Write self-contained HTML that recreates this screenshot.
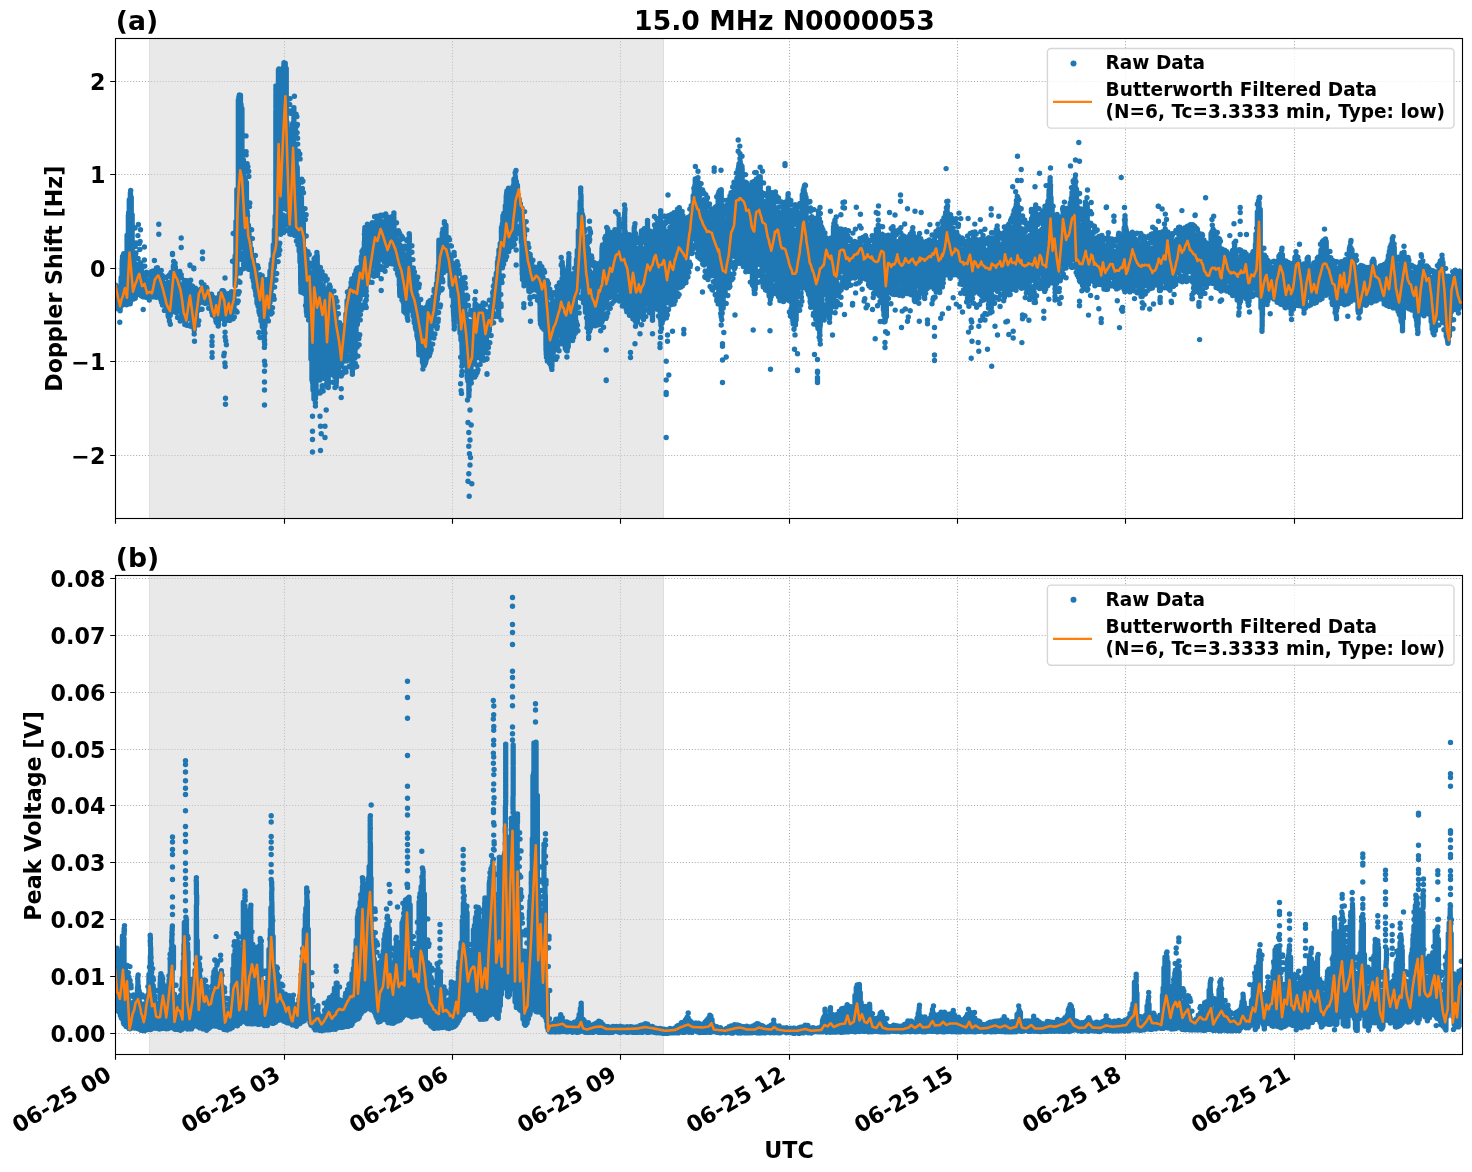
<!DOCTYPE html>
<html lang="en"><head><meta charset="utf-8"><title>15.0 MHz N0000053</title>
<style>html,body{margin:0;padding:0;background:#fff}svg{display:block}text{font-family:"DejaVu Sans","Liberation Sans",sans-serif;font-weight:bold;fill:#000}.t{font-size:22.22px}.T{font-size:26.67px}.l{font-size:18.52px}.g{stroke:#b0b0b0;stroke-width:1.11;stroke-dasharray:1.11 1.83;fill:none}.k{stroke:#000;stroke-width:1.11;fill:none}</style></head><body>
<svg width="1472" height="1172" viewBox="0 0 1472 1172">
<rect width="1472" height="1172" fill="#fff"/>
<defs>
<clipPath id="c0"><rect x="115.50" y="38.50" width="1347.00" height="480.00"/></clipPath>
<clipPath id="c1"><rect x="115.50" y="575.50" width="1347.00" height="479.00"/></clipPath>
</defs>
<g id="panel0">
<path class="g" d="M284.50 518.50V38.50M452.50 518.50V38.50M620.50 518.50V38.50M789.50 518.50V38.50M957.50 518.50V38.50M1125.50 518.50V38.50M1294.50 518.50V38.50M115.50 81.50H1462.50M115.50 174.50H1462.50M115.50 268.50H1462.50M115.50 361.50H1462.50M115.50 455.50H1462.50"/>
<rect x="149.00" y="38.50" width="515.00" height="480.00" fill="#d3d3d3" fill-opacity="0.5"/>
<path d="M149.5 38.50V518.50M663.5 38.50V518.50" stroke="#d3d3d3" stroke-opacity="0.5" stroke-width="1" fill="none"/>
<g clip-path="url(#c0)">
<path d="M117.2 291.2V301.4M118.1 293.2V303.3M119.1 291.6V306.8M120.1 291.7V310.7M121.2 277.5V306.0M122.1 269.3V302.9M123.5 264.7V301.0M124.4 263.6V299.7M125.0 261.6V301.0M126.0 259.5V295.7M127.1 235.1V288.5M128.4 215.5V287.4M129.3 199.8V288.0M130.4 192.6V288.3M131.2 197.3V293.9M132.1 214.6V293.7M133.2 256.7V295.0M134.1 263.4V293.3M135.4 264.2V290.1M136.1 265.9V290.7M137.3 266.0V287.0M138.5 269.8V287.4M139.2 270.0V286.8M140.2 270.5V290.0M141.0 271.9V291.2M142.5 273.1V291.8M143.2 273.0V291.0M144.1 275.1V288.5M145.4 277.0V293.2M146.3 279.6V292.3M147.0 279.9V294.3M148.5 280.5V294.2M149.0 280.4V292.5M150.3 279.6V295.3M151.2 280.6V293.7M152.0 276.5V293.9M153.0 277.6V292.2M154.5 274.5V290.7M155.4 273.0V290.4M156.5 267.9V291.7M157.4 267.7V291.1M158.2 275.2V290.7M159.2 274.6V291.5M160.1 277.7V289.7M161.0 279.9V294.7M162.1 281.7V297.1M163.2 282.5V299.8M164.4 283.8V301.1M165.4 284.4V305.8M166.1 285.1V308.3M167.4 285.1V308.9M168.2 284.7V316.0M168.9 285.9V317.5M170.2 284.0V315.2M171.3 283.8V304.2M172.3 278.1V300.7M173.4 265.9V301.7M173.9 265.7V298.9M175.3 267.0V302.2M176.4 272.5V300.9M177.0 274.5V304.4M178.0 277.2V307.0M179.5 284.9V308.5M180.2 284.8V310.4M181.2 286.7V310.8M182.2 288.1V313.4M182.9 292.1V315.1M184.0 295.0V319.0M184.9 292.8V321.3M186.0 291.5V321.3M187.5 295.5V317.9M188.4 289.8V316.6M189.2 288.4V318.3M190.3 293.0V317.0M191.4 295.6V318.1M192.4 298.3V319.5M193.2 300.4V322.9M194.2 299.2V330.1M195.0 300.7V317.5M196.4 298.1V317.5M197.4 295.8V311.1M198.5 292.8V303.7M199.1 292.2V303.2M200.1 290.2V300.9M201.0 288.9V300.0M202.1 288.5V298.6M203.3 293.1V299.3M204.0 289.6V300.2M205.0 289.9V297.2M205.9 289.8V299.7M206.9 291.7V300.0M208.2 294.2V299.5M209.1 296.2V299.3M210.1 299.1V302.0M211.3 302.2V306.6M211.9 304.1V304.5M213.4 305.7V311.9M214.3 305.6V315.4M215.2 305.3V317.6M216.3 306.2V317.7M217.2 302.7V317.5M218.1 300.9V317.5M219.1 299.9V314.0M220.4 297.1V309.5M221.3 293.7V312.6M222.0 290.7V312.0M223.2 290.8V313.5M223.9 291.4V313.5M225.3 297.2V315.3M226.5 298.0V315.3M227.1 298.0V315.5M228.2 297.9V314.6M229.1 297.6V314.8M230.2 298.9V311.4M231.1 297.6V313.8M232.2 300.3V312.4M233.4 295.3V309.1M233.9 292.7V307.6M235.2 255.7V285.8M236.0 221.4V275.5M236.9 189.4V271.8M238.4 99.8V251.8M238.9 96.9V250.9M240.4 95.2V244.6M241.0 104.5V245.7M241.9 108.4V245.4M243.4 160.0V246.5M244.2 179.1V247.6M245.3 180.1V251.3M246.4 182.4V255.0M247.2 211.7V254.7M248.4 225.1V255.5M249.0 234.3V258.5M250.0 243.1V260.7M251.3 248.8V269.8M252.3 256.3V277.3M253.4 259.5V280.9M254.1 264.0V287.2M255.3 269.3V290.6M255.9 271.0V295.4M257.0 276.7V303.2M258.1 280.8V306.2M259.2 281.9V312.4M259.9 281.1V314.8M261.0 281.4V321.1M262.3 286.5V326.8M263.1 287.6V327.8M263.9 287.3V334.4M264.9 287.3V326.0M266.3 286.7V316.5M266.9 288.0V316.5M268.4 286.2V309.5M269.1 278.6V305.9M270.0 271.3V302.6M271.1 263.8V290.9M272.1 259.5V283.2M273.3 245.0V274.8M274.4 230.0V267.2M275.2 215.9V250.9M276.3 169.2V232.4M277.1 112.4V226.3M278.2 111.8V222.5M279.0 105.1V225.3M280.5 104.8V207.2M281.1 105.5V208.6M282.2 106.6V203.1M283.4 67.5V194.5M284.0 62.8V196.5M285.2 63.3V197.4M286.2 68.4V198.0M287.0 122.5V203.1M288.4 132.2V208.5M289.2 135.6V217.7M290.0 136.7V220.9M291.2 134.6V213.3M292.3 133.7V211.0M293.3 135.7V213.9M294.4 143.1V214.8M294.9 145.4V215.1M296.2 159.2V228.3M297.2 167.3V235.1M298.3 184.9V240.4M299.2 190.7V251.2M300.0 194.0V262.1M301.4 197.4V277.6M302.4 210.3V278.0M303.3 223.0V277.2M304.5 249.8V283.7M304.9 249.2V283.7M306.1 261.8V286.6M307.4 261.8V307.0M308.3 264.7V307.8M309.0 271.1V308.6M310.4 278.1V311.1M311.0 279.7V358.9M312.0 279.2V380.1M313.0 279.1V389.9M314.0 279.2V399.0M315.4 257.7V398.5M316.0 256.8V394.5M317.2 255.7V369.5M318.1 271.0V368.2M318.9 274.5V368.2M319.9 279.0V368.4M321.4 284.7V366.9M321.9 284.7V366.1M323.1 285.0V363.4M324.0 290.3V362.9M324.9 297.4V362.9M326.2 296.5V363.7M327.1 296.1V386.7M328.2 297.0V387.5M329.0 293.7V360.1M330.0 291.9V360.7M331.1 292.8V359.0M332.2 297.4V355.5M333.2 300.2V357.8M334.2 305.1V358.5M335.3 312.5V359.6M335.9 317.2V359.7M337.2 331.0V364.5M338.4 335.4V368.2M339.0 336.0V368.0M339.9 335.3V365.7M341.3 336.7V364.1M342.2 335.9V362.4M343.0 333.5V359.2M344.1 330.7V355.0M345.0 328.3V354.7M346.0 313.9V352.7M347.1 300.7V348.8M348.4 295.7V347.4M349.4 294.4V342.9M350.4 288.5V345.5M351.3 285.1V346.3M352.4 282.9V346.5M353.3 282.1V345.8M354.2 280.9V346.0M355.4 279.2V342.9M356.0 276.4V334.0M357.3 276.3V324.5M358.4 274.7V312.4M359.0 272.3V300.2M360.0 270.8V299.0M361.5 256.6V295.1M362.4 252.3V294.4M363.2 249.5V294.3M364.4 241.6V293.5M365.0 238.6V292.1M365.9 239.8V291.0M367.4 242.0V282.9M368.0 242.0V279.8M369.1 241.2V275.4M370.4 238.7V274.2M371.0 238.0V269.6M372.3 232.7V266.0M373.0 229.9V263.3M374.2 227.3V261.8M375.3 226.1V261.9M376.2 222.7V261.6M377.4 222.8V263.0M377.9 222.5V262.9M379.4 223.9V260.0M380.3 224.3V259.0M381.0 223.5V258.5M382.4 221.7V258.5M383.1 224.1V258.2M384.2 223.7V258.5M384.9 224.0V257.4M386.3 227.1V259.4M387.3 225.5V259.2M388.5 225.8V258.3M389.2 224.6V257.8M389.9 224.0V256.4M391.4 224.1V257.3M392.4 226.2V254.0M393.1 225.5V256.8M394.2 231.8V259.1M395.5 235.5V262.9M395.9 234.6V261.6M397.4 242.9V265.9M398.2 243.3V275.6M399.4 244.2V282.3M400.3 245.5V286.8M401.0 246.7V289.2M402.0 252.0V290.9M403.4 254.3V302.7M403.9 254.3V304.5M405.3 255.8V304.1M406.1 255.5V307.8M407.1 255.8V302.5M408.0 255.8V301.4M409.5 260.4V301.2M410.1 267.3V301.6M411.0 272.7V303.8M412.2 278.4V306.2M413.2 280.8V316.3M414.3 285.1V322.7M415.4 287.6V327.2M415.9 287.7V329.5M417.0 295.1V336.0M418.3 301.6V340.7M419.4 309.1V345.3M420.2 319.2V345.7M421.2 319.6V344.7M422.5 320.2V362.2M423.4 322.9V365.2M424.3 320.5V365.6M425.4 319.2V363.3M426.0 319.4V360.9M427.4 317.6V347.6M428.4 312.1V346.8M428.9 309.8V345.0M430.5 304.6V335.0M431.0 305.2V332.5M432.3 304.5V326.0M433.4 300.9V322.1M434.1 297.7V318.6M435.3 294.8V314.1M436.5 283.5V305.1M437.4 276.0V299.4M438.4 265.7V293.3M439.5 247.5V281.5M440.5 243.7V273.5M441.5 241.6V266.3M442.3 233.0V266.0M443.0 229.3V265.7M443.9 229.1V265.9M445.5 232.5V265.9M446.4 243.1V266.5M447.1 246.3V264.6M448.0 251.0V267.8M449.4 254.6V269.4M450.1 258.7V284.9M450.9 258.6V287.5M451.9 262.7V296.1M453.5 265.5V312.3M454.4 267.2V312.9M455.2 270.0V311.1M456.0 275.3V312.1M457.0 279.5V312.9M457.9 281.2V313.3M459.4 288.2V314.6M460.0 289.2V332.9M461.0 290.1V339.9M462.0 289.4V349.1M463.5 295.0V354.0M464.5 301.8V352.6M464.9 302.0V353.3M466.1 316.4V357.1M467.3 321.3V378.1M467.9 322.8V380.9M469.1 324.9V385.5M470.0 324.8V383.1M471.0 324.1V379.3M472.2 324.5V360.7M473.3 321.3V361.0M474.3 316.4V360.1M475.1 303.9V358.8M476.1 304.4V355.3M477.4 308.7V352.0M478.2 308.2V346.6M479.1 309.7V345.9M479.9 309.6V344.8M481.2 311.6V345.3M482.3 314.3V344.8M482.9 316.7V343.9M484.1 323.0V345.6M485.3 319.2V344.9M486.4 320.0V340.2M486.9 318.7V336.0M488.1 318.5V332.6M489.3 317.1V330.8M490.1 316.5V324.5M491.0 306.6V317.5M492.3 300.3V312.8M493.1 291.5V306.0M494.5 284.5V299.0M495.2 280.1V298.3M496.3 273.3V297.2M497.5 261.9V296.2M498.2 257.7V291.6M499.0 250.0V277.2M500.3 243.5V264.7M501.5 227.5V258.0M502.3 223.9V256.8M502.9 217.2V252.5M503.9 213.2V248.5M505.4 205.6V245.0M506.2 202.6V244.2M507.3 204.7V244.9M508.4 204.1V243.2M509.0 204.7V240.8M510.4 204.8V241.3M511.2 203.6V235.4M512.2 204.8V234.9M513.1 186.3V230.1M514.0 179.2V226.5M515.4 176.7V221.3M516.3 181.5V215.3M517.4 185.1V215.7M518.0 194.8V215.1M519.2 199.1V213.8M520.3 203.8V216.5M521.3 210.0V241.9M522.2 215.2V259.4M523.1 224.8V258.2M524.0 234.7V258.7M525.2 245.7V265.6M526.4 250.6V266.3M527.3 256.0V270.8M528.2 263.6V274.1M528.9 264.6V291.3M530.4 268.1V291.2M531.0 270.7V285.3M532.2 272.8V284.5M533.5 275.3V284.1M534.3 273.1V283.6M535.4 271.7V285.4M536.4 272.0V286.4M537.2 271.0V287.8M538.0 270.9V286.2M539.0 272.6V300.0M539.9 275.3V304.0M541.0 275.9V313.8M542.3 275.9V314.1M543.0 277.5V314.4M544.2 283.3V316.7M545.4 289.5V317.7M546.1 295.7V343.4M547.1 303.0V342.8M548.5 310.2V344.6M549.5 309.8V363.0M550.3 309.1V364.3M551.4 309.3V367.2M551.9 309.1V366.4M553.0 307.6V348.7M554.2 305.3V344.1M555.2 307.6V343.0M556.4 301.3V337.6M557.3 298.1V333.7M558.1 297.6V331.7M559.0 295.6V329.3M560.2 292.2V329.4M561.3 290.1V328.4M562.1 278.4V329.3M563.3 287.9V330.2M564.1 288.8V333.6M565.3 289.7V348.5M566.3 290.8V350.3M567.2 270.1V350.9M568.2 266.9V346.7M569.2 285.3V332.1M570.2 285.2V330.1M571.0 285.8V326.3M572.0 287.8V322.9M573.4 283.8V321.7M574.4 278.5V319.9M575.3 276.9V317.1M576.5 259.5V297.7M577.3 250.5V291.7M578.4 230.7V279.6M579.4 213.8V267.3M580.2 201.5V265.2M581.5 209.6V266.0M582.4 214.5V267.0M583.1 216.9V297.4M584.3 242.8V301.7M585.5 245.0V312.3M585.9 245.4V312.3M587.5 247.7V324.9M588.3 249.5V328.3M589.5 270.7V331.3M590.5 273.0V319.9M591.4 273.8V318.8M592.4 275.2V317.8M593.1 276.3V319.9M594.0 278.6V319.8M595.3 278.2V316.6M596.2 278.1V315.0M597.2 277.6V314.5M598.1 277.1V314.1M599.2 275.8V311.0M600.5 262.8V312.5M601.4 260.9V311.5M602.3 254.7V307.3M602.9 253.5V308.4M604.2 253.2V308.3M605.2 249.6V307.2M606.3 248.7V302.5M606.9 250.0V299.8M608.4 244.9V295.6M609.0 245.4V293.9M610.3 246.1V292.2M611.4 247.5V289.8M612.2 247.8V288.5M613.1 247.0V285.9M614.4 244.4V283.6M615.2 241.1V283.7M616.0 241.6V283.7M617.1 236.4V283.7M618.0 237.3V284.3M619.1 236.8V285.9M619.9 236.1V286.9M621.4 242.0V289.4M622.3 238.7V288.6M623.1 238.3V291.8M624.0 236.2V291.5M625.3 242.7V293.1M626.4 247.6V294.4M626.9 248.0V296.0M628.3 251.2V295.9M629.0 251.8V299.5M630.0 252.1V301.2M631.1 252.5V303.4M632.2 252.8V300.2M633.5 249.4V304.4M634.3 251.5V302.1M635.1 254.3V320.7M636.2 255.6V323.3M637.3 258.0V321.7M638.5 259.6V307.2M639.3 259.5V308.3M640.4 259.2V306.2M641.4 252.4V304.2M642.4 256.2V303.9M643.1 252.6V303.5M644.4 251.6V298.3M645.4 248.2V295.6M646.4 246.7V292.5M647.3 242.7V295.3M648.1 242.1V292.3M649.1 242.9V293.9M650.4 243.0V294.8M650.9 242.8V297.8M652.4 243.7V295.2M653.0 240.7V295.8M654.1 239.8V292.2M655.2 236.0V295.1M656.0 235.5V294.8M657.4 233.6V294.8M658.2 234.3V297.4M659.1 234.8V298.8M660.3 234.2V318.7M660.9 233.7V322.9M662.1 236.1V322.9M663.0 236.4V320.1M664.4 235.5V303.8M665.3 235.9V301.6M666.4 237.0V301.6M667.4 236.6V297.4M668.3 236.9V294.6M669.1 234.1V294.3M670.4 232.1V293.2M671.5 231.5V291.7M672.3 231.1V290.2M673.3 231.3V286.7M674.1 230.6V282.8M675.2 230.2V282.8M675.9 229.8V281.3M676.9 227.9V279.0M678.1 226.5V275.8M679.1 224.8V276.9M680.4 229.8V276.4M681.4 229.2V276.4M681.9 231.0V276.4M683.0 231.3V274.8M684.4 234.5V273.1M685.2 234.4V269.1M685.9 232.8V266.3M687.1 230.8V257.8M688.2 229.4V252.2M689.4 224.7V243.6M690.1 219.7V238.3M691.2 214.6V232.5M692.0 210.5V232.0M693.2 195.6V230.5M694.3 189.0V231.1M695.3 179.0V230.5M696.0 178.9V234.0M697.2 180.3V238.5M698.0 182.0V240.6M699.1 197.7V243.8M700.0 199.7V247.5M701.4 201.5V250.5M702.0 204.0V251.1M703.4 205.2V254.3M704.4 205.6V257.8M705.2 209.8V258.4M706.0 210.0V260.4M707.2 212.0V262.3M708.1 213.6V263.8M709.2 215.9V264.9M710.3 219.5V267.8M711.4 214.5V268.9M712.0 217.4V270.0M713.4 215.4V271.5M714.2 217.3V271.9M715.4 215.0V274.6M716.5 212.8V282.5M717.0 212.0V280.9M718.2 194.1V284.8M719.0 191.7V285.9M720.1 190.2V287.6M721.2 189.7V309.3M722.5 221.2V308.5M723.1 222.5V308.3M724.1 223.8V293.2M725.2 224.7V289.1M726.4 224.6V285.4M727.3 223.1V279.4M728.1 221.3V273.1M729.0 217.5V265.8M730.0 213.6V263.4M731.0 210.4V255.0M732.2 204.6V255.4M733.2 200.2V250.6M734.0 198.0V244.6M735.0 192.1V243.6M735.9 191.7V242.6M737.4 183.7V243.9M738.1 169.1V240.5M739.0 164.0V239.5M740.2 161.6V237.1M741.2 165.1V239.5M742.1 168.8V241.8M743.3 188.2V242.2M744.1 188.6V245.4M745.5 192.0V250.6M746.3 191.2V250.6M747.4 195.0V254.5M748.0 195.8V251.2M749.4 194.4V256.7M750.3 198.0V258.1M751.2 196.6V260.3M752.5 198.1V284.9M753.1 199.0V285.8M754.2 198.1V290.1M755.2 198.4V289.0M756.2 179.3V260.5M757.3 178.6V257.6M758.5 177.6V258.4M759.0 176.7V258.2M760.2 176.8V257.6M761.5 197.0V258.8M762.2 202.4V260.1M763.2 201.5V263.9M764.2 203.2V265.3M765.2 205.3V267.9M766.4 207.5V268.5M767.0 205.5V270.9M768.3 208.9V273.4M769.1 209.6V295.7M770.4 211.5V299.5M771.2 210.6V296.6M772.4 210.7V275.7M773.1 209.7V274.0M774.2 208.0V272.5M775.3 207.6V271.7M776.1 212.5V272.5M777.0 210.9V273.6M778.2 212.0V274.7M779.3 214.8V276.2M780.2 215.9V277.8M781.4 218.2V281.8M781.9 217.7V282.8M783.3 219.2V285.6M784.1 219.3V285.3M785.1 218.9V286.8M786.4 218.2V287.0M787.4 216.8V289.1M788.0 222.6V291.2M789.4 226.3V292.2M790.1 226.5V295.8M791.1 226.3V299.1M792.0 227.8V317.6M793.0 229.8V322.3M794.2 231.9V324.6M795.4 231.0V324.9M796.1 231.4V319.9M797.0 230.1V291.7M798.2 227.5V288.5M799.2 224.3V282.3M800.2 222.4V276.9M801.3 218.3V272.0M802.3 194.6V266.4M803.3 190.2V266.3M804.2 190.5V265.0M805.1 194.0V264.1M806.0 197.1V267.0M807.5 223.9V273.3M808.2 225.4V275.1M809.4 227.7V281.9M810.0 232.2V289.1M811.2 233.0V292.6M812.3 235.3V293.2M813.2 238.0V297.4M814.0 237.9V300.1M815.1 238.5V303.3M816.3 241.5V305.3M817.5 237.3V323.4M817.9 237.8V324.4M819.2 238.6V329.3M820.2 240.6V325.9M821.3 241.4V302.4M821.9 244.9V301.3M822.9 243.9V295.0M824.2 243.6V292.5M825.0 244.1V291.4M826.3 247.1V291.6M827.3 246.4V291.6M828.5 246.1V293.2M829.5 245.3V318.3M830.3 244.9V313.1M831.4 242.7V297.7M832.0 241.9V293.9M833.5 229.0V296.1M833.9 228.9V297.4M834.9 228.1V292.0M836.1 229.5V285.4M837.2 241.8V277.7M838.4 242.3V273.5M839.4 242.8V271.6M840.0 241.8V272.2M841.0 242.8V271.0M842.5 241.9V270.0M843.3 242.4V271.4M844.0 244.1V271.2M845.4 246.4V271.1M846.4 245.9V271.5M847.2 246.1V271.6M848.1 246.5V269.3M849.2 247.4V271.8M850.4 249.7V270.5M851.1 248.1V268.5M851.9 248.8V269.0M853.0 250.0V267.6M854.3 250.8V266.5M854.9 250.2V267.3M856.4 249.7V265.5M857.3 248.8V266.9M858.0 247.3V266.8M859.0 248.2V266.0M860.4 246.2V266.3M861.4 248.0V267.9M862.4 248.8V265.7M863.0 251.0V268.9M864.4 249.4V268.4M865.2 249.2V268.8M866.3 249.5V270.0M866.9 248.8V269.9M868.2 246.9V271.9M868.9 247.4V272.3M870.3 246.4V273.0M871.4 247.5V275.7M872.1 246.3V276.7M873.2 246.4V278.4M874.4 245.4V280.7M874.9 245.2V279.1M876.4 230.6V281.9M877.2 229.8V285.9M878.3 230.0V285.6M879.5 234.1V284.6M880.5 240.8V283.5M881.3 242.9V280.0M881.9 242.6V284.6M883.4 254.7V309.8M884.0 257.7V315.2M885.0 257.9V316.9M886.3 257.3V314.3M887.5 254.5V291.2M888.0 252.4V285.7M889.1 246.0V287.6M890.2 244.3V283.7M891.4 244.1V283.0M892.0 243.6V282.1M893.1 244.9V281.5M894.3 244.6V281.7M894.9 244.5V279.6M896.5 242.0V280.5M897.2 241.7V280.0M898.1 243.3V280.0M899.0 245.1V280.1M899.9 245.2V278.7M901.1 247.7V281.5M902.2 246.9V282.1M903.0 246.6V281.3M904.1 246.6V280.5M905.2 247.3V278.0M905.9 247.3V280.1M907.4 247.0V280.8M908.2 247.3V281.1M909.4 246.7V279.9M910.4 245.6V281.1M911.0 246.2V283.9M912.1 231.4V284.0M913.2 232.7V284.2M914.4 246.8V300.6M915.3 247.1V286.2M916.5 246.9V282.8M917.1 247.7V282.0M918.2 247.0V280.4M919.0 247.0V279.4M920.3 248.2V279.8M921.3 248.1V277.2M922.4 249.4V280.5M923.3 249.6V281.3M924.1 250.0V280.9M925.2 249.2V279.4M926.4 248.9V278.8M927.0 247.9V277.3M928.2 247.1V277.0M929.0 248.6V275.9M930.2 248.4V274.2M931.4 246.8V275.7M932.1 246.0V275.7M933.2 244.7V275.9M934.2 244.2V274.2M935.4 242.7V273.1M936.3 243.6V274.5M937.4 243.1V274.3M938.2 242.5V276.4M938.9 242.6V276.4M939.9 242.4V273.6M941.1 240.8V271.3M942.0 239.2V267.4M943.2 235.8V266.3M944.3 232.6V263.0M945.4 215.1V260.1M946.5 211.8V258.3M947.3 212.0V259.7M948.0 218.5V260.2M949.0 229.5V261.2M950.0 233.8V263.4M951.3 236.1V263.2M952.3 236.2V262.9M953.4 238.0V264.7M954.4 238.5V265.1M955.0 239.2V264.9M956.1 240.6V265.3M957.3 243.2V264.9M958.4 245.0V265.3M959.2 247.4V267.5M960.0 248.6V270.4M960.9 250.0V272.3M962.5 251.9V277.3M963.0 251.0V278.5M964.3 252.6V278.9M965.0 250.6V281.1M966.0 251.0V282.1M967.4 250.1V281.7M968.0 249.4V282.7M969.4 248.3V283.4M970.3 248.9V282.3M970.9 248.6V284.8M972.3 249.6V285.0M973.1 253.3V279.5M974.3 248.9V283.2M975.2 250.4V282.7M976.3 249.1V281.9M977.2 250.8V282.9M978.4 254.0V282.3M979.4 250.1V282.9M979.9 252.3V282.9M981.2 249.6V282.2M982.0 249.6V282.9M983.2 252.9V284.3M984.4 253.1V284.1M985.2 250.7V286.9M986.1 251.1V287.4M987.0 250.1V287.8M988.0 249.8V289.0M989.0 249.4V307.6M990.5 247.8V308.5M991.2 247.2V308.1M992.4 247.2V289.8M993.1 244.3V287.2M994.5 244.2V288.2M995.1 243.1V287.5M996.3 229.4V286.1M997.4 229.9V284.4M998.1 242.5V282.9M999.2 246.0V282.5M1000.0 248.1V278.9M1001.4 249.4V282.7M1002.2 248.8V281.9M1003.3 250.0V275.5M1004.4 247.0V278.6M1005.0 244.1V276.8M1006.5 240.5V280.7M1007.3 240.4V280.1M1008.5 239.1V282.3M1008.9 239.4V282.0M1010.4 239.5V281.3M1011.5 235.4V279.2M1012.2 231.9V280.8M1013.1 230.7V281.4M1014.3 229.9V280.0M1015.4 208.0V277.5M1016.3 204.1V277.7M1017.2 203.0V277.5M1018.5 207.1V276.7M1019.4 229.8V277.6M1020.3 232.8V277.9M1020.9 233.5V274.7M1022.0 236.5V278.1M1023.3 239.4V279.4M1024.2 240.1V280.0M1025.3 239.2V281.8M1026.3 238.9V282.3M1027.3 237.3V280.4M1028.0 236.6V282.1M1029.4 237.5V281.2M1030.2 235.3V281.6M1031.4 235.0V278.2M1032.2 233.7V279.5M1033.2 233.1V279.9M1034.4 231.2V278.6M1035.3 207.8V277.4M1036.5 230.6V278.4M1037.4 231.9V275.8M1038.0 231.6V273.7M1039.2 233.2V274.0M1040.3 231.1V273.8M1040.9 230.9V274.0M1042.1 233.0V274.3M1043.2 230.5V278.0M1044.4 231.2V279.9M1045.3 231.5V276.2M1046.1 232.1V272.0M1047.3 231.7V266.1M1048.0 201.1V259.3M1049.1 190.5V258.4M1050.4 186.9V257.4M1051.0 197.7V254.6M1052.1 205.5V254.0M1053.3 221.5V265.7M1054.1 226.3V270.6M1055.1 230.6V284.9M1056.5 235.7V283.6M1057.5 237.0V275.3M1058.1 236.7V272.5M1059.1 238.1V265.8M1060.1 238.0V260.8M1061.4 231.1V254.9M1061.9 229.2V254.5M1063.0 219.6V251.1M1064.3 220.2V254.8M1064.9 221.0V254.5M1066.1 222.2V254.0M1067.1 221.2V252.0M1068.4 220.5V251.2M1069.0 219.9V251.8M1070.2 203.0V250.6M1071.4 199.2V248.1M1072.1 192.1V250.4M1073.2 190.5V249.4M1074.2 186.8V250.7M1075.2 185.4V250.2M1076.5 189.2V258.6M1077.3 218.1V262.8M1078.0 224.9V270.5M1079.1 226.9V272.7M1079.9 227.1V272.7M1081.3 230.4V275.4M1082.3 230.9V274.1M1083.3 229.8V272.4M1084.1 229.4V272.4M1085.5 201.9V270.8M1086.5 206.0V271.1M1087.2 204.8V272.5M1088.3 228.4V270.0M1089.1 231.4V273.3M1090.3 233.0V271.8M1091.0 236.5V272.5M1092.4 237.7V272.6M1093.3 239.7V271.4M1094.5 244.0V274.8M1095.2 243.2V276.5M1096.4 244.6V277.5M1097.1 247.7V278.6M1098.1 249.3V279.7M1099.0 249.4V279.7M1100.5 250.1V280.7M1101.1 250.2V277.5M1102.3 250.6V278.0M1103.3 252.5V279.5M1104.4 252.0V279.9M1105.0 253.3V279.2M1106.2 253.3V278.5M1107.5 252.2V278.5M1108.1 251.5V275.4M1109.3 250.1V275.9M1109.9 249.0V276.1M1111.0 249.1V277.4M1112.0 250.0V277.4M1113.2 251.0V276.7M1114.5 252.5V275.8M1115.0 253.3V278.3M1115.9 253.0V278.5M1117.5 250.2V279.3M1118.1 250.1V277.7M1119.5 250.2V280.0M1120.4 251.0V280.3M1121.3 249.2V280.4M1122.5 246.4V278.9M1123.1 246.1V278.8M1124.2 227.9V279.0M1124.9 227.6V280.0M1126.3 230.0V276.5M1127.4 245.3V281.9M1128.3 245.2V279.9M1129.1 245.8V277.5M1130.0 243.7V274.3M1131.3 244.4V275.0M1132.2 244.6V275.9M1133.2 244.9V275.6M1134.0 246.5V276.2M1134.9 247.0V276.6M1136.4 247.6V277.7M1137.2 247.8V280.0M1138.4 247.7V282.0M1139.4 250.3V280.7M1140.4 250.1V283.8M1141.1 248.8V296.6M1142.2 250.1V296.6M1143.4 248.3V283.9M1144.0 247.6V280.6M1145.2 247.3V280.7M1146.2 248.5V279.1M1147.5 247.6V276.6M1148.3 247.6V278.6M1149.3 252.5V279.8M1150.0 248.4V277.9M1151.1 249.2V278.6M1152.4 248.1V280.0M1153.4 252.1V278.4M1154.3 251.4V278.0M1155.0 248.5V277.2M1156.4 246.9V277.2M1157.0 245.7V278.5M1158.1 245.8V275.4M1159.5 245.8V290.6M1160.3 243.6V290.4M1161.0 243.7V277.3M1162.0 245.8V276.3M1163.3 243.4V275.7M1164.2 243.0V274.7M1165.2 242.9V271.8M1166.2 242.2V271.0M1167.4 241.8V271.0M1167.9 241.6V271.5M1169.2 244.9V271.4M1170.2 248.3V274.8M1171.2 247.2V279.0M1172.0 247.7V279.0M1173.2 249.3V276.8M1174.5 247.6V274.7M1175.2 249.7V269.8M1176.2 245.6V270.6M1177.4 244.2V269.0M1178.4 241.8V267.8M1179.2 238.3V264.2M1180.1 237.1V267.1M1181.1 238.0V266.3M1182.1 238.3V268.6M1183.2 237.0V268.5M1184.2 236.8V267.8M1185.3 236.7V265.6M1186.4 235.0V265.5M1187.0 233.5V263.0M1188.0 236.4V265.8M1189.5 235.0V266.5M1190.1 235.1V268.7M1191.1 236.3V269.5M1192.2 235.6V270.8M1193.0 236.2V274.0M1194.1 238.9V275.2M1195.0 238.7V274.8M1196.0 239.7V274.9M1197.1 243.0V276.0M1197.9 242.0V276.1M1199.3 247.2V293.1M1200.1 245.6V293.4M1201.0 248.3V281.1M1202.2 251.6V280.8M1203.0 252.6V280.0M1204.3 255.4V280.1M1205.2 255.0V281.4M1206.4 256.8V281.2M1207.3 256.3V280.5M1208.4 253.6V278.9M1209.4 253.1V277.3M1210.2 250.4V275.6M1211.1 233.5V274.3M1212.0 231.6V271.5M1213.1 229.2V276.8M1214.0 230.6V275.3M1215.3 246.5V276.5M1216.5 249.4V277.4M1217.2 253.7V276.8M1218.2 252.8V277.0M1219.2 255.1V277.7M1220.0 256.8V278.6M1221.5 257.5V277.8M1222.5 256.7V273.1M1223.0 257.2V276.0M1223.9 255.1V275.6M1225.4 256.9V275.8M1226.4 260.0V275.7M1227.0 259.5V278.0M1228.5 261.8V280.1M1229.3 261.9V281.9M1230.1 261.0V281.6M1230.9 260.0V283.7M1232.4 259.4V285.1M1233.5 258.4V285.8M1234.4 257.5V287.0M1235.4 258.5V285.7M1236.3 259.2V286.7M1237.2 260.9V300.0M1238.3 259.4V299.4M1239.5 260.1V303.4M1240.4 261.0V301.6M1241.1 259.2V285.3M1242.1 262.5V287.9M1243.0 260.2V286.6M1244.2 260.7V286.4M1245.2 261.0V284.1M1246.0 264.5V286.1M1247.1 265.4V297.0M1248.0 265.5V302.5M1249.0 267.3V301.4M1250.1 265.7V288.8M1251.0 263.2V287.5M1252.3 261.2V285.9M1253.5 260.8V284.4M1254.0 262.5V285.6M1255.5 244.2V274.8M1256.0 233.9V271.3M1257.4 212.0V269.1M1258.5 200.9V269.9M1259.0 202.3V269.4M1260.2 209.5V268.0M1261.0 252.0V307.9M1262.4 260.5V312.3M1263.0 260.5V303.0M1264.3 262.4V297.4M1265.0 264.5V297.7M1266.4 265.1V297.0M1267.5 267.8V298.3M1268.2 268.3V298.0M1269.3 269.4V297.0M1270.3 267.5V296.0M1271.2 268.4V295.7M1271.9 267.4V294.9M1272.9 268.2V296.4M1274.0 268.2V299.0M1275.3 268.1V296.9M1276.2 267.0V298.4M1277.5 264.8V297.5M1277.9 264.5V298.5M1279.0 256.1V297.4M1280.1 254.4V297.5M1281.4 254.1V297.7M1282.4 254.8V298.1M1283.2 264.6V298.2M1284.1 267.7V300.5M1285.4 268.9V301.7M1286.3 269.2V302.7M1286.9 269.6V303.4M1288.1 269.4V302.9M1289.3 270.7V302.1M1290.0 272.4V303.8M1291.4 273.6V305.0M1292.4 271.3V302.9M1293.2 268.8V298.0M1294.4 266.7V295.5M1295.0 257.1V296.6M1296.3 255.8V296.5M1297.0 257.1V296.3M1298.2 263.4V296.6M1299.3 267.9V296.6M1300.1 268.4V298.9M1301.1 271.7V299.3M1302.3 270.6V296.0M1303.1 272.2V303.1M1304.1 271.5V309.7M1305.4 270.8V308.1M1306.1 267.2V297.6M1307.2 258.4V296.3M1308.2 257.2V297.3M1309.0 265.9V297.2M1310.2 268.0V297.1M1311.3 267.9V298.2M1312.1 268.0V300.3M1313.2 268.0V299.9M1313.9 268.8V300.1M1315.4 269.7V299.4M1316.2 268.6V298.1M1317.1 268.6V296.5M1318.0 268.1V295.0M1319.3 262.0V293.9M1320.3 257.7V291.1M1321.0 250.2V288.1M1322.2 242.0V289.5M1323.0 240.9V285.5M1324.4 240.0V288.2M1325.5 239.0V288.5M1326.2 241.8V284.5M1327.2 255.2V289.2M1328.0 260.9V289.8M1329.4 262.3V290.5M1330.0 265.9V291.5M1331.2 265.0V293.4M1332.0 268.0V297.4M1333.2 266.7V300.2M1333.9 266.6V301.8M1335.4 269.5V309.3M1336.5 269.7V310.7M1337.2 270.9V307.8M1338.4 269.0V299.1M1339.0 268.6V299.2M1340.1 267.0V299.4M1341.2 266.1V299.8M1342.0 267.0V299.3M1342.9 266.2V298.0M1344.2 264.5V298.9M1345.5 263.4V299.8M1346.5 263.0V299.3M1346.9 263.8V298.9M1348.0 259.6V294.5M1349.4 248.4V293.7M1350.0 246.3V291.3M1351.0 248.2V290.9M1351.9 249.7V291.3M1353.0 258.5V290.3M1354.3 264.6V290.7M1355.4 267.6V292.7M1356.3 271.4V294.6M1357.3 272.5V299.4M1358.0 273.5V310.5M1359.0 273.6V313.2M1360.2 274.4V311.8M1361.2 272.8V301.4M1362.4 272.8V301.1M1363.4 272.8V300.7M1364.5 271.7V300.0M1365.4 275.5V298.4M1366.2 275.0V301.8M1367.0 272.1V301.2M1368.5 272.7V297.8M1368.9 271.6V296.3M1369.9 272.5V296.9M1371.1 269.8V293.4M1372.2 261.4V294.0M1373.2 259.2V294.3M1374.0 261.2V294.9M1375.3 267.5V295.1M1376.3 268.0V295.6M1377.3 268.5V294.9M1378.1 269.4V295.1M1379.3 269.8V295.3M1380.2 271.0V296.3M1381.3 271.6V297.6M1382.0 271.0V298.6M1383.5 272.1V297.3M1384.0 270.6V301.3M1385.1 270.5V300.0M1386.2 270.2V298.0M1387.2 261.4V299.9M1388.4 255.6V300.0M1389.4 251.2V299.3M1390.1 247.2V299.5M1391.2 244.5V298.5M1392.4 240.3V298.0M1393.1 246.6V296.9M1394.2 247.4V298.9M1395.4 264.3V299.1M1396.4 264.7V297.8M1397.2 266.6V300.6M1398.2 266.4V307.4M1399.2 266.0V314.0M1399.9 269.7V315.3M1401.1 264.1V320.9M1402.0 253.3V322.9M1403.3 253.3V318.2M1404.0 252.2V302.5M1405.4 260.2V301.4M1406.2 263.6V301.2M1407.5 270.0V301.8M1408.1 267.3V302.5M1408.9 268.4V303.3M1410.4 272.5V302.6M1411.1 273.1V304.9M1412.0 272.6V304.7M1413.4 275.1V306.3M1413.9 273.7V306.7M1415.3 274.7V316.6M1416.4 274.6V320.0M1417.0 274.8V325.9M1418.1 274.1V324.0M1419.4 275.3V312.1M1420.4 262.4V309.5M1420.9 262.7V308.7M1421.9 262.6V306.7M1423.3 271.0V305.1M1424.5 270.1V302.7M1425.5 270.1V305.5M1426.5 271.6V305.1M1427.2 271.6V305.0M1428.3 272.9V306.3M1429.0 276.0V307.3M1430.1 277.1V309.5M1431.2 279.4V321.4M1432.2 279.7V329.0M1433.1 279.7V332.9M1434.3 280.0V330.5M1435.4 280.4V330.5M1436.3 279.0V318.8M1437.0 277.1V315.4M1437.9 276.5V311.3M1439.3 263.8V305.5M1440.4 262.2V308.5M1441.1 260.6V306.9M1442.3 262.2V311.8M1442.9 262.1V312.0M1444.0 281.8V317.8M1445.2 284.4V320.1M1446.3 287.7V336.0M1447.2 288.8V338.8M1448.4 288.7V337.6M1449.4 288.8V335.8M1450.1 291.4V320.9M1451.2 285.1V311.9M1452.0 280.2V306.4M1453.4 275.1V301.2M1454.1 274.2V301.6M1455.2 270.1V301.6M1456.0 271.4V300.6M1457.1 276.8V303.2M1458.1 277.4V302.4M1459.3 278.1V306.0M278.9 68.9v0M278.4 70.3v0M278.4 72.4v0M278.4 74.0v0M278.4 76.5v0M278.4 78.7v0M278.4 80.5v0M278.4 82.6v0M278.4 84.8v0M278.4 86.4v0M278.4 88.8v0M278.4 90.7v0M278.4 92.7v0M278.4 95.0v0M278.4 96.8v0M278.4 98.1v0M278.4 100.8v0M278.4 102.5V160.7M275.9 85.9v0M275.9 88.4v0M275.9 89.6v0M275.9 91.9v0M275.9 94.4v0M275.9 95.9v0M275.9 98.1v0M275.9 100.2v0M275.9 102.1v0M275.9 104.2v0M275.9 106.2v0M275.9 108.0v0M275.9 110.4v0M275.9 110.5V245.2M293.9 107.7v0M293.9 110.1v0M293.9 112.2v0M293.9 113.7v0M293.9 115.6v0M293.9 117.9v0M293.9 120.2v0M293.9 122.1v0M293.7 124.1v0M293.4 126.5v0M293.4 128.1v0M293.2 129.6v0M293.2 132.0V179.4M740.0 158.4v0M516.0 170.5v0M515.2 172.8v0M1050.2 177.7v0M1050.0 179.9v0M1050.2 181.3v0M1050.0 183.2v0M1050.0 185.0V223.2M1075.0 178.6v0M1075.0 180.9v0M1073.5 182.5v0M580.7 187.9v0M580.7 189.1v0M580.7 191.2v0M580.7 193.7v0M581.0 195.2v0M581.0 196.5V230.7M804.5 185.8v0M804.0 187.9v0M768.5 188.2v0M768.5 190.0v0M768.5 192.2v0M768.5 194.3v0M768.5 196.3v0M768.5 197.9v0M768.5 200.5v0M768.5 201.6v0M768.5 203.5V237.5M506.9 190.9v0M506.7 192.9v0M506.4 195.0v0M506.2 196.9v0M506.2 198.6v0M506.2 200.5V224.2M130.7 190.4v0M788.2 193.7v0M788.0 195.0v0M788.0 197.7v0M788.0 199.5v0M788.0 201.4v0M788.0 203.8v0M788.0 205.4v0M788.0 207.1v0M788.0 209.6v0M788.0 211.4v0M788.0 213.1v0M788.0 215.0V260.7M1087.0 197.6v0M1259.2 197.5v0M1016.7 200.4v0M1035.7 204.9v0M679.2 207.7v0M679.0 209.7v0M679.0 211.2v0M679.0 213.6v0M679.0 215.1v0M679.0 217.9v0M679.0 219.9v0M677.5 221.1v0M677.5 222.0V248.0M1063.0 207.4v0M1063.0 209.9v0M1063.0 211.2v0M1063.2 213.6v0M1063.5 215.7v0M1065.5 217.9v0M1065.5 218.0V222.3M947.5 205.9v0M947.2 208.2v0M1045.0 206.2v0M1045.0 208.2v0M1045.0 210.1v0M1045.0 212.4v0M1045.0 214.9v0M1045.0 216.6v0M1045.0 218.3v0M1045.0 221.0v0M1045.0 222.1v0M1045.0 224.3v0M1045.0 226.9v0M1045.0 228.5V265.0M625.0 208.9v0M625.0 210.0v0M624.7 212.7v0M624.7 214.0v0M624.7 216.9v0M624.7 218.7v0M624.7 220.5v0M624.7 222.1v0M624.7 224.9v0M624.7 226.7v0M624.7 228.5v0M624.7 230.3v0M624.7 232.3v0M624.7 234.5V260.3M660.7 210.6v0M660.7 212.2v0M660.7 214.9v0M660.7 216.7v0M660.7 218.9v0M660.7 220.2v0M660.7 222.8v0M660.7 224.9v0M660.7 226.3v0M660.7 228.2v0M660.7 230.5V265.2M818.5 211.0v0M818.5 212.5v0M818.5 214.7v0M818.5 216.9v0M818.5 218.7v0M818.5 220.0v0M818.5 222.3v0M818.5 224.0v0M818.5 226.7v0M818.5 228.3v0M818.5 230.5v0M819.0 232.5v0M819.0 234.5V276.6M393.9 213.0v0M393.9 214.6v0M393.9 217.4v0M393.9 219.5v0M393.9 220.6v0M393.9 221.5V245.9M1125.0 215.6v0M1125.0 218.4v0M1125.2 219.9v0M1125.0 222.3v0M1125.0 223.7v0M1125.0 225.5V266.0M619.2 218.8v0M619.2 221.2v0M619.2 222.9v0M619.2 225.0v0M619.2 227.4v0M619.2 229.0v0M619.2 230.8v0M619.2 233.0V255.1M444.4 221.8v0M444.4 223.4v0M445.9 225.3v0M445.9 226.0V247.6M835.0 220.9v0M835.0 223.1v0M367.4 224.1v0M367.4 226.2v0M367.4 228.4v0M367.4 230.1v0M367.4 232.2v0M367.4 234.5v0M367.4 236.5v0M367.4 237.5V281.7M290.2 225.1v0M289.9 226.9v0M289.9 228.9v0M289.7 231.2v0M290.2 215.3V223.0M647.5 222.7v0M647.5 225.0v0M647.5 226.7v0M647.5 229.4v0M647.5 231.0v0M647.5 233.1v0M647.5 235.4v0M647.5 236.5v0M647.7 239.1v0M647.7 240.5V265.2M364.9 227.5v0M364.7 229.7v0M364.7 231.6v0M364.4 234.1v0M364.7 235.7v0M364.7 237.0V260.1M634.5 226.7v0M634.2 228.1v0M634.2 230.4v0M634.2 232.8v0M634.2 234.4v0M634.2 237.0v0M634.2 238.9v0M634.2 240.5v0M634.2 242.5v0M634.2 244.6v0M634.2 246.5V279.9M893.0 226.7v0M893.0 229.0v0M893.0 230.8v0M893.0 232.3v0M893.0 234.8v0M893.0 236.5v0M893.0 238.8v0M893.0 240.9v0M893.0 241.0V264.9M606.7 227.5v0M607.7 229.0v0M607.7 230.6v0M607.7 232.7v0M607.7 234.7v0M607.7 236.9v0M607.7 239.1v0M607.7 241.1v0M607.7 243.0V278.4M280.2 229.8v0M280.4 232.2v0M280.2 188.6V228.0M656.5 230.2v0M664.0 229.0v0M641.5 231.0v0M641.5 232.6v0M641.2 234.8v0M641.0 236.8v0M640.7 238.9v0M640.7 241.5v0M640.7 243.0v0M640.7 245.0v0M640.7 246.9v0M640.7 248.8v0M640.7 250.5V290.7M1187.5 229.7v0M845.0 230.9v0M845.0 232.8v0M845.0 234.4v0M845.0 236.9v0M845.0 238.2v0M845.0 239.5V255.1M1179.5 233.5v0M409.2 233.7v0M409.4 235.0v0M409.4 237.7v0M409.4 239.6v0M409.4 241.3v0M409.4 243.9v0M409.4 245.4v0M409.2 247.6v0M408.9 249.1v0M408.9 251.5V271.5M1167.5 236.6v0M1167.5 238.2v0M1167.5 239.5V244.1M1108.0 237.3v0M1108.0 238.9v0M1108.0 240.7v0M1108.0 243.3v0M1108.0 244.7v0M1107.5 246.6v0M1107.5 247.5V267.5M438.9 240.2v0M438.9 242.5V264.7M860.0 238.4v0M860.2 240.4v0M860.2 241.8v0M860.2 243.5V249.2M1351.0 240.4v0M1350.7 242.2v0M602.5 245.0v0M602.2 246.7v0M602.0 248.8v0M602.0 251.0V283.3M970.0 244.3v0M1234.2 243.0v0M1234.7 245.1v0M1234.5 246.7v0M1234.5 249.3v0M1234.5 251.4v0M1234.5 252.6v0M1236.0 255.4v0M1236.0 255.5V272.6M1282.0 248.1v0M1281.7 250.3v0M1296.0 251.6v0M122.5 256.4v0M122.5 258.6v0M122.2 260.8v0M122.2 262.5V298.0M569.0 257.1v0M568.7 259.8v0M568.7 261.6v0M568.7 263.5V302.8M1245.2 257.1v0M1442.0 255.1v0M1421.5 256.2v0M173.7 261.5v0M562.2 262.2v0M562.2 263.9v0M562.5 265.7v0M562.5 267.6v0M562.7 270.1v0M562.5 271.6v0M562.5 273.9v0M564.0 276.2v0M564.0 276.5V306.9M522.0 264.2v0M522.0 265.8v0M522.2 268.5v0M522.2 269.8v0M522.2 272.4v0M522.2 273.8v0M522.5 275.7v0M522.5 278.4v0M522.5 279.5v0M522.0 208.2V262.0M539.7 263.5v0M539.5 264.9v0M539.5 266.6v0M539.5 269.0V279.7M1288.7 264.9v0M1290.0 266.9v0M377.7 265.3v0M377.7 267.3v0M377.7 269.9v0M377.7 271.5v0M377.7 273.3v0M377.4 275.4v0M377.7 240.4V265.5M524.0 269.2v0M524.0 272.0v0M524.0 273.7v0M524.0 275.8v0M524.0 277.1v0M524.0 279.0v0M524.0 281.3v0M524.0 283.2v0M524.0 285.7v0M524.0 228.0V267.5M860.5 272.1v0M860.5 273.6v0M860.5 276.2v0M860.5 278.5v0M860.5 279.8v0M860.2 281.6v0M860.5 249.2V270.0M262.2 275.8v0M261.9 277.6v0M261.9 279.0V281.3M1088.7 276.8v0M1084.0 279.3v0M1084.0 281.4v0M1084.0 282.9v0M1084.0 284.9v0M1084.0 287.3v0M1084.0 257.2V277.0M189.7 283.0v0M189.4 285.4v0M189.4 286.0V297.0M1194.7 278.2v0M1195.0 279.8v0M1195.0 282.5v0M1195.0 283.9v0M1195.0 285.5v0M1195.0 288.1v0M1195.0 289.9v0M1195.0 291.8v0M1194.7 256.2V278.0M932.5 279.3v0M932.5 255.3V279.0M939.5 280.9v0M939.7 283.3v0M939.7 285.2v0M939.7 287.2v0M939.7 288.6v0M939.7 291.5v0M939.7 292.5v0M939.5 259.0V279.0M300.7 281.6v0M300.7 284.0v0M300.9 286.3v0M300.9 288.4v0M300.9 289.8v0M300.9 292.1v0M300.7 228.1V280.0M1170.0 282.6v0M1170.0 284.5v0M1170.0 286.9v0M1170.0 288.0v0M1170.0 290.3v0M1170.0 261.0V280.5M1044.0 283.3v0M1044.0 285.1v0M1044.0 287.7v0M1044.0 289.5v0M1044.7 291.4v0M1044.0 265.0V281.5M201.4 282.2v0M201.9 283.6v0M1172.7 282.1v0M115.7 285.1v0M116.2 286.5v0M115.5 288.9v0M924.5 284.6v0M924.5 286.5v0M924.5 289.4v0M924.5 290.9v0M924.5 293.3v0M924.5 294.5v0M924.5 296.9v0M924.7 298.6v0M924.5 260.8V283.0M1221.2 282.5v0M1221.2 285.3v0M1221.5 287.3v0M1221.5 289.0v0M1221.5 290.8v0M1221.2 276.5V283.0M1126.7 285.2v0M462.7 286.2v0M330.2 287.0v0M328.9 289.1v0M1055.0 288.8v0M970.2 289.8v0M970.2 291.5v0M970.2 293.2v0M970.2 295.9v0M970.2 297.1v0M970.2 299.3v0M970.2 301.1v0M970.2 255.1V287.5M399.7 293.6v0M399.9 295.8v0M399.7 265.3V292.0M755.0 293.5v0M530.0 297.0v0M530.0 298.6v0M130.4 297.5v0M130.4 300.3v0M130.4 302.3v0M130.2 303.7v0M130.4 260.2V296.0M498.7 300.7v0M498.7 303.0v0M498.7 305.4v0M498.7 307.4v0M498.7 308.9v0M498.7 310.7v0M498.7 313.2v0M498.7 314.7v0M498.9 316.8v0M498.7 261.2V299.0M474.9 299.5v0M834.2 301.8v0M652.5 302.8v0M652.5 304.6v0M652.5 306.3v0M652.5 308.3v0M652.5 310.9v0M652.5 312.8v0M652.5 314.3v0M652.5 316.0v0M652.5 318.8v0M652.5 320.3v0M652.5 264.5V300.5M770.0 303.3v0M1389.0 305.4v0M1384.2 303.9v0M1239.2 307.5v0M1248.7 305.1v0M1286.5 306.3v0M630.7 309.5v0M643.5 309.4v0M643.5 311.1v0M643.5 313.1v0M643.5 315.5v0M643.5 317.8v0M643.5 319.4v0M643.5 284.0V307.5M1291.2 307.6v0M1291.2 309.4v0M1291.2 311.7v0M1291.2 313.9v0M1291.2 292.1V307.5M306.4 311.5v0M306.7 313.3v0M306.9 315.6v0M306.4 277.3V309.5M403.9 311.4v0M403.9 286.7V309.5M407.2 312.1v0M407.2 313.5v0M407.2 315.6v0M407.4 318.1v0M407.9 320.3v0M407.2 287.7V310.0M1304.0 313.0v0M990.2 312.9v0M722.2 313.3v0M453.7 316.1v0M453.9 318.7v0M453.9 320.5v0M454.2 322.4v0M454.2 324.7v0M454.4 326.7v0M454.2 329.0v0M453.7 280.0V314.5M1262.2 316.1v0M1262.2 318.0v0M1262.2 320.5v0M1262.2 322.0v0M1262.2 324.3v0M1262.2 326.1v0M1262.0 328.9v0M1262.2 293.0V314.5M1336.2 315.2v0M1336.5 317.3v0M540.2 317.6v0M540.2 320.1v0M540.5 321.5v0M540.5 323.8v0M540.2 281.9V316.0M1359.0 318.1v0M225.9 320.8v0M885.2 320.0v0M885.0 321.5v0M169.4 320.9v0M218.4 322.3v0M218.4 324.6v0M218.2 326.0v0M218.4 313.6V320.5M1402.5 326.6v0M1402.5 328.4v0M1402.5 330.7v0M1402.5 281.2V324.5M661.5 328.4v0M794.0 329.2v0M1417.7 329.7v0M1418.0 332.0v0M1417.7 333.6v0M1417.7 304.5V328.0M819.7 333.9v0M820.0 335.2v0M819.7 271.1V331.5M194.2 334.0v0M588.7 336.6v0M264.2 337.7v0M264.4 340.4v0M264.4 341.9v0M264.7 344.2v0M264.2 316.4V336.0M1447.7 341.5v0M1448.0 343.2v0M546.0 347.5v0M546.0 349.6v0M546.2 351.5v0M546.2 353.7v0M546.5 355.4v0M546.5 357.3v0M546.0 298.7V345.5M485.2 349.2v0M485.7 351.6v0M485.2 331.6V347.5M355.2 350.1v0M355.2 292.4V348.5M418.7 350.7v0M418.9 352.6v0M418.9 354.8v0M418.7 325.3V348.5M352.4 350.4v0M352.4 352.3v0M352.4 354.3v0M352.4 356.2v0M352.4 358.8v0M352.4 360.1v0M352.4 362.2v0M352.4 364.7v0M352.4 366.4v0M352.4 368.8v0M352.4 370.7v0M352.4 372.1v0M352.4 374.2v0M352.4 290.7V350.5M462.2 357.5v0M462.2 359.5v0M462.2 361.8v0M462.4 363.5v0M462.4 365.6v0M462.2 319.2V355.5M422.9 369.1v0M321.9 372.1v0M340.9 373.2v0M336.4 373.7v0M336.4 375.4v0M336.4 377.8v0M336.4 379.0v0M336.4 381.5v0M336.2 383.4v0M336.2 386.0v0M336.4 324.6V371.5M468.9 392.2v0M468.9 394.1v0M468.9 396.3v0M468.9 366.1V390.5M315.4 402.7v0M116.2 307.5v0M117.0 308.5v0M117.6 307.4v0M123.7 253.6v0M124.7 258.1v0M126.5 304.7v0M127.9 303.9v0M128.6 299.0v0M129.6 298.8v0M133.0 297.9v0M133.5 299.1v0M135.2 298.2v0M135.2 246.6v0M135.9 252.9v0M135.3 297.2v0M136.8 258.7v0M137.7 294.0v0M139.3 294.5v0M141.1 295.8v0M141.8 266.0v0M142.4 266.1v0M143.0 296.8v0M143.2 296.7v0M144.8 266.1v0M146.0 297.2v0M146.5 272.3v0M147.0 297.3v0M147.9 272.9v0M149.2 274.6v0M150.7 273.5v0M150.8 297.3v0M151.4 271.8v0M153.1 273.0v0M153.5 271.0v0M153.8 296.8v0M155.0 296.4v0M156.0 295.8v0M156.3 297.3v0M158.1 297.1v0M158.8 296.1v0M159.7 295.5v0M161.2 270.5v0M160.9 300.1v0M161.6 302.3v0M162.2 275.5v0M162.5 305.0v0M164.7 277.3v0M164.4 310.4v0M166.5 277.6v0M168.2 276.2v0M168.8 276.1v0M169.5 274.9v0M171.1 272.5v0M173.6 306.0v0M175.1 312.0v0M174.2 309.3v0M176.1 312.5v0M176.2 310.4v0M177.6 317.4v0M178.3 311.4v0M179.8 271.5v0M179.2 317.0v0M181.2 274.7v0M180.2 321.0v0M181.3 277.6v0M182.0 317.8v0M184.0 282.1v0M184.7 280.5v0M184.8 324.5v0M185.9 283.9v0M186.4 285.8v0M186.9 325.3v0M187.5 280.7v0M189.6 283.0v0M189.4 325.7v0M190.7 280.1v0M190.9 326.3v0M191.8 286.1v0M191.7 323.0v0M192.3 285.9v0M193.9 293.0v0M194.3 289.0v0M196.0 294.2v0M195.5 288.2v0M196.4 289.6v0M198.2 324.9v0M198.8 320.8v0M200.9 309.3v0M202.0 309.2v0M203.5 302.5v0M205.0 287.0v0M205.4 303.4v0M206.5 287.4v0M206.7 303.1v0M211.5 294.2v0M211.7 312.1v0M213.1 297.3v0M212.4 315.1v0M215.5 301.5v0M215.9 321.1v0M216.8 299.2v0M216.5 322.4v0M217.6 297.8v0M219.7 293.8v0M221.6 318.3v0M223.3 317.1v0M224.4 320.2v0M228.1 293.7v0M229.1 294.4v0M230.5 319.4v0M231.5 291.7v0M233.1 318.8v0M234.3 316.9v0M236.2 311.0v0M237.1 312.1v0M237.2 302.7v0M238.2 294.0v0M238.5 281.0v0M238.2 300.9v0M238.3 291.5v0M239.9 282.3v0M239.2 291.7v0M239.6 269.5v0M240.4 273.1v0M241.0 256.2v0M240.9 256.5v0M242.1 256.1v0M241.6 259.4v0M241.9 254.2v0M242.7 269.0v0M242.6 253.3v0M243.2 255.7v0M243.8 266.8v0M243.8 268.5v0M243.6 264.0v0M244.7 259.5v0M245.2 262.0v0M246.0 135.9v0M246.1 151.6v0M246.1 154.9v0M246.1 266.9v0M246.8 171.6v0M247.1 163.6v0M246.9 264.9v0M247.9 166.8v0M247.6 171.2v0M247.2 261.8v0M248.7 171.2v0M248.8 176.4v0M248.6 269.2v0M249.5 206.6v0M249.8 202.9v0M250.2 265.1v0M251.6 229.8v0M252.4 238.6v0M255.4 255.5v0M257.6 265.6v0M258.3 268.1v0M264.3 282.4v0M265.8 279.6v0M266.6 280.4v0M267.3 283.2v0M268.4 320.9v0M270.9 314.0v0M272.1 312.7v0M272.5 307.7v0M273.5 295.7v0M274.2 299.2v0M274.6 287.1v0M275.9 280.0v0M276.7 273.5v0M278.1 261.6v0M277.6 255.2v0M279.0 245.9v0M278.9 254.4v0M278.3 249.9v0M279.8 250.2v0M279.8 243.1v0M280.2 99.0v0M280.9 99.8v0M281.0 92.0v0M280.4 234.0v0M280.7 234.3v0M281.4 75.4v0M281.9 97.4v0M282.0 92.9v0M281.2 99.6v0M282.0 228.9v0M283.1 221.5v0M282.8 220.0v0M283.6 232.4v0M283.4 215.3v0M283.3 219.3v0M284.4 206.2v0M284.2 220.6v0M284.8 230.0v0M285.0 225.5v0M285.2 199.9v0M285.3 205.2v0M285.4 205.0v0M285.3 208.6v0M286.8 209.6v0M286.5 208.6v0M287.0 221.9v0M286.3 208.7v0M287.2 216.0v0M287.6 230.5v0M287.7 219.4v0M288.8 225.2v0M289.7 104.4v0M290.0 98.6v0M289.6 104.5v0M290.0 110.9v0M289.9 233.9v0M290.7 113.3v0M290.4 128.8v0M290.2 130.9v0M290.7 234.3v0M291.9 128.1v0M291.9 132.0v0M291.7 229.5v0M292.5 124.5v0M292.9 123.3v0M292.3 223.6v0M293.1 223.6v0M293.7 231.0v0M294.0 219.9v0M293.7 224.6v0M294.7 235.6v0M294.9 233.6v0M295.5 128.5v0M295.8 134.3v0M296.1 114.2v0M296.0 233.8v0M296.9 125.7v0M296.9 116.6v0M297.1 132.6v0M296.5 241.0v0M297.6 138.2v0M297.7 144.1v0M297.4 124.5v0M297.9 244.8v0M298.9 154.5v0M298.3 151.2v0M298.6 156.7v0M299.8 153.9v0M300.1 158.9v0M300.3 180.3v0M302.0 182.0v0M301.7 179.2v0M302.4 188.5v0M302.9 181.3v0M303.1 288.9v0M302.7 283.2v0M303.5 192.8v0M303.6 292.5v0M303.3 293.1v0M305.0 208.6v0M304.3 291.6v0M304.9 293.7v0M305.4 219.4v0M306.1 214.8v0M305.6 305.5v0M306.2 236.0v0M307.9 251.7v0M308.3 254.2v0M308.9 311.7v0M308.6 319.9v0M309.2 254.4v0M310.8 263.1v0M311.9 264.4v0M311.2 266.4v0M313.0 276.6v0M312.4 267.1v0M313.5 272.1v0M314.1 258.7v0M319.9 378.2v0M320.1 393.0v0M320.0 375.3v0M320.4 267.5v0M320.6 377.7v0M320.3 391.9v0M321.1 377.4v0M322.1 271.6v0M322.2 375.8v0M322.0 389.1v0M322.3 279.0v0M323.1 391.0v0M322.2 385.7v0M323.4 275.4v0M323.9 377.4v0M324.1 369.5v0M325.2 276.0v0M324.6 378.4v0M325.0 377.1v0M326.0 280.6v0M325.3 369.7v0M326.2 384.4v0M327.2 279.2v0M327.9 292.4v0M328.2 291.7v0M328.8 286.9v0M329.5 285.0v0M331.8 372.8v0M331.6 366.4v0M331.9 366.5v0M333.1 365.3v0M332.2 368.8v0M333.0 382.3v0M333.9 291.1v0M333.5 366.1v0M333.2 375.0v0M333.4 369.4v0M334.8 370.2v0M334.7 376.7v0M335.7 297.8v0M336.9 301.2v0M337.8 307.0v0M338.4 313.8v0M339.6 322.6v0M339.2 375.9v0M339.9 372.2v0M340.7 331.7v0M341.5 327.8v0M341.3 376.0v0M342.3 326.7v0M342.3 374.1v0M343.3 372.2v0M344.7 368.2v0M345.6 368.2v0M346.0 372.0v0M346.5 358.2v0M346.6 360.9v0M347.4 292.0v0M347.4 357.3v0M347.4 357.5v0M349.2 366.8v0M349.0 358.6v0M349.4 366.2v0M349.7 355.9v0M351.1 282.4v0M350.8 351.1v0M350.6 350.7v0M350.7 360.1v0M351.7 364.1v0M352.0 359.3v0M351.8 360.7v0M353.0 278.4v0M353.6 352.1v0M353.5 354.2v0M354.6 274.7v0M354.7 350.2v0M354.7 358.3v0M356.0 271.0v0M355.3 363.5v0M355.5 354.1v0M355.3 367.1v0M356.6 269.6v0M356.7 366.4v0M356.6 366.4v0M357.2 268.3v0M357.2 347.1v0M357.9 356.1v0M358.5 267.8v0M358.8 338.7v0M359.1 344.7v0M359.7 334.7v0M359.4 335.4v0M360.4 314.5v0M360.2 319.9v0M361.2 309.8v0M361.2 305.2v0M363.1 307.7v0M363.7 305.8v0M365.1 302.0v0M365.5 305.8v0M367.1 229.7v0M366.5 295.8v0M368.4 236.9v0M369.1 229.0v0M369.4 225.8v0M369.8 225.8v0M371.1 226.1v0M371.8 228.2v0M372.0 282.4v0M372.3 222.6v0M374.0 224.1v0M373.9 276.3v0M374.6 216.8v0M374.3 272.8v0M376.0 216.6v0M375.5 266.9v0M376.7 216.3v0M376.5 270.5v0M378.5 216.6v0M379.6 218.1v0M380.0 268.7v0M380.5 215.2v0M380.7 266.4v0M382.2 215.3v0M382.0 269.4v0M383.1 267.3v0M384.1 267.0v0M384.3 216.2v0M384.2 261.7v0M385.3 216.4v0M386.2 220.6v0M386.7 265.4v0M387.9 216.9v0M387.9 263.0v0M389.2 221.6v0M389.2 263.4v0M389.3 221.4v0M390.8 261.4v0M391.4 217.2v0M391.9 263.7v0M392.4 216.4v0M392.8 263.5v0M393.9 218.8v0M393.8 262.6v0M394.7 264.4v0M396.1 222.6v0M395.8 269.1v0M396.5 222.8v0M397.5 231.2v0M398.9 232.0v0M398.4 230.7v0M399.4 233.0v0M399.7 233.7v0M400.6 239.4v0M401.4 236.0v0M402.0 300.1v0M402.3 237.2v0M403.2 238.6v0M404.8 246.1v0M404.6 248.8v0M406.1 246.1v0M406.0 249.0v0M405.7 313.3v0M406.8 240.4v0M408.1 239.9v0M408.5 238.6v0M410.2 307.9v0M411.0 310.3v0M411.9 252.3v0M411.9 245.7v0M411.6 309.9v0M412.9 259.6v0M413.3 268.0v0M414.4 272.0v0M415.2 276.5v0M416.7 281.3v0M417.7 277.3v0M418.8 287.5v0M419.3 284.3v0M420.7 299.5v0M421.6 307.6v0M422.4 314.8v0M423.9 311.9v0M425.1 312.6v0M426.0 309.1v0M426.3 307.2v0M427.9 304.4v0M428.4 302.1v0M429.9 300.7v0M429.3 355.7v0M430.1 353.1v0M430.7 300.4v0M431.1 350.2v0M430.9 348.7v0M431.2 349.4v0M433.1 297.0v0M432.7 344.1v0M433.9 338.1v0M434.2 289.2v0M434.9 333.9v0M436.2 326.2v0M437.0 328.6v0M438.1 321.4v0M437.3 326.4v0M438.6 312.5v0M438.3 319.1v0M440.0 306.9v0M440.5 304.9v0M441.3 290.1v0M442.2 288.7v0M442.5 279.5v0M442.8 281.7v0M443.7 272.4v0M444.8 268.9v0M446.0 270.6v0M446.9 269.6v0M447.3 270.4v0M448.7 237.7v0M449.5 239.7v0M450.8 245.6v0M451.4 246.1v0M452.6 255.0v0M454.1 252.4v0M454.3 255.6v0M457.1 261.8v0M456.9 316.1v0M458.1 265.3v0M458.0 318.8v0M458.8 270.3v0M459.3 273.6v0M461.2 282.1v0M461.7 284.3v0M461.8 285.6v0M462.5 277.9v0M462.4 278.8v0M463.4 282.2v0M463.3 358.5v0M463.2 357.5v0M465.2 283.5v0M464.5 363.0v0M465.1 358.7v0M465.7 287.9v0M466.7 295.1v0M466.4 296.4v0M467.5 298.7v0M467.6 296.3v0M469.1 314.3v0M468.5 305.5v0M469.9 314.1v0M470.8 310.5v0M471.9 314.3v0M472.7 315.5v0M472.2 313.7v0M475.2 371.8v0M474.8 377.0v0M475.6 373.7v0M475.9 375.0v0M477.2 372.4v0M477.3 365.5v0M478.0 369.7v0M478.2 357.4v0M479.8 356.1v0M480.1 364.4v0M481.0 306.2v0M480.7 356.1v0M480.4 349.6v0M481.8 307.1v0M481.3 359.8v0M481.9 351.1v0M483.0 307.9v0M482.4 352.1v0M482.4 355.2v0M483.8 360.2v0M484.0 359.9v0M485.1 311.3v0M484.9 358.7v0M486.1 359.4v0M487.2 315.5v0M487.0 358.7v0M487.4 352.9v0M488.1 353.0v0M488.4 347.4v0M489.8 342.7v0M491.1 335.5v0M493.6 322.7v0M495.1 316.6v0M495.4 313.9v0M496.2 306.8v0M498.2 309.5v0M501.0 304.0v0M501.1 306.4v0M500.8 294.5v0M501.4 280.3v0M502.0 282.6v0M503.1 276.0v0M502.5 267.8v0M503.6 264.3v0M504.5 259.5v0M505.3 255.1v0M506.7 256.4v0M508.0 250.9v0M508.5 191.7v0M508.5 188.3v0M508.7 251.4v0M509.9 198.1v0M509.9 190.9v0M509.4 248.2v0M511.0 195.3v0M511.0 199.1v0M510.8 244.9v0M512.1 197.5v0M512.4 246.2v0M513.5 242.8v0M514.4 244.5v0M515.5 238.7v0M516.7 230.7v0M517.2 233.7v0M517.5 229.3v0M519.2 229.4v0M523.7 263.9v0M523.8 280.5v0M523.4 276.2v0M524.6 211.6v0M526.2 221.6v0M525.6 271.1v0M525.5 271.5v0M526.8 229.9v0M527.0 282.9v0M528.0 243.4v0M528.8 247.5v0M530.2 254.4v0M530.4 257.4v0M531.7 263.0v0M532.6 266.8v0M534.1 288.5v0M535.2 267.2v0M535.0 288.4v0M536.0 268.8v0M536.6 290.2v0M541.8 266.8v0M542.0 327.3v0M541.3 325.3v0M542.5 270.5v0M542.5 322.5v0M542.7 325.0v0M543.9 270.3v0M543.8 329.3v0M543.2 319.2v0M544.6 272.3v0M547.1 280.6v0M547.5 281.8v0M547.9 286.1v0M547.3 351.9v0M547.3 360.9v0M548.5 283.7v0M549.0 289.8v0M549.8 289.2v0M549.6 294.3v0M550.6 304.5v0M550.5 292.6v0M551.7 298.9v0M552.9 301.5v0M553.3 292.8v0M553.2 295.1v0M555.2 292.8v0M555.9 359.4v0M556.8 286.4v0M557.1 357.0v0M556.5 349.6v0M557.5 290.0v0M557.4 344.8v0M557.8 346.1v0M558.7 291.5v0M559.1 291.0v0M559.0 350.8v0M558.9 341.7v0M559.4 282.8v0M559.7 343.7v0M560.0 343.5v0M560.7 335.9v0M562.1 340.1v0M563.1 344.0v0M565.8 286.1v0M572.0 278.9v0M571.8 282.9v0M571.9 340.4v0M572.4 331.8v0M572.6 340.6v0M573.2 274.5v0M573.4 273.6v0M573.5 332.0v0M573.6 337.3v0M574.7 268.2v0M574.8 325.7v0M576.2 327.8v0M575.2 333.2v0M577.0 324.1v0M577.0 324.2v0M577.4 325.2v0M577.9 330.7v0M579.1 312.9v0M578.7 307.2v0M579.7 297.6v0M579.7 297.2v0M580.3 284.8v0M581.0 298.2v0M582.1 286.8v0M581.5 273.3v0M586.7 238.1v0M586.3 238.3v0M587.5 236.6v0M587.5 241.6v0M589.7 239.7v0M589.3 236.0v0M589.3 241.4v0M590.5 233.0v0M590.3 231.5v0M591.9 258.1v0M591.5 256.0v0M593.1 263.3v0M593.2 324.8v0M593.4 262.2v0M593.2 265.5v0M593.9 324.8v0M595.2 271.1v0M594.7 263.9v0M595.1 325.7v0M596.0 263.4v0M595.8 268.7v0M595.4 324.6v0M596.4 275.7v0M596.5 322.1v0M597.4 266.3v0M597.4 325.1v0M598.8 273.5v0M598.4 324.6v0M599.9 324.5v0M599.3 317.2v0M600.7 316.1v0M600.8 316.4v0M601.8 321.9v0M601.8 316.0v0M602.5 320.2v0M602.2 320.6v0M603.4 246.5v0M604.0 317.2v0M603.7 317.2v0M604.8 238.2v0M604.7 318.4v0M604.2 314.1v0M605.3 240.1v0M605.4 241.5v0M605.3 314.5v0M605.9 318.4v0M606.7 316.4v0M607.7 312.9v0M609.0 308.2v0M609.8 304.5v0M610.7 241.0v0M610.7 232.5v0M610.2 308.2v0M611.0 304.0v0M611.7 236.4v0M612.0 303.5v0M613.0 237.4v0M612.9 295.0v0M612.9 296.7v0M614.1 237.9v0M613.9 301.3v0M614.9 229.8v0M614.2 291.6v0M615.9 230.7v0M615.5 295.3v0M615.6 299.3v0M616.4 233.0v0M616.6 298.3v0M617.0 288.9v0M617.4 230.4v0M618.1 287.2v0M618.0 289.5v0M619.2 301.0v0M619.8 291.3v0M620.0 295.7v0M620.3 300.8v0M621.0 297.0v0M621.2 226.5v0M621.8 224.0v0M621.3 298.8v0M621.8 301.2v0M623.0 226.2v0M622.5 225.3v0M622.3 296.6v0M622.3 306.0v0M623.4 303.8v0M623.3 296.9v0M624.6 303.2v0M624.9 300.4v0M626.2 305.5v0M626.2 306.9v0M626.3 308.9v0M626.8 311.7v0M628.0 236.9v0M627.4 306.8v0M627.4 303.3v0M629.1 239.3v0M628.3 243.3v0M628.7 305.9v0M629.2 304.6v0M629.3 234.7v0M629.9 239.5v0M630.1 312.7v0M629.5 315.2v0M630.9 245.9v0M630.5 242.0v0M630.9 310.3v0M631.3 238.7v0M631.3 245.1v0M631.9 243.0v0M632.0 313.6v0M632.8 235.3v0M632.9 318.7v0M632.8 309.7v0M633.5 317.6v0M634.0 308.1v0M636.8 242.9v0M636.6 237.8v0M638.1 240.9v0M638.1 249.1v0M639.2 253.2v0M638.4 248.4v0M639.4 254.2v0M639.4 255.9v0M640.7 313.6v0M641.6 317.1v0M643.2 234.9v0M642.3 234.9v0M642.8 308.6v0M644.6 242.2v0M644.2 233.7v0M644.9 309.8v0M645.4 241.3v0M645.7 231.1v0M646.1 310.0v0M645.8 316.6v0M646.3 234.1v0M646.9 232.0v0M646.7 309.8v0M647.4 302.3v0M648.0 304.2v0M649.1 302.2v0M648.9 298.6v0M649.8 231.0v0M649.5 312.5v0M649.6 311.0v0M651.2 237.5v0M651.0 234.5v0M650.6 301.7v0M650.9 313.3v0M651.8 239.5v0M651.6 232.3v0M651.7 312.1v0M651.8 311.3v0M653.0 235.6v0M652.3 233.6v0M653.3 235.7v0M653.9 300.3v0M653.7 301.2v0M655.0 230.4v0M654.6 225.0v0M654.3 305.8v0M654.5 305.8v0M655.6 227.6v0M655.5 308.9v0M655.8 306.0v0M656.1 302.5v0M656.6 225.5v0M656.4 218.5v0M657.2 307.3v0M656.3 305.4v0M657.7 218.9v0M657.7 221.1v0M657.7 302.7v0M658.0 309.6v0M658.5 224.8v0M658.5 218.8v0M658.5 316.1v0M658.9 308.7v0M660.0 217.9v0M659.7 224.8v0M662.4 224.1v0M662.7 229.0v0M663.9 227.6v0M663.8 227.5v0M664.9 216.2v0M664.2 216.2v0M665.2 222.4v0M665.4 223.5v0M666.8 220.3v0M666.6 222.5v0M666.4 231.5v0M667.1 310.7v0M666.3 317.9v0M667.4 231.6v0M667.8 221.6v0M667.8 232.9v0M668.1 309.2v0M667.3 315.0v0M668.6 216.5v0M668.5 215.6v0M668.5 309.4v0M669.9 227.4v0M669.7 217.8v0M669.6 301.6v0M670.1 301.1v0M671.1 217.8v0M670.2 220.2v0M670.5 297.6v0M670.9 304.8v0M672.1 220.2v0M671.6 214.1v0M671.7 303.6v0M672.7 223.2v0M672.8 227.1v0M672.9 298.5v0M673.9 224.9v0M674.0 212.7v0M674.1 304.1v0M673.7 299.5v0M674.4 213.6v0M674.2 225.2v0M674.5 295.8v0M675.2 300.7v0M675.8 216.3v0M675.4 218.1v0M675.7 288.8v0M675.5 291.3v0M676.6 214.2v0M676.9 221.5v0M677.2 288.0v0M676.5 296.6v0M677.4 293.2v0M678.0 296.6v0M679.0 287.7v0M679.1 294.6v0M679.8 282.6v0M679.8 281.6v0M681.1 287.1v0M680.3 280.8v0M682.1 211.4v0M682.1 218.7v0M681.2 286.7v0M681.8 282.1v0M682.7 220.5v0M683.0 215.7v0M682.3 286.0v0M682.9 279.9v0M683.5 227.2v0M683.8 227.7v0M683.9 280.9v0M683.5 283.9v0M684.4 219.3v0M684.6 279.0v0M685.7 223.4v0M685.9 221.8v0M686.0 282.6v0M686.5 223.9v0M687.0 220.3v0M686.2 279.0v0M687.9 223.6v0M687.9 277.0v0M688.3 220.8v0M688.3 217.3v0M688.3 270.6v0M688.9 272.2v0M689.8 209.1v0M689.4 262.0v0M690.1 266.4v0M691.1 208.1v0M690.5 264.5v0M691.2 205.8v0M691.8 253.5v0M692.1 252.3v0M692.5 249.4v0M693.7 238.4v0M693.7 234.8v0M695.1 247.7v0M694.7 245.7v0M696.2 243.2v0M695.5 239.7v0M697.2 253.7v0M697.1 242.0v0M697.8 256.8v0M697.4 248.5v0M698.9 251.1v0M698.6 256.1v0M699.5 256.7v0M699.5 258.3v0M700.6 256.1v0M701.2 256.5v0M701.5 193.0v0M701.3 259.5v0M701.5 258.5v0M702.6 190.0v0M702.7 263.8v0M702.4 258.7v0M703.9 199.7v0M703.8 192.6v0M703.8 263.8v0M703.3 264.6v0M704.6 200.7v0M704.8 276.8v0M705.2 271.3v0M705.8 194.6v0M705.4 277.5v0M706.1 277.2v0M706.3 203.3v0M706.6 199.5v0M706.3 277.8v0M706.2 275.5v0M707.5 197.8v0M708.0 279.5v0M707.2 271.7v0M708.9 205.2v0M709.1 206.4v0M709.2 268.2v0M709.1 271.1v0M709.5 204.0v0M709.9 272.2v0M710.1 286.4v0M711.0 211.5v0M712.0 209.2v0M711.9 289.2v0M711.8 288.1v0M713.1 209.0v0M712.6 290.0v0M713.1 275.5v0M713.7 210.3v0M713.4 281.8v0M713.9 287.6v0M713.7 287.1v0M715.1 207.4v0M714.9 208.7v0M715.8 209.1v0M715.2 294.7v0M715.5 283.9v0M716.6 206.2v0M716.7 196.7v0M716.8 300.3v0M716.9 297.6v0M717.8 287.9v0M717.6 296.6v0M718.5 292.3v0M718.2 300.3v0M718.2 303.9v0M725.8 209.7v0M725.7 220.3v0M725.4 206.4v0M726.3 207.0v0M726.7 209.5v0M726.8 204.9v0M726.2 303.4v0M727.9 210.4v0M727.2 200.2v0M727.9 200.2v0M727.8 295.5v0M728.2 206.5v0M728.9 212.1v0M728.7 203.3v0M729.1 287.4v0M728.2 287.9v0M729.7 201.8v0M730.0 195.9v0M729.6 209.7v0M729.9 286.5v0M729.5 283.2v0M730.8 195.3v0M731.1 192.6v0M731.0 275.3v0M731.4 196.4v0M732.1 198.2v0M731.6 279.7v0M731.7 274.5v0M733.1 197.0v0M732.7 186.9v0M732.3 266.7v0M732.9 278.3v0M734.0 182.2v0M734.2 184.3v0M733.2 262.9v0M733.8 273.8v0M734.9 183.9v0M734.3 189.1v0M734.4 268.8v0M734.7 262.4v0M735.4 184.3v0M735.3 184.6v0M735.2 267.3v0M736.0 264.3v0M736.4 173.0v0M736.9 178.2v0M736.9 256.4v0M737.1 259.4v0M736.4 250.0v0M737.3 252.5v0M737.9 261.8v0M737.4 249.1v0M738.9 255.4v0M738.6 260.1v0M738.9 253.8v0M740.2 263.4v0M739.8 259.6v0M741.0 260.3v0M740.2 247.1v0M741.4 250.4v0M741.5 253.5v0M743.0 245.7v0M742.6 256.2v0M743.2 263.0v0M743.3 266.5v0M745.6 182.3v0M745.5 174.6v0M745.4 258.0v0M745.8 271.8v0M746.4 182.7v0M746.8 261.7v0M746.3 257.2v0M746.6 269.1v0M747.4 185.5v0M747.8 187.3v0M747.5 266.3v0M748.0 262.0v0M747.8 268.7v0M748.5 186.8v0M749.0 259.2v0M748.5 265.7v0M748.3 265.5v0M749.9 185.2v0M749.8 261.4v0M749.7 263.6v0M749.4 271.1v0M751.2 186.1v0M751.0 282.1v0M750.3 282.1v0M751.7 192.8v0M752.0 182.5v0M752.8 188.1v0M752.4 186.6v0M753.3 181.7v0M753.6 191.1v0M754.3 194.9v0M755.0 189.8v0M758.7 271.6v0M758.3 282.2v0M758.4 275.5v0M759.8 264.5v0M759.6 272.4v0M759.5 275.2v0M761.2 281.1v0M760.6 271.7v0M762.0 280.2v0M761.9 269.3v0M762.1 264.1v0M762.6 274.2v0M763.1 285.3v0M762.9 280.8v0M763.8 193.4v0M763.6 182.9v0M763.4 280.5v0M763.3 287.1v0M763.3 278.3v0M764.2 194.0v0M764.5 285.6v0M764.8 270.7v0M764.5 286.0v0M766.1 195.6v0M766.1 281.5v0M765.6 289.9v0M765.4 281.7v0M766.4 193.7v0M767.0 276.3v0M766.8 286.6v0M766.8 290.5v0M771.0 194.8v0M770.8 205.2v0M771.1 194.2v0M771.7 208.2v0M771.6 198.4v0M771.9 192.7v0M772.3 207.2v0M772.3 205.4v0M774.1 203.1v0M774.1 202.8v0M774.6 192.8v0M774.8 199.6v0M774.3 289.6v0M775.1 277.9v0M774.7 291.2v0M775.4 201.8v0M775.3 194.8v0M775.3 276.3v0M775.3 279.4v0M776.2 292.4v0M776.7 196.4v0M776.5 201.0v0M776.8 289.3v0M776.7 283.8v0M776.3 285.5v0M777.4 201.5v0M778.8 201.0v0M778.5 198.0v0M778.6 296.8v0M779.1 280.9v0M778.7 295.6v0M779.2 207.0v0M779.9 300.5v0M779.3 283.5v0M779.8 288.9v0M781.0 201.8v0M781.0 291.2v0M780.4 286.5v0M781.1 298.2v0M782.0 206.3v0M782.0 212.4v0M781.2 290.0v0M782.0 290.6v0M782.3 205.8v0M783.0 212.9v0M783.2 294.2v0M782.7 298.6v0M783.3 208.7v0M783.5 204.5v0M783.5 301.4v0M783.4 301.6v0M784.8 208.1v0M785.0 202.1v0M784.4 292.9v0M784.3 291.3v0M785.4 202.3v0M785.6 209.2v0M786.1 293.5v0M785.6 296.6v0M786.8 299.6v0M787.1 292.9v0M787.4 296.1v0M788.2 298.3v0M789.4 311.9v0M789.3 300.7v0M790.6 219.4v0M790.8 200.5v0M791.2 308.8v0M790.4 315.9v0M791.9 210.5v0M791.8 214.3v0M791.3 204.6v0M792.6 216.2v0M793.1 209.6v0M792.9 222.0v0M793.3 209.9v0M793.9 220.3v0M794.1 224.2v0M795.0 204.8v0M794.2 210.6v0M794.7 215.0v0M795.7 219.7v0M796.1 222.4v0M796.6 209.3v0M796.8 210.8v0M798.2 216.7v0M797.2 221.9v0M797.6 207.0v0M798.3 213.2v0M798.7 213.4v0M800.1 213.6v0M799.8 203.4v0M799.7 310.3v0M799.6 302.6v0M801.0 213.9v0M801.1 292.9v0M800.8 294.6v0M800.7 305.3v0M801.9 301.2v0M801.4 297.2v0M802.3 279.0v0M802.7 288.0v0M802.4 283.9v0M804.1 275.5v0M804.0 282.0v0M804.6 283.8v0M804.3 283.3v0M804.6 276.0v0M805.4 280.6v0M805.8 282.6v0M805.2 276.5v0M806.9 277.4v0M807.2 281.5v0M806.7 281.7v0M807.8 288.7v0M807.4 286.2v0M809.1 288.3v0M808.6 286.7v0M809.5 202.0v0M809.9 201.5v0M809.7 218.2v0M810.1 301.5v0M810.1 297.7v0M810.5 208.0v0M810.5 211.2v0M810.5 303.0v0M810.7 307.3v0M811.4 222.7v0M811.8 216.8v0M811.3 300.5v0M812.9 227.3v0M813.0 222.4v0M812.3 304.5v0M813.1 300.8v0M813.6 227.4v0M814.1 221.5v0M813.9 231.6v0M813.3 315.2v0M813.6 313.2v0M814.5 230.5v0M814.7 222.8v0M814.8 308.1v0M814.8 307.6v0M815.9 218.1v0M815.3 234.6v0M815.5 308.9v0M815.7 319.0v0M816.4 235.0v0M816.4 225.1v0M816.5 221.0v0M817.5 224.3v0M817.9 231.2v0M817.4 233.4v0M819.9 229.3v0M819.4 218.8v0M819.3 224.4v0M820.6 225.5v0M820.6 222.3v0M821.9 227.8v0M821.3 226.5v0M822.9 229.7v0M822.5 230.1v0M823.6 236.0v0M824.2 320.0v0M823.3 306.2v0M824.3 237.1v0M824.9 233.0v0M825.0 311.4v0M824.8 316.0v0M824.8 310.2v0M825.7 237.4v0M825.9 311.6v0M825.9 304.6v0M826.3 239.5v0M826.3 294.6v0M826.6 312.2v0M827.7 242.7v0M827.4 305.5v0M827.7 297.9v0M830.2 239.9v0M830.5 238.3v0M832.2 238.6v0M833.3 305.1v0M834.0 303.7v0M834.5 306.7v0M835.1 312.8v0M836.0 307.1v0M837.1 301.6v0M836.4 302.7v0M837.2 295.3v0M837.7 302.9v0M838.5 296.0v0M840.1 238.2v0M839.3 291.8v0M839.5 289.8v0M841.1 238.3v0M840.8 277.7v0M841.9 238.8v0M841.3 285.4v0M842.3 234.8v0M842.4 280.1v0M842.3 284.0v0M843.9 283.0v0M843.8 284.5v0M845.1 274.4v0M844.9 276.1v0M845.6 282.7v0M845.7 274.7v0M847.1 235.9v0M846.2 276.0v0M848.1 237.0v0M847.6 281.1v0M848.6 276.7v0M849.8 239.3v0M849.4 279.1v0M850.2 238.9v0M851.1 277.2v0M851.8 273.5v0M853.0 275.8v0M853.6 243.4v0M853.5 276.4v0M854.9 275.8v0M855.7 275.5v0M857.1 244.0v0M857.0 274.2v0M858.0 243.0v0M857.7 276.5v0M858.9 243.9v0M858.3 272.3v0M859.2 274.4v0M862.2 272.2v0M862.6 277.5v0M863.7 274.3v0M864.5 273.5v0M865.9 243.5v0M865.9 277.3v0M867.2 242.5v0M866.2 279.2v0M867.8 244.4v0M867.3 274.4v0M868.3 240.3v0M868.5 281.1v0M869.3 276.9v0M870.9 287.5v0M871.2 280.5v0M872.1 279.4v0M872.7 239.3v0M873.0 286.3v0M873.5 241.3v0M873.6 293.5v0M874.9 242.2v0M874.3 288.3v0M875.5 287.9v0M876.0 292.4v0M876.7 290.3v0M877.4 290.2v0M878.8 290.6v0M879.1 295.5v0M879.4 294.5v0M881.2 287.8v0M880.6 294.7v0M881.7 287.4v0M881.8 296.1v0M882.2 234.3v0M883.7 238.4v0M884.3 243.4v0M885.5 250.6v0M887.2 246.7v0M887.7 243.6v0M888.2 235.1v0M889.9 241.7v0M889.3 241.2v0M890.8 238.8v0M891.1 240.2v0M891.1 293.3v0M890.9 303.7v0M892.1 237.0v0M891.5 238.9v0M891.6 291.6v0M891.8 291.2v0M892.6 240.4v0M893.1 229.2v0M893.0 294.3v0M893.4 293.4v0M894.3 230.6v0M894.8 289.0v0M894.7 294.6v0M896.0 285.8v0M895.8 290.3v0M896.4 234.5v0M897.0 288.9v0M898.0 231.1v0M897.5 293.4v0M897.4 294.5v0M898.7 230.0v0M898.6 292.6v0M899.6 230.0v0M899.9 294.3v0M900.6 238.4v0M901.0 289.0v0M902.1 237.6v0M901.5 292.8v0M902.5 242.0v0M902.9 242.8v0M902.8 286.8v0M903.6 236.0v0M903.4 290.3v0M903.3 289.8v0M904.8 237.0v0M904.6 292.2v0M905.3 241.2v0M905.9 286.9v0M906.4 238.1v0M906.4 289.2v0M907.1 293.6v0M908.0 242.5v0M908.2 289.0v0M909.0 236.4v0M909.0 284.2v0M910.0 236.3v0M910.5 236.0v0M910.7 289.3v0M911.1 294.8v0M911.5 289.4v0M911.7 293.5v0M916.8 238.6v0M917.3 237.1v0M917.7 291.9v0M918.5 236.9v0M919.0 294.8v0M919.6 244.2v0M919.7 284.6v0M920.7 238.8v0M920.7 283.3v0M921.7 241.1v0M921.6 292.1v0M921.9 293.0v0M922.4 244.5v0M922.7 283.8v0M924.7 242.3v0M926.1 245.5v0M927.1 241.3v0M926.2 285.3v0M927.2 243.1v0M927.8 283.9v0M927.2 288.5v0M928.7 244.4v0M928.3 284.8v0M929.6 243.8v0M930.0 286.7v0M931.2 283.7v0M932.0 242.9v0M932.1 286.6v0M931.3 282.3v0M932.2 242.5v0M933.1 280.6v0M933.5 282.9v0M934.5 239.7v0M935.1 288.3v0M934.2 287.8v0M935.2 235.7v0M935.5 282.5v0M936.4 235.6v0M936.5 285.9v0M937.9 233.0v0M937.8 286.4v0M938.4 232.1v0M938.7 280.9v0M938.6 291.3v0M940.1 237.7v0M940.4 235.2v0M941.9 230.5v0M942.0 233.8v0M942.0 278.4v0M941.7 278.6v0M942.4 227.6v0M943.0 221.9v0M943.2 279.1v0M943.9 217.9v0M943.6 227.4v0M943.5 275.1v0M945.2 271.0v0M946.0 269.5v0M946.5 266.2v0M946.8 274.8v0M947.3 263.7v0M948.7 269.0v0M949.6 271.8v0M950.9 267.0v0M951.9 222.9v0M951.5 217.6v0M952.0 273.0v0M953.1 228.1v0M953.0 220.9v0M952.4 271.5v0M953.6 231.9v0M953.8 232.2v0M953.8 274.7v0M954.7 232.5v0M954.6 270.8v0M955.4 235.5v0M955.8 270.5v0M956.7 232.2v0M956.7 274.8v0M957.4 235.8v0M957.8 269.2v0M959.1 239.1v0M959.0 272.4v0M959.9 239.0v0M959.4 275.6v0M960.7 242.3v0M961.1 280.3v0M961.9 237.9v0M961.7 284.3v0M962.3 244.5v0M962.5 281.5v0M963.8 241.8v0M963.6 290.0v0M964.9 245.2v0M964.6 284.1v0M965.5 245.6v0M966.2 290.2v0M966.6 243.6v0M967.0 289.1v0M966.8 286.0v0M967.2 241.1v0M967.7 294.8v0M968.5 242.7v0M969.0 286.8v0M969.9 240.0v0M971.5 240.5v0M972.5 244.5v0M972.5 298.2v0M973.7 244.0v0M973.5 237.7v0M974.2 291.0v0M973.2 289.2v0M975.0 243.7v0M974.8 287.6v0M974.3 292.9v0M975.3 239.3v0M976.1 287.3v0M977.1 244.7v0M976.7 286.9v0M976.3 286.3v0M978.0 244.2v0M978.0 245.8v0M977.7 287.8v0M978.9 246.3v0M979.1 291.7v0M978.8 290.3v0M979.6 240.3v0M979.6 286.7v0M980.5 240.5v0M981.2 293.9v0M981.5 295.4v0M983.1 239.4v0M982.4 295.8v0M982.4 292.4v0M983.9 242.5v0M983.7 297.1v0M985.0 243.6v0M984.8 291.1v0M985.8 240.6v0M985.7 293.6v0M986.3 239.9v0M986.7 242.8v0M986.8 296.6v0M987.9 238.7v0M987.7 296.9v0M988.7 237.6v0M989.6 241.5v0M990.1 243.6v0M990.3 239.3v0M991.5 232.8v0M992.0 232.8v0M992.4 238.2v0M993.3 241.3v0M994.6 240.4v0M994.6 303.2v0M995.8 297.3v0M996.6 297.9v0M996.6 297.6v0M997.3 291.2v0M998.3 297.8v0M999.4 286.7v0M1000.9 233.6v0M1000.6 294.3v0M1001.7 238.0v0M1001.9 288.5v0M1002.9 244.2v0M1002.8 294.3v0M1003.9 236.3v0M1003.3 285.1v0M1004.8 232.0v0M1004.4 283.6v0M1004.3 288.5v0M1005.5 235.7v0M1005.9 229.1v0M1005.7 285.4v0M1005.9 293.0v0M1007.1 233.0v0M1007.2 233.8v0M1006.3 286.0v0M1008.1 230.8v0M1007.7 225.7v0M1007.4 290.1v0M1009.0 223.9v0M1008.4 232.5v0M1008.9 294.7v0M1009.3 228.8v0M1009.5 229.7v0M1009.7 294.5v0M1010.7 220.3v0M1010.3 226.9v0M1010.2 294.6v0M1011.2 288.5v0M1011.3 226.7v0M1011.7 218.3v0M1011.9 285.9v0M1013.0 215.1v0M1012.3 221.3v0M1012.7 288.0v0M1014.0 211.8v0M1014.1 210.4v0M1013.2 284.2v0M1014.4 284.3v0M1016.0 290.3v0M1016.4 286.2v0M1017.8 286.3v0M1018.8 285.1v0M1019.9 281.4v0M1021.1 286.3v0M1021.8 221.5v0M1021.7 222.1v0M1021.5 288.2v0M1022.6 216.0v0M1023.2 229.2v0M1023.2 286.8v0M1023.9 221.8v0M1023.5 221.3v0M1024.3 222.1v0M1024.7 219.9v0M1024.8 288.0v0M1025.3 231.8v0M1025.9 230.6v0M1026.1 287.9v0M1026.6 223.2v0M1026.6 224.7v0M1026.4 292.9v0M1027.4 228.0v0M1028.2 229.0v0M1028.2 286.4v0M1028.8 229.0v0M1028.9 229.3v0M1028.7 293.1v0M1029.5 225.7v0M1029.5 229.6v0M1030.1 293.4v0M1030.6 222.5v0M1031.2 225.4v0M1031.8 223.3v0M1031.5 218.7v0M1031.8 286.7v0M1031.3 294.0v0M1032.7 216.2v0M1032.2 227.8v0M1032.5 293.5v0M1034.0 291.8v0M1034.2 292.4v0M1035.4 286.3v0M1035.5 282.0v0M1037.1 284.6v0M1037.6 284.5v0M1039.0 214.7v0M1039.1 220.2v0M1038.7 219.0v0M1038.7 283.5v0M1039.3 217.0v0M1040.2 215.8v0M1039.8 286.6v0M1039.2 284.1v0M1040.8 221.6v0M1040.7 220.9v0M1040.9 279.8v0M1041.8 222.4v0M1041.2 221.2v0M1042.1 287.4v0M1042.4 211.0v0M1042.2 217.3v0M1043.5 218.2v0M1043.3 224.7v0M1044.6 211.5v0M1044.8 226.4v0M1046.6 228.2v0M1046.8 211.1v0M1046.2 282.2v0M1047.9 285.6v0M1047.4 285.6v0M1048.5 282.8v0M1048.9 275.1v0M1049.2 276.0v0M1050.0 269.5v0M1051.1 277.8v0M1050.6 268.3v0M1052.2 274.4v0M1051.3 278.0v0M1052.7 282.1v0M1052.5 277.4v0M1055.6 215.6v0M1057.1 214.4v0M1056.5 218.2v0M1058.1 226.0v0M1057.8 218.2v0M1058.5 222.6v0M1058.3 232.1v0M1059.8 230.4v0M1059.8 226.4v0M1060.3 218.3v0M1060.4 219.9v0M1060.2 280.8v0M1060.8 278.3v0M1061.9 218.7v0M1061.8 219.8v0M1062.2 270.5v0M1061.3 270.6v0M1062.6 208.9v0M1062.7 263.0v0M1062.5 276.3v0M1063.6 259.2v0M1063.4 274.1v0M1064.4 211.5v0M1064.6 267.1v0M1064.5 258.9v0M1065.5 214.4v0M1066.0 268.0v0M1066.2 263.7v0M1066.5 213.0v0M1067.0 261.5v0M1067.7 217.9v0M1067.7 259.9v0M1069.0 258.2v0M1069.6 263.4v0M1070.7 264.1v0M1071.2 255.1v0M1071.5 267.2v0M1072.5 254.2v0M1072.9 267.2v0M1073.7 254.8v0M1074.0 259.2v0M1073.3 259.4v0M1074.5 257.1v0M1074.9 257.1v0M1075.4 264.3v0M1075.2 267.0v0M1076.2 272.5v0M1077.3 275.0v0M1078.5 277.3v0M1079.6 201.8v0M1079.6 193.5v0M1080.1 279.7v0M1081.2 214.2v0M1080.9 209.0v0M1080.4 282.0v0M1081.9 219.7v0M1082.1 224.5v0M1082.0 280.4v0M1083.0 216.5v0M1082.8 214.2v0M1082.4 283.1v0M1086.1 277.0v0M1086.3 275.1v0M1087.9 282.5v0M1087.7 283.7v0M1088.4 282.9v0M1089.4 280.0v0M1090.7 223.3v0M1090.4 211.5v0M1090.9 280.6v0M1091.6 213.7v0M1091.2 224.1v0M1091.2 278.9v0M1093.0 226.0v0M1092.5 277.4v0M1094.1 232.2v0M1093.3 232.1v0M1093.4 281.4v0M1094.4 226.3v0M1094.7 229.6v0M1094.9 285.7v0M1096.1 230.9v0M1095.4 280.4v0M1097.2 230.0v0M1096.7 281.7v0M1098.1 241.3v0M1097.9 282.4v0M1098.9 236.4v0M1099.0 241.1v0M1099.2 242.3v0M1099.7 240.6v0M1100.9 235.9v0M1101.9 235.4v0M1101.7 245.2v0M1102.9 240.5v0M1103.2 238.3v0M1104.0 289.1v0M1104.1 287.5v0M1104.7 239.0v0M1104.5 288.1v0M1105.6 247.0v0M1106.7 248.0v0M1106.5 287.3v0M1108.0 282.1v0M1109.2 282.2v0M1110.0 244.6v0M1109.9 285.8v0M1111.1 244.0v0M1111.8 238.9v0M1112.1 284.7v0M1112.8 239.3v0M1112.2 285.8v0M1114.2 244.9v0M1113.8 285.4v0M1114.4 245.2v0M1114.8 282.0v0M1115.8 240.3v0M1116.7 238.9v0M1118.1 247.7v0M1117.4 285.0v0M1118.8 241.4v0M1118.4 288.0v0M1119.5 246.0v0M1120.0 283.4v0M1121.0 245.2v0M1121.2 239.0v0M1120.8 282.9v0M1122.2 240.3v0M1121.8 242.3v0M1121.4 285.4v0M1123.0 235.4v0M1122.2 242.0v0M1122.9 287.0v0M1124.0 289.2v0M1124.9 291.7v0M1125.7 284.9v0M1126.6 288.1v0M1128.2 289.0v0M1128.3 287.7v0M1129.6 239.9v0M1129.9 291.9v0M1129.3 283.7v0M1130.6 233.6v0M1130.6 236.0v0M1130.9 286.3v0M1132.1 280.7v0M1131.4 288.7v0M1132.3 240.2v0M1132.9 282.6v0M1132.7 287.8v0M1133.8 281.2v0M1134.0 283.6v0M1134.3 238.3v0M1134.6 290.9v0M1135.7 240.7v0M1135.4 284.2v0M1136.5 242.7v0M1136.9 285.4v0M1137.1 285.5v0M1137.4 240.6v0M1137.2 292.7v0M1138.3 244.9v0M1139.2 289.7v0M1139.9 238.3v0M1139.3 287.3v0M1141.1 236.9v0M1141.2 244.9v0M1143.2 244.7v0M1142.8 236.9v0M1143.8 242.6v0M1143.8 245.2v0M1145.0 237.8v0M1145.2 243.1v0M1145.3 294.1v0M1146.9 244.4v0M1147.2 291.0v0M1147.4 244.5v0M1147.3 243.2v0M1147.6 284.7v0M1149.0 235.9v0M1148.7 237.5v0M1148.3 284.1v0M1149.8 235.8v0M1150.2 285.0v0M1150.9 241.3v0M1150.7 287.1v0M1151.3 234.3v0M1151.6 286.7v0M1152.5 236.3v0M1152.5 234.0v0M1153.1 286.0v0M1153.9 233.6v0M1153.9 240.1v0M1154.9 238.3v0M1155.9 234.6v0M1155.9 240.8v0M1155.6 285.1v0M1156.9 236.4v0M1157.0 242.2v0M1156.5 284.6v0M1157.8 235.0v0M1157.8 281.4v0M1159.2 232.7v0M1159.6 233.0v0M1160.8 237.7v0M1161.7 234.5v0M1161.5 239.7v0M1162.6 231.7v0M1163.5 231.7v0M1163.3 279.4v0M1164.7 238.7v0M1164.5 287.8v0M1165.6 232.4v0M1166.0 283.3v0M1166.6 234.8v0M1167.0 285.7v0M1167.8 232.0v0M1167.9 287.9v0M1168.0 275.6v0M1169.0 235.5v0M1168.4 288.4v0M1168.5 280.4v0M1170.0 282.2v0M1169.3 288.3v0M1170.7 241.2v0M1172.1 233.8v0M1172.0 283.3v0M1172.6 243.7v0M1172.7 286.5v0M1173.2 241.3v0M1173.5 286.2v0M1174.5 243.1v0M1174.4 244.2v0M1175.9 232.6v0M1175.7 284.6v0M1176.9 239.4v0M1177.0 279.7v0M1177.9 279.2v0M1178.6 227.5v0M1178.7 272.6v0M1179.8 227.1v0M1179.6 270.8v0M1181.0 230.8v0M1180.5 279.2v0M1181.9 232.8v0M1181.4 276.7v0M1182.5 232.6v0M1182.3 281.8v0M1183.5 232.2v0M1183.2 277.9v0M1185.0 227.7v0M1184.4 275.6v0M1184.4 278.4v0M1185.4 231.4v0M1186.0 272.8v0M1186.8 230.7v0M1186.8 280.6v0M1186.2 271.4v0M1187.5 226.2v0M1187.7 279.1v0M1187.6 280.8v0M1188.7 269.7v0M1189.3 230.5v0M1189.6 278.2v0M1190.3 224.7v0M1192.2 231.5v0M1191.5 279.2v0M1192.7 224.8v0M1192.9 280.3v0M1193.8 226.9v0M1193.9 284.1v0M1193.5 287.9v0M1194.4 225.9v0M1194.8 282.9v0M1196.1 227.9v0M1197.1 235.5v0M1197.0 228.8v0M1196.6 278.7v0M1197.4 229.5v0M1197.6 285.7v0M1198.4 235.6v0M1198.6 237.3v0M1199.7 238.1v0M1199.6 237.2v0M1200.6 237.7v0M1201.9 234.1v0M1202.5 235.3v0M1203.9 239.9v0M1203.4 284.8v0M1204.5 244.7v0M1205.4 245.6v0M1205.9 242.8v0M1205.3 284.7v0M1206.9 246.4v0M1207.5 250.2v0M1207.6 244.5v0M1209.1 283.3v0M1209.5 244.6v0M1209.9 244.9v0M1209.2 282.5v0M1211.1 281.9v0M1213.9 279.7v0M1215.5 284.1v0M1216.8 282.2v0M1217.4 239.6v0M1217.8 243.3v0M1218.4 238.2v0M1219.0 284.7v0M1219.6 239.3v0M1219.6 284.3v0M1220.4 241.3v0M1221.8 248.9v0M1222.6 253.7v0M1222.5 288.4v0M1223.7 252.1v0M1223.8 281.7v0M1224.7 250.3v0M1224.3 280.0v0M1224.4 279.5v0M1225.3 281.4v0M1226.8 251.7v0M1227.0 287.3v0M1228.1 255.0v0M1227.2 288.0v0M1229.2 255.7v0M1229.0 289.7v0M1229.3 254.0v0M1230.3 254.1v0M1230.3 292.8v0M1232.2 253.1v0M1231.7 289.8v0M1232.6 250.5v0M1232.7 295.5v0M1234.0 290.3v0M1234.9 293.0v0M1236.0 291.4v0M1238.2 250.4v0M1237.5 250.3v0M1239.0 251.1v0M1239.5 249.8v0M1240.7 250.2v0M1241.4 255.7v0M1242.5 256.2v0M1243.8 252.2v0M1243.5 295.3v0M1244.8 252.2v0M1245.0 291.4v0M1245.7 297.6v0M1245.9 298.5v0M1248.0 257.0v0M1248.8 261.3v0M1249.9 257.6v0M1250.8 260.1v0M1251.6 254.6v0M1253.0 251.9v0M1253.0 296.0v0M1253.3 251.4v0M1253.5 294.3v0M1254.8 288.6v0M1256.2 294.3v0M1257.1 290.5v0M1257.8 295.1v0M1257.5 284.3v0M1258.5 281.4v0M1258.8 277.8v0M1258.2 286.0v0M1263.9 248.2v0M1264.5 255.1v0M1266.0 257.2v0M1267.1 304.5v0M1267.7 260.4v0M1267.9 300.9v0M1268.9 263.8v0M1269.4 261.9v0M1271.1 262.2v0M1273.9 261.1v0M1274.3 262.3v0M1276.0 264.0v0M1276.6 261.5v0M1277.2 302.3v0M1279.7 301.2v0M1280.7 304.2v0M1281.7 301.1v0M1282.8 304.7v0M1283.3 304.4v0M1285.1 307.5v0M1285.7 260.9v0M1285.4 307.7v0M1286.7 262.2v0M1287.3 262.7v0M1288.4 262.4v0M1288.8 306.7v0M1290.0 306.1v0M1290.8 265.0v0M1291.4 266.7v0M1293.0 263.1v0M1293.4 308.9v0M1295.0 305.1v0M1295.9 305.3v0M1296.9 302.7v0M1296.3 305.4v0M1297.7 305.4v0M1298.0 300.6v0M1298.2 305.5v0M1299.2 304.0v0M1301.3 306.0v0M1302.8 265.9v0M1303.7 264.0v0M1304.7 264.0v0M1308.4 305.9v0M1310.2 305.0v0M1310.5 304.9v0M1313.8 263.0v0M1315.0 263.5v0M1314.4 303.3v0M1315.6 266.2v0M1316.6 261.5v0M1317.3 258.1v0M1318.4 257.0v0M1320.0 299.8v0M1320.5 244.3v0M1321.1 297.7v0M1322.0 298.6v0M1322.5 295.4v0M1323.6 293.6v0M1325.9 295.3v0M1326.6 294.1v0M1328.0 293.5v0M1328.7 293.5v0M1329.9 251.4v0M1330.7 257.7v0M1331.0 298.0v0M1331.6 259.8v0M1332.1 302.6v0M1333.1 260.8v0M1332.5 304.5v0M1334.4 264.2v0M1335.9 261.6v0M1336.8 261.8v0M1337.3 261.9v0M1339.9 262.2v0M1340.4 302.0v0M1341.8 261.8v0M1341.4 303.4v0M1342.5 263.1v0M1343.8 262.0v0M1344.2 303.9v0M1345.2 259.7v0M1344.5 304.7v0M1345.5 260.3v0M1347.0 254.1v0M1347.0 303.9v0M1348.4 303.3v0M1349.8 299.8v0M1351.0 301.2v0M1351.5 295.2v0M1352.7 299.2v0M1353.8 298.1v0M1354.7 297.2v0M1356.1 255.4v0M1355.5 299.9v0M1356.6 260.3v0M1358.2 269.0v0M1360.0 269.8v0M1359.5 266.6v0M1360.9 265.4v0M1361.4 267.1v0M1363.2 266.1v0M1363.4 267.1v0M1365.1 304.9v0M1365.9 305.2v0M1366.7 267.5v0M1366.4 304.8v0M1368.0 268.0v0M1369.7 267.1v0M1371.2 302.7v0M1372.4 300.7v0M1373.4 298.5v0M1374.3 301.1v0M1376.0 299.0v0M1376.4 300.7v0M1380.3 266.0v0M1382.3 265.4v0M1384.5 264.1v0M1385.9 263.7v0M1386.5 305.2v0M1389.2 306.4v0M1391.7 302.6v0M1393.2 307.9v0M1393.4 306.3v0M1394.7 302.8v0M1395.9 305.1v0M1396.7 308.6v0M1397.9 259.9v0M1398.1 311.2v0M1398.5 257.3v0M1398.5 257.9v0M1400.1 258.1v0M1406.5 307.5v0M1408.1 257.4v0M1408.1 306.7v0M1408.8 260.3v0M1409.1 308.8v0M1409.9 307.1v0M1410.8 264.9v0M1411.9 265.4v0M1411.7 310.0v0M1412.4 266.7v0M1412.7 308.4v0M1414.0 266.7v0M1415.1 267.9v0M1415.4 270.7v0M1417.9 269.9v0M1418.8 266.6v0M1418.8 269.3v0M1421.7 314.0v0M1422.8 313.5v0M1424.0 315.7v0M1424.3 309.7v0M1425.2 311.7v0M1426.7 266.0v0M1427.0 310.8v0M1428.0 267.2v0M1427.6 310.4v0M1428.7 314.0v0M1429.2 269.0v0M1430.9 271.4v0M1431.4 271.1v0M1432.7 270.8v0M1433.8 271.9v0M1434.6 275.4v0M1435.5 273.3v0M1436.9 273.9v0M1437.4 265.6v0M1438.9 325.1v0M1439.4 318.0v0M1441.2 313.0v0M1442.0 318.7v0M1442.4 321.2v0M1444.0 329.8v0M1443.6 322.8v0M1445.6 268.4v0M1446.6 276.3v0M1447.8 277.4v0M1447.4 280.9v0M1448.8 278.0v0M1448.7 276.3v0M1449.3 284.7v0M1450.4 281.4v0M1452.7 271.6v0M1453.0 328.8v0M1453.6 319.7v0M1454.8 309.5v0M1458.7 308.7v0M1459.6 271.1v0M1460.4 272.6v0M1462.0 274.1v0M172.5 253.5v0M190.0 265.5v0M193.8 268.0v0M225.0 278.0v0M232.5 261.2v0M233.2 233.5v0M144.4 247.0v0M144.4 260.0v0M135.0 228.0v0M136.0 243.0v0M135.5 256.0v0M133.0 268.0v0M136.5 270.0v0M294.4 96.3v0M143.2 309.5v0M194.5 341.2v0M158.8 224.2v0M158.8 234.2v0M181.2 238.0v0M181.2 247.5v0M172.5 254.5v0M202.5 252.0v0M202.5 258.8v0M190.0 265.0v0M193.8 268.8v0M225.5 398.2v0M225.5 404.2v0M264.5 361.2v0M265.0 365.0v0M264.5 371.2v0M264.5 382.0v0M264.5 390.0v0M264.5 405.0v0M258.8 332.5v0M260.0 337.5v0M312.5 416.2v0M320.0 416.2v0M326.2 410.0v0M312.5 431.2v0M312.5 439.5v0M320.5 426.2v0M325.0 426.2v0M321.2 433.8v0M325.0 437.5v0M312.5 452.0v0M320.5 450.5v0M341.2 388.8v0M341.2 397.5v0M335.0 387.5v0M366.2 291.2v0M366.2 300.0v0M366.2 307.5v0M381.2 290.5v0M381.2 278.8v0M385.0 271.2v0M465.0 277.5v0M467.5 400.0v0M470.0 410.0v0M468.0 422.5v0M471.2 425.0v0M468.8 432.5v0M470.0 440.0v0M468.8 446.2v0M469.5 453.8v0M470.5 457.5v0M470.0 465.0v0M468.8 473.8v0M468.0 481.2v0M471.8 483.8v0M469.2 496.2v0M487.0 374.2v0M516.2 250.0v0M516.2 265.0v0M523.8 303.8v0M523.8 307.5v0M530.5 321.2v0M530.5 303.8v0M501.2 320.0v0M561.2 257.5v0M561.2 265.0v0M568.8 253.8v0M568.8 260.0v0M589.5 221.2v0M589.5 228.8v0M624.5 205.0v0M618.2 214.5v0M624.5 216.2v0M635.0 223.8v0M647.5 220.5v0M606.2 350.0v0M606.2 380.0v0M630.5 352.5v0M630.5 357.5v0M635.0 343.8v0M640.0 333.8v0M652.5 333.8v0M660.0 343.8v0M660.0 347.5v0M667.5 341.2v0M667.5 335.0v0M672.5 331.2v0M683.8 329.5v0M683.8 333.8v0M668.0 195.0v0M714.2 168.0v0M714.2 171.2v0M738.2 140.0v0M738.2 151.2v0M740.0 153.8v0M742.0 156.2v0M785.0 163.8v0M785.0 165.5v0M756.2 172.5v0M762.5 171.2v0M702.5 292.0v0M697.5 268.8v0M735.0 315.0v0M753.2 330.0v0M770.0 330.8v0M722.5 382.5v0M722.5 360.0v0M726.2 357.0v0M722.5 343.8v0M722.5 346.2v0M723.8 332.5v0M721.2 325.0v0M770.5 369.2v0M797.5 370.0v0M794.5 349.2v0M797.5 353.8v0M814.5 354.5v0M817.5 359.5v0M817.5 371.2v0M817.5 377.5v0M817.5 381.2v0M666.2 361.2v0M668.8 375.0v0M666.2 380.0v0M666.2 392.5v0M820.0 340.0v0M832.5 335.0v0M805.0 185.0v0M820.0 207.5v0M836.2 217.0v0M836.2 226.2v0M843.0 202.5v0M843.0 207.5v0M666.2 394.5v0M666.2 437.5v0M606.2 380.5v0M722.5 382.5v0M770.5 369.2v0M797.5 370.5v0M817.5 372.5v0M817.5 379.5v0M817.5 382.5v0M487.0 373.8v0M844.5 202.0v0M844.5 208.0v0M900.5 195.0v0M900.5 201.2v0M907.5 208.8v0M876.2 212.5v0M889.5 212.5v0M895.0 215.0v0M915.0 211.2v0M921.2 212.5v0M991.2 208.8v0M991.2 215.0v0M998.8 216.2v0M1017.5 156.2v0M1021.2 169.5v0M1017.5 180.5v0M1021.2 180.5v0M1039.5 173.2v0M1035.0 186.8v0M1050.5 168.0v0M1078.8 142.5v0M1075.5 160.0v0M1079.5 161.2v0M1075.5 175.0v0M1087.5 190.0v0M1121.2 177.5v0M1106.2 207.5v0M1113.8 216.2v0M1158.2 206.2v0M1195.0 215.5v0M1091.2 202.5v0M844.5 314.5v0M852.5 305.0v0M872.5 309.5v0M885.0 342.5v0M885.0 347.5v0M887.5 333.2v0M907.5 321.2v0M927.5 320.0v0M927.5 323.8v0M934.5 327.5v0M934.5 336.2v0M934.5 355.0v0M934.5 360.5v0M971.2 358.2v0M978.8 351.2v0M987.5 349.2v0M972.0 341.2v0M978.2 342.5v0M997.5 335.0v0M1008.8 334.5v0M1013.2 331.2v0M1013.2 338.0v0M962.5 312.0v0M971.2 320.0v0M971.2 327.5v0M978.8 326.2v0M985.0 320.0v0M995.0 326.2v0M1007.5 321.2v0M1022.5 315.0v0M1022.5 318.8v0M1043.8 318.2v0M1043.8 311.2v0M1048.8 299.2v0M1055.0 300.0v0M1061.2 297.5v0M1079.5 301.2v0M1079.5 305.8v0M1101.2 318.8v0M1101.2 322.5v0M1098.8 308.8v0M1122.5 307.5v0M1122.5 311.2v0M1160.0 300.0v0M1171.2 301.2v0M1198.8 305.0v0M1192.5 298.8v0M1240.2 207.5v0M1240.2 212.5v0M1240.2 221.2v0M1212.0 219.5v0M1234.0 223.8v0M1246.5 234.5v0M1240.2 234.5v0M1299.5 244.2v0M1220.2 301.2v0M1239.0 312.5v0M1249.5 312.0v0M1270.2 313.8v0M1291.5 319.5v0M1336.5 318.8v0M1347.8 316.2v0M1262.0 331.2v0M1121.5 309.5v0M1144.0 305.0v0M1160.2 297.5v0M1160.2 302.5v0M1171.5 302.5v0M1192.0 295.0v0M1192.0 298.8v0M1199.0 302.5v0M1199.0 306.2v0M1106.5 207.0v0M1114.0 216.2v0M1114.0 221.2v0M1124.5 207.5v0M1124.5 220.0v0M1158.5 206.2v0M1158.5 221.2v0M1166.5 219.5v0M1195.2 215.0v0M138.4 224.5v0M140.5 229.7v0M137.9 235.6v0M140.1 241.4v0M139.3 243.6v0M139.8 249.4v0M138.0 258.7v0M140.6 262.9v0M212.1 336.5v0M212.0 341.5v0M212.0 345.4v0M212.1 352.6v0M212.1 357.2v0M224.4 324.3v0M225.1 332.1v0M225.1 337.0v0M225.7 340.8v0M226.4 344.8v0M224.3 353.1v0M223.8 355.8v0M224.9 362.9v0M225.2 366.5v0M265.0 333.1v0M264.3 336.6v0M264.6 339.9v0M264.4 347.4v0M460.7 357.2v0M461.8 366.3v0M462.0 371.5v0M461.6 375.3v0M460.6 383.8v0M461.1 390.6v0M461.5 393.4v0M206.9 288.5v0M396.0 231.0v0M128.6 212.7v0M300.5 266.7v0M386.4 261.3v0M474.6 362.5v0M239.4 95.0v0M261.9 279.9v0M362.2 254.5v0M162.0 279.2v0M128.0 290.2v0M295.2 217.0v0M307.0 258.7v0M423.8 317.7v0M399.3 284.7v0M298.2 182.7v0M374.9 264.3v0M427.3 357.5v0M315.4 406.0v0M228.9 295.8v0M300.0 190.2v0M427.1 353.7v0M436.5 306.9v0M407.7 248.2v0M231.5 315.4v0M411.0 271.0v0M369.4 238.6v0M136.9 293.5v0M137.3 294.1v0M137.0 264.8v0M324.4 367.1v0M353.8 278.0v0M345.3 327.9v0M247.6 215.8v0M265.0 282.2v0M140.2 269.5v0M137.5 265.7v0M341.2 325.1v0M129.4 289.9v0M469.5 321.5v0M316.9 252.4v0M336.3 316.1v0M216.9 321.6v0M309.8 312.7v0M341.2 365.9v0M258.9 310.6v0M351.8 278.9v0M434.1 291.2v0M269.4 310.0v0M469.3 390.1v0M452.7 306.1v0M404.6 248.8v0M329.4 289.6v0M362.0 251.5v0M176.5 271.7v0M208.7 308.3v0M168.0 282.4v0M140.7 269.2v0M218.8 299.6v0M443.6 268.6v0M445.5 269.4v0M212.8 299.1v0M349.1 350.0v0M473.9 362.5v0M243.3 247.6v0M324.2 288.6v0M266.1 320.4v0M292.0 216.1v0M334.9 360.2v0M447.1 268.0v0M119.7 290.6v0M408.1 303.9v0M474.9 364.1v0M340.3 332.6v0M330.5 364.2v0M266.3 283.6v0M267.2 318.0v0M119.8 322.3v0M229.7 320.4v0M170.3 324.2v0M475.6 291.6v0M141.9 268.2v0M333.4 361.8v0M172.9 308.9v0M193.2 297.4v0M335.1 365.9v0M437.6 273.1v0M397.5 273.4v0M439.5 248.7v0M186.3 289.1v0M319.9 380.1v0M281.7 209.1v0M230.9 317.2v0M260.2 274.6v0M158.9 293.1v0M408.6 306.1v0M337.4 323.7v0M376.5 221.6v0M282.7 101.9v0M266.4 284.4v0M282.9 202.5v0M182.0 317.5v0M296.9 159.9v0M465.3 305.2v0M477.4 352.9v0M183.9 287.2v0M311.3 343.5v0M292.9 131.9v0M445.4 226.9v0M185.8 288.3v0M156.5 295.1v0M475.0 363.7v0M138.1 258.5v0M471.3 383.0v0M292.6 215.8v0M228.6 316.9v0M159.4 271.3v0M301.6 286.2v0M219.6 318.8v0M149.1 297.2v0M317.7 370.9v0M255.3 267.8v0M356.1 337.5v0M427.2 317.2v0M326.7 292.3v0M139.6 291.4v0M276.8 228.3v0M293.3 216.0v0M288.3 206.8v0M250.3 238.9v0M175.1 263.3v0M221.9 316.0v0M200.8 302.1v0M390.0 258.6v0M133.6 298.7v0M154.4 260.5v0M203.7 300.6v0M243.5 248.1v0M312.6 382.4v0M267.3 319.1v0M441.3 275.6v0M446.8 268.7v0M361.1 260.5v0M264.8 282.2v0M345.0 360.4v0M158.0 296.4v0M374.8 225.7v0M203.9 284.7v0M409.2 247.8v0M468.9 389.2v0M422.7 317.0v0M386.3 217.4v0M440.0 243.2v0M136.8 264.6v0M309.9 312.2v0M445.1 269.1v0M385.9 261.5v0M351.3 283.5v0M417.6 338.4v0M359.8 271.2v0M233.1 294.3v0M383.2 259.5v0M385.7 214.0v0M162.5 280.5v0M173.8 304.6v0M218.4 300.1v0M290.4 129.0v0M149.3 300.1v0M234.1 307.9v0M172.1 279.3v0M437.2 306.6v0M381.9 268.6v0M446.9 237.6v0M439.2 289.1v0M391.7 262.7v0M461.8 287.2v0M123.2 304.6v0M195.9 296.7v0M420.9 312.2v0M353.8 347.9v0M459.4 322.5v0M581.1 200.3v0M484.2 346.6v0M516.1 225.7v0M573.8 278.7v0M510.7 202.0v0M512.0 237.4v0M480.6 306.0v0M484.1 352.7v0M508.9 201.0v0M532.9 260.2v0M522.4 213.4v0M529.3 259.8v0M575.6 318.3v0M514.6 226.2v0M553.3 305.4v0M501.3 231.7v0M528.6 253.5v0M503.0 215.6v0M514.4 180.0v0M571.3 329.2v0M540.0 273.4v0M562.8 283.0v0M505.1 251.5v0M592.4 321.8v0M483.0 315.3v0M500.5 266.0v0M554.0 301.4v0M523.9 227.4v0M549.2 347.6v0M492.6 292.7v0M547.4 293.3v0M538.7 291.6v0M537.7 268.6v0M548.7 349.1v0M485.6 317.4v0M508.2 247.0v0M569.7 334.2v0M490.1 306.6v0M576.2 321.4v0M494.6 280.0v0M512.4 236.4v0M537.8 290.4v0M544.4 323.5v0M553.2 352.9v0M584.7 231.6v0M541.2 271.0v0M484.9 304.5v0M551.9 369.4v0M480.3 308.0v0M534.1 296.4v0M560.1 333.2v0M504.0 256.9v0M537.5 300.3v0M588.6 338.6v0M581.5 268.2v0M599.3 314.8v0M491.4 309.0v0M598.2 319.2v0M493.4 286.3v0M489.4 300.1v0M486.2 317.0v0M532.0 266.0v0M587.0 327.6v0M575.1 275.5v0M558.1 295.6v0M524.6 235.2v0M540.1 309.1v0M588.6 254.3v0M483.1 302.9v0M491.4 320.4v0M599.9 318.9v0M546.6 297.7v0M586.5 317.7v0M523.9 224.0v0M485.4 304.0v0M496.1 301.5v0M532.4 290.1v0M572.3 280.2v0M494.6 279.0v0M500.2 243.9v0M512.2 198.7v0M531.5 266.5v0M482.9 314.4v0M488.6 315.1v0M559.4 331.5v0M548.6 346.3v0M524.7 264.9v0M589.4 263.7v0M588.8 256.0v0M558.9 341.7v0M566.2 286.9v0M579.7 270.3v0M576.9 270.8v0M532.3 260.6v0M528.0 257.2v0M562.8 283.4v0M584.5 229.1v0M555.7 342.6v0M595.3 325.0v0M588.6 331.1v0M483.6 350.3v0M583.5 302.7v0M597.3 323.5v0M588.5 332.5v0M529.7 265.1v0M590.5 328.3v0M532.9 286.9v0M526.8 270.5v0M509.2 246.4v0M505.4 259.8v0M576.6 272.2v0M518.0 218.7v0M521.4 241.2v0M488.5 314.7v0M579.5 275.2v0M489.3 311.4v0M585.6 310.7v0M557.0 340.2v0M587.7 243.0v0M566.9 357.0v0M792.4 305.1v0M610.6 243.1v0M824.2 240.1v0M790.0 215.7v0M826.1 243.4v0M648.2 240.9v0M771.4 209.7v0M671.7 225.7v0M633.7 246.5v0M766.8 200.6v0M734.9 252.6v0M692.1 209.8v0M600.9 269.2v0M747.8 268.6v0M773.6 202.5v0M707.0 206.7v0M786.1 216.2v0M768.1 200.6v0M642.2 312.9v0M743.5 245.6v0M838.8 241.1v0M722.5 216.6v0M831.5 304.1v0M638.1 258.1v0M739.8 146.1v0M690.4 242.1v0M712.1 213.2v0M837.0 283.0v0M702.3 192.5v0M800.8 216.6v0M729.8 206.3v0M653.2 298.6v0M621.6 295.7v0M723.1 200.3v0M760.2 167.2v0M685.2 270.9v0M736.4 257.6v0M805.5 185.4v0M683.3 283.1v0M751.7 192.2v0M813.9 209.6v0M807.2 290.3v0M810.7 227.2v0M648.0 233.2v0M692.4 235.0v0M741.8 243.6v0M780.2 278.6v0M818.6 328.6v0M752.2 268.1v0M803.6 270.6v0M816.9 311.0v0M808.7 294.4v0M762.9 266.2v0M635.5 326.2v0M829.1 240.1v0M608.8 304.2v0M695.5 233.7v0M754.7 172.6v0M749.9 263.9v0M674.5 288.6v0M750.9 187.5v0M815.8 234.1v0M600.7 330.7v0M721.0 170.2v0M780.2 284.1v0M761.8 263.2v0M816.0 312.2v0M694.8 235.5v0M609.5 297.5v0M788.2 219.3v0M796.6 221.6v0M785.9 287.9v0M605.7 236.3v0M785.9 294.6v0M739.9 246.8v0M744.7 247.8v0M625.7 237.3v0M839.1 239.4v0M803.0 269.7v0M733.0 252.0v0M787.2 294.9v0M786.6 203.3v0M669.3 299.7v0M634.5 318.5v0M708.0 271.4v0M812.5 234.1v0M674.9 228.1v0M713.4 212.8v0M795.0 334.9v0M830.6 300.6v0M712.4 211.8v0M742.0 166.4v0M699.7 187.9v0M695.4 166.4v0M716.1 283.9v0M657.3 297.7v0M639.0 311.8v0M727.3 206.6v0M836.4 291.2v0M677.5 209.2v0M817.8 234.1v0M796.2 218.8v0M721.9 312.7v0M798.2 216.6v0M798.1 295.5v0M757.6 263.5v0M693.9 233.4v0M812.1 298.6v0M714.9 281.3v0M623.7 294.3v0M833.5 227.0v0M673.5 218.2v0M815.8 305.7v0M643.0 305.4v0M790.6 204.6v0M651.3 300.3v0M829.6 322.3v0M603.3 315.0v0M808.4 293.0v0M672.2 227.0v0M834.9 303.8v0M731.7 203.3v0M626.4 295.4v0M654.0 298.5v0M618.3 286.4v0M838.9 229.9v0M774.2 278.8v0M692.6 209.1v0M667.3 234.8v0M821.9 240.1v0M700.2 247.0v0M683.1 229.7v0M792.0 302.0v0M638.2 311.1v0M820.9 235.1v0M622.3 295.5v0M662.3 225.1v0M626.1 243.5v0M644.3 228.8v0M614.9 291.5v0M783.0 292.1v0M725.0 213.8v0M681.4 224.3v0M699.9 195.3v0M814.6 307.5v0M775.7 287.5v0M648.9 305.5v0M687.6 229.3v0M693.7 237.6v0M786.2 209.5v0M670.0 221.4v0M628.0 244.7v0M619.0 231.2v0M788.8 295.1v0M818.0 328.4v0M702.0 193.5v0M731.4 206.1v0M792.1 312.9v0M839.9 228.9v0M750.7 188.3v0M706.3 262.8v0M790.4 221.1v0M669.3 233.2v0M754.8 192.0v0M659.4 300.4v0M752.4 263.3v0M698.0 177.8v0M813.8 324.1v0M785.2 215.3v0M721.2 316.8v0M680.6 227.0v0M819.7 331.9v0M666.2 302.9v0M756.3 263.4v0M638.7 254.1v0M645.7 297.4v0M700.8 249.2v0M678.1 283.9v0M725.2 292.3v0M791.1 221.1v0M834.9 220.2v0M722.8 215.3v0M738.0 243.0v0M746.9 187.3v0M767.2 284.7v0M663.7 231.2v0M729.9 212.4v0M822.8 236.8v0M835.5 301.2v0M761.3 264.6v0M781.3 282.4v0M701.1 183.6v0M779.2 278.4v0M693.9 188.3v0M807.2 271.8v0M773.0 208.5v0M679.3 207.7v0M801.4 214.7v0M754.3 293.4v0M718.2 209.0v0M682.6 276.6v0M623.3 295.3v0M711.6 209.2v0M611.0 240.3v0M816.7 231.3v0M812.3 305.1v0M800.3 280.2v0M632.9 307.1v0M761.3 193.4v0M732.4 204.0v0M603.6 327.3v0M709.7 267.7v0M745.8 253.4v0M736.4 183.1v0M698.0 171.2v0M727.9 213.7v0M751.0 191.9v0M817.5 235.7v0M734.3 196.9v0M838.6 239.1v0M664.0 224.5v0M746.3 255.4v0M821.5 237.9v0M677.8 279.8v0M820.3 344.1v0M678.3 220.5v0M789.8 296.2v0M795.7 221.7v0M667.7 297.8v0M612.2 294.0v0M737.0 178.4v0M762.7 266.5v0M774.0 207.3v0M660.5 337.4v0M689.7 245.3v0M625.3 231.9v0M763.2 270.5v0M660.5 331.4v0M635.5 233.4v0M821.7 237.6v0M810.2 228.6v0M704.1 265.1v0M613.1 238.1v0M611.4 294.1v0M762.2 192.8v0M816.7 308.9v0M660.9 325.1v0M783.3 300.0v0M682.1 223.2v0M707.8 273.0v0M687.5 267.0v0M819.2 337.2v0M834.2 301.9v0M786.9 291.2v0M821.1 314.5v0M602.8 250.9v0M814.5 228.0v0M811.3 304.3v0M735.3 257.0v0M641.6 324.7v0M777.0 277.2v0M651.4 236.8v0M725.0 221.9v0M603.8 313.8v0M833.9 223.5v0M654.5 216.5v0M810.4 218.5v0M687.8 222.9v0M817.5 224.9v0M802.6 276.3v0M761.1 193.4v0M689.2 247.7v0M825.7 239.3v0M743.4 256.4v0M720.7 313.5v0M775.5 201.5v0M759.2 261.0v0M604.8 250.5v0M686.4 224.9v0M698.7 195.1v0M655.7 305.6v0M681.3 227.2v0M755.2 196.2v0M736.5 248.8v0M781.2 213.2v0M640.0 311.3v0M615.6 211.7v0M694.9 185.5v0M834.2 226.0v0M738.7 166.3v0M768.5 207.4v0M835.7 292.1v0M611.5 243.4v0M716.8 300.8v0M798.9 293.3v0M753.3 191.5v0M727.9 217.5v0M630.9 307.1v0M632.1 249.0v0M652.5 298.4v0M804.7 269.5v0M696.8 239.9v0M691.7 245.2v0M680.1 225.2v0M680.1 279.1v0M775.4 191.9v0M602.6 251.1v0M830.4 211.2v0M817.5 326.0v0M836.9 288.5v0M721.8 319.8v0M827.5 299.9v0M677.3 216.5v0M697.3 245.6v0M787.6 292.6v0M622.2 296.1v0M746.0 187.8v0M726.8 219.6v0M792.9 320.5v0M776.0 293.8v0M647.9 236.6v0M623.7 294.7v0M615.3 232.5v0M618.2 299.0v0M603.0 250.8v0M623.6 235.3v0M820.3 213.5v0M702.5 201.6v0M793.2 324.1v0M752.1 186.3v0M749.0 271.2v0M710.9 275.9v0M606.0 242.0v0M643.8 249.1v0M664.5 307.8v0M646.1 238.7v0M902.2 311.1v0M847.0 239.4v0M1054.9 280.3v0M848.1 240.3v0M861.6 271.5v0M999.1 288.3v0M976.9 291.4v0M1048.1 204.3v0M846.4 287.8v0M1055.1 292.5v0M862.9 274.3v0M863.5 272.8v0M849.6 272.5v0M974.8 224.1v0M896.6 232.5v0M1024.8 236.7v0M850.9 285.1v0M1015.9 281.6v0M1036.3 223.3v0M874.5 281.9v0M984.1 244.7v0M915.0 301.5v0M840.2 234.3v0M908.9 242.5v0M984.9 229.2v0M864.1 301.1v0M947.5 267.6v0M983.3 247.7v0M913.1 290.2v0M861.7 247.1v0M886.4 316.5v0M1055.0 296.4v0M1008.0 284.3v0M889.8 290.1v0M1019.1 210.5v0M898.6 293.2v0M850.1 241.0v0M1022.0 284.4v0M946.4 207.7v0M902.7 295.7v0M924.9 287.7v0M848.4 238.0v0M950.6 214.7v0M944.9 230.9v0M1019.7 282.9v0M907.3 285.2v0M961.1 244.5v0M916.9 292.2v0M957.4 237.7v0M907.8 284.1v0M904.7 224.0v0M999.8 233.2v0M1048.4 202.4v0M886.0 246.5v0M851.0 277.9v0M988.7 295.2v0M846.0 285.3v0M1019.8 279.5v0M1022.1 230.3v0M1015.8 282.0v0M840.9 287.1v0M850.2 285.2v0M1004.1 240.7v0M1009.9 283.0v0M849.9 273.7v0M858.7 282.9v0M991.7 366.3v0M1012.2 228.6v0M1011.6 282.3v0M885.6 331.8v0M932.0 303.7v0M1021.3 232.2v0M981.5 239.1v0M844.8 284.1v0M1052.4 281.8v0M897.5 294.4v0M1042.3 212.1v0M913.8 241.2v0M1056.6 288.6v0M1031.4 209.5v0M1016.4 200.4v0M861.1 228.1v0M967.7 293.4v0M972.8 234.3v0M956.1 218.6v0M859.9 241.2v0M964.7 293.6v0M941.7 239.0v0M1021.9 342.6v0M977.7 285.3v0M861.7 246.7v0M899.0 242.7v0M1049.8 273.1v0M918.8 303.3v0M1037.3 285.1v0M941.2 273.6v0M1053.4 218.1v0M869.0 278.8v0M942.4 286.9v0M880.2 321.5v0M1004.3 296.6v0M1013.6 285.1v0M1039.5 288.5v0M909.2 293.8v0M853.2 246.1v0M854.8 248.4v0M861.0 240.4v0M915.5 300.6v0M919.9 287.5v0M855.7 245.3v0M878.3 226.1v0M999.0 287.7v0M880.8 234.6v0M976.5 305.2v0M980.0 290.3v0M892.1 290.2v0M840.5 304.7v0M866.1 307.7v0M879.2 289.6v0M974.2 237.7v0M1025.0 316.0v0M876.3 229.4v0M1032.4 232.5v0M976.1 233.9v0M926.8 283.0v0M863.4 270.7v0M977.7 244.3v0M1001.6 294.7v0M971.8 322.0v0M932.7 280.8v0M882.6 226.8v0M949.1 227.8v0M884.2 321.9v0M946.9 210.5v0M891.1 239.9v0M933.0 299.5v0M975.1 245.5v0M972.9 291.1v0M902.6 290.5v0M972.6 232.5v0M884.3 252.7v0M842.9 287.1v0M956.3 304.1v0M918.7 239.1v0M931.6 245.4v0M968.9 292.6v0M875.6 291.4v0M912.8 227.7v0M871.8 280.0v0M851.1 246.3v0M936.8 279.0v0M907.5 284.5v0M889.3 237.6v0M847.0 282.4v0M1019.2 284.7v0M979.8 242.1v0M842.5 285.5v0M949.6 226.1v0M979.8 247.4v0M1048.3 268.9v0M910.9 239.0v0M872.1 279.0v0M943.1 276.7v0M1048.2 228.4v0M841.1 290.0v0M949.0 228.5v0M992.3 295.6v0M1026.5 288.7v0M960.1 283.9v0M863.2 237.1v0M925.4 283.9v0M966.6 302.0v0M981.5 300.7v0M959.2 243.1v0M988.5 304.8v0M900.9 233.2v0M1002.8 246.6v0M864.9 275.0v0M908.3 316.9v0M978.6 291.1v0M980.7 248.6v0M910.2 310.7v0M925.7 293.3v0M909.5 287.3v0M883.8 320.6v0M881.1 299.4v0M950.2 278.3v0M1008.2 227.4v0M845.2 229.6v0M894.3 237.2v0M1007.5 283.7v0M1054.7 273.9v0M1045.7 289.1v0M842.0 238.0v0M900.9 227.6v0M864.9 239.6v0M965.2 285.7v0M1054.3 278.9v0M921.5 282.8v0M1012.5 228.9v0M855.2 272.1v0M1037.8 224.5v0M880.5 302.3v0M868.4 273.1v0M1060.0 232.6v0M998.0 290.3v0M1034.8 286.3v0M992.0 311.7v0M886.5 316.0v0M1046.6 278.7v0M873.2 297.5v0M955.3 273.9v0M1049.8 187.5v0M869.8 280.0v0M1003.7 300.7v0M971.4 289.5v0M915.0 295.0v0M891.2 228.5v0M878.3 225.1v0M940.1 237.2v0M929.9 224.6v0M1043.8 282.6v0M1033.7 296.9v0M1055.1 288.5v0M1058.7 234.5v0M1030.5 296.0v0M1047.7 275.1v0M912.4 295.1v0M1038.9 208.6v0M1018.6 281.2v0M1043.6 225.8v0M1034.2 288.2v0M1028.8 226.2v0M845.6 277.0v0M1051.4 282.7v0M1033.4 229.0v0M919.0 297.7v0M931.1 242.3v0M874.4 294.1v0M895.1 291.7v0M944.8 217.4v0M926.1 281.8v0M852.6 303.5v0M932.1 235.0v0M888.4 298.5v0M942.7 229.8v0M865.5 235.7v0M967.8 286.4v0M847.6 238.1v0M972.5 291.3v0M949.8 263.9v0M968.0 288.5v0M1015.7 191.8v0M868.3 242.8v0M905.3 309.0v0M874.4 284.3v0M899.3 295.3v0M896.2 282.8v0M1047.7 226.7v0M1059.1 291.5v0M928.9 241.1v0M1053.8 280.2v0M860.9 273.8v0M1029.5 299.4v0M976.2 241.9v0M943.2 226.8v0M864.0 247.3v0M929.7 281.6v0M935.8 284.8v0M981.7 290.1v0M849.8 277.6v0M1033.2 295.6v0M979.7 294.0v0M1045.4 280.0v0M905.7 286.8v0M957.8 267.2v0M966.8 285.4v0M1008.1 228.8v0M1049.4 190.6v0M1041.3 217.3v0M852.9 233.1v0M948.2 263.9v0M953.2 297.7v0M984.4 287.9v0M888.9 238.4v0M889.4 246.8v0M948.6 308.3v0M857.3 269.9v0M871.0 277.4v0M945.7 212.4v0M1059.7 303.6v0M918.8 296.3v0M942.4 313.9v0M951.1 274.4v0M867.5 305.3v0M928.6 282.2v0M996.1 240.6v0M939.2 286.4v0M935.7 275.8v0M1053.1 206.3v0M995.8 240.8v0M891.9 284.9v0M968.1 218.5v0M1048.9 195.4v0M875.1 239.9v0M919.3 321.2v0M840.6 236.3v0M959.6 238.7v0M1059.9 235.7v0M971.1 296.4v0M1026.0 284.7v0M982.5 319.1v0M975.0 232.0v0M976.6 307.3v0M1044.1 214.2v0M1031.4 211.9v0M926.8 231.8v0M917.6 244.9v0M883.4 295.0v0M896.4 283.6v0M840.9 237.3v0M1047.5 227.8v0M992.8 300.3v0M911.8 294.6v0M878.5 205.9v0M1036.6 295.7v0M1041.8 229.5v0M949.8 219.4v0M989.6 245.2v0M959.0 213.1v0M916.8 296.4v0M946.1 168.6v0M901.5 327.5v0M845.8 244.1v0M905.6 284.7v0M860.4 214.3v0M847.5 235.4v0M1018.9 199.8v0M1034.2 302.4v0M1042.7 286.8v0M973.6 303.3v0M859.7 225.9v0M995.9 241.3v0M967.5 298.2v0M875.2 287.5v0M968.7 288.1v0M1050.6 185.1v0M872.2 235.8v0M987.4 295.4v0M929.6 240.6v0M1011.6 285.2v0M982.0 245.7v0M923.6 283.1v0M891.3 285.6v0M1032.6 292.0v0M1000.1 306.5v0M946.8 201.4v0M981.0 239.5v0M940.7 318.3v0M871.9 278.5v0M937.9 224.3v0M1028.9 320.2v0M964.4 280.8v0M1059.0 269.4v0M1009.2 293.5v0M868.1 280.4v0M958.9 275.8v0M983.1 235.5v0M1006.6 238.0v0M943.3 283.1v0M1013.3 229.0v0M845.0 277.6v0M865.0 274.7v0M1014.3 211.1v0M987.9 298.2v0M964.9 249.2v0M958.3 235.9v0M952.2 274.4v0M1048.2 282.0v0M956.2 269.4v0M971.6 247.0v0M1004.1 293.1v0M977.0 287.9v0M851.6 274.5v0M1050.3 278.5v0M950.8 272.1v0M1050.1 266.9v0M977.7 240.0v0M978.7 243.7v0M1021.2 208.7v0M1029.7 290.5v0M960.7 293.3v0M979.6 304.5v0M941.4 279.4v0M980.4 320.5v0M1046.7 222.4v0M997.2 225.9v0M904.2 291.1v0M974.6 290.2v0M1059.1 226.9v0M925.4 281.6v0M958.2 226.4v0M936.2 279.7v0M962.7 238.6v0M983.2 247.4v0M905.0 243.8v0M1004.3 226.9v0M855.6 292.9v0M877.5 305.8v0M863.6 275.9v0M1035.0 299.9v0M951.1 231.4v0M848.7 283.4v0M1011.9 289.5v0M1024.1 222.3v0M869.7 274.4v0M861.7 278.7v0M1020.2 228.0v0M979.5 284.6v0M899.9 284.3v0M1017.3 196.4v0M1021.0 230.2v0M1001.7 285.4v0M972.4 286.9v0M1004.4 297.4v0M996.0 232.5v0M875.2 338.8v0M1046.1 185.6v0M1054.4 223.1v0M1037.9 216.2v0M935.2 282.7v0M1050.7 267.8v0M868.5 284.5v0M848.4 230.8v0M879.3 287.9v0M882.5 238.5v0M924.6 284.4v0M869.9 275.6v0M936.0 231.4v0M856.3 207.2v0M841.5 229.3v0M881.2 289.1v0M893.9 284.9v0M867.5 243.0v0M980.3 219.6v0M1037.4 278.1v0M1010.5 229.6v0M886.3 235.8v0M968.5 332.1v0M982.8 316.0v0M879.8 226.4v0M934.1 241.8v0M1012.0 285.4v0M970.6 289.6v0M935.1 297.2v0M877.9 213.5v0M854.9 278.0v0M857.5 270.6v0M856.0 283.9v0M1049.1 191.6v0M947.9 201.3v0M1022.7 236.1v0M878.3 220.1v0M946.8 267.5v0M956.1 223.0v0M951.8 269.0v0M1031.8 287.6v0M934.2 288.9v0M959.5 306.8v0M952.4 269.1v0M910.3 234.2v0M919.6 233.4v0M1021.8 229.9v0M887.2 239.7v0M1035.4 302.5v0M921.3 240.9v0M933.4 297.7v0M980.4 291.0v0M960.8 218.6v0M917.6 241.1v0M890.8 285.4v0M1021.7 233.4v0M871.0 283.4v0M885.4 318.4v0M952.8 271.5v0M929.3 239.9v0M866.2 238.1v0M841.0 297.2v0M855.4 229.1v0M1059.3 288.5v0M1033.0 227.1v0M987.2 314.2v0M968.0 241.4v0M930.6 280.6v0M1051.2 266.4v0M913.7 286.7v0M1012.7 186.7v0M970.2 233.4v0M938.2 229.5v0M943.5 224.0v0M925.6 287.3v0M934.2 297.3v0M969.4 291.8v0M891.4 288.9v0M986.7 291.5v0M985.0 313.5v0M1003.2 239.6v0M972.7 293.7v0M895.2 310.1v0M974.0 290.7v0M1046.7 282.3v0M971.2 245.9v0M938.3 235.0v0M1001.2 287.3v0M1000.9 288.3v0M957.4 267.6v0M885.2 247.9v0M1058.2 299.6v0M976.6 244.2v0M974.7 286.7v0M1017.7 197.1v0M881.3 292.4v0M853.7 270.7v0M865.3 241.7v0M852.8 241.9v0M998.8 299.2v0M895.9 234.0v0M974.8 287.7v0M921.5 282.3v0M980.9 231.8v0M959.2 269.6v0M946.9 268.1v0M942.1 221.3v0M1014.8 285.4v0M854.8 241.5v0M1002.9 236.2v0M845.1 230.6v0M1025.2 297.6v0M882.7 236.5v0M909.2 242.7v0M961.5 276.1v0M907.8 243.5v0M983.7 300.1v0M869.2 286.1v0M1014.5 287.4v0M840.9 214.8v0M941.7 287.0v0M1015.3 283.2v0M862.2 289.3v0M939.5 284.5v0M880.0 301.6v0M977.5 288.0v0M874.4 292.6v0M1053.6 269.0v0M971.7 246.4v0M938.9 287.9v0M988.5 308.1v0M1049.6 264.5v0M936.2 292.1v0M864.8 298.7v0M1049.3 261.1v0M958.5 224.5v0M850.4 273.6v0M925.3 284.8v0M876.7 290.9v0M995.9 233.1v0M968.9 306.2v0M1005.9 321.9v0M967.6 236.0v0M891.3 287.6v0M959.4 276.5v0M907.4 245.1v0M1174.1 294.5v0M1070.4 256.4v0M1134.3 243.9v0M1088.5 284.3v0M1069.2 255.8v0M1099.3 284.3v0M1141.2 243.8v0M1192.8 232.4v0M1167.9 273.8v0M1112.0 242.2v0M1208.4 282.0v0M1073.2 252.9v0M1065.3 214.6v0M1083.0 278.5v0M1092.6 274.0v0M1140.2 289.8v0M1142.7 244.6v0M1080.8 227.7v0M1137.0 242.6v0M1073.2 180.9v0M1193.4 230.1v0M1104.4 283.4v0M1142.2 302.6v0M1195.9 279.8v0M1083.9 287.9v0M1108.8 248.8v0M1160.5 237.7v0M1137.1 292.8v0M1175.7 278.5v0M1101.0 246.3v0M1100.5 242.8v0M1125.6 227.1v0M1188.9 231.8v0M1097.4 284.3v0M1199.6 339.6v0M1079.1 275.1v0M1099.7 282.9v0M1198.8 233.3v0M1061.5 227.8v0M1079.5 280.8v0M1066.7 209.5v0M1182.6 276.5v0M1076.3 259.1v0M1177.1 239.8v0M1144.4 241.5v0M1100.9 238.7v0M1071.5 187.6v0M1184.7 270.8v0M1077.7 266.1v0M1108.3 232.7v0M1129.9 279.8v0M1070.5 165.9v0M1078.1 217.7v0M1124.4 241.8v0M1131.4 278.2v0M1180.1 275.8v0M1156.5 240.1v0M1073.6 252.1v0M1193.4 292.8v0M1137.0 286.0v0M1108.2 240.0v0M1077.9 209.8v0M1065.6 265.7v0M1110.9 240.9v0M1121.4 281.3v0M1144.3 292.1v0M1163.6 236.0v0M1067.7 213.1v0M1173.0 285.0v0M1095.4 278.2v0M1083.8 223.2v0M1097.0 297.4v0M1198.4 288.4v0M1132.3 232.1v0M1166.5 232.9v0M1209.4 279.2v0M1150.1 243.1v0M1137.1 283.0v0M1175.0 280.5v0M1191.4 228.2v0M1141.8 246.3v0M1071.2 255.3v0M1124.0 239.8v0M1167.0 279.6v0M1179.0 235.5v0M1093.5 237.8v0M1143.9 244.4v0M1201.9 283.0v0M1198.4 280.0v0M1209.9 244.1v0M1143.8 246.2v0M1164.5 240.7v0M1198.4 285.1v0M1075.8 181.8v0M1181.9 210.6v0M1068.6 218.9v0M1116.6 288.9v0M1095.8 238.2v0M1202.2 234.4v0M1096.0 241.7v0M1151.8 241.6v0M1065.3 256.1v0M1198.0 235.1v0M1108.0 248.9v0M1142.9 239.8v0M1164.0 238.3v0M1120.7 286.1v0M1170.1 239.1v0M1118.4 246.5v0M1146.0 237.2v0M1126.2 287.8v0M1103.7 286.0v0M1115.2 286.9v0M1155.5 234.0v0M1105.1 285.4v0M1153.4 242.2v0M1163.7 279.7v0M1202.6 290.5v0M1112.0 246.8v0M1084.4 220.1v0M1205.6 197.7v0M1083.6 223.6v0M1127.1 283.5v0M1157.6 283.9v0M1067.1 264.4v0M1134.5 298.6v0M1185.0 274.4v0M1061.2 226.4v0M1202.5 245.8v0M1162.1 209.0v0M1103.9 245.7v0M1087.2 290.3v0M1155.4 236.2v0M1137.0 233.2v0M1077.0 261.9v0M1152.4 288.0v0M1174.7 278.3v0M1118.3 281.7v0M1125.7 228.1v0M1192.7 232.0v0M1118.5 234.7v0M1140.5 244.2v0M1155.4 229.2v0M1136.7 281.2v0M1088.5 315.1v0M1178.5 279.5v0M1081.9 290.8v0M1152.5 281.4v0M1081.8 279.9v0M1088.8 224.5v0M1171.8 236.6v0M1204.0 250.0v0M1114.5 279.8v0M1139.7 286.5v0M1131.1 279.6v0M1090.0 276.8v0M1090.6 295.5v0M1069.0 261.0v0M1100.1 249.1v0M1148.5 243.1v0M1107.5 289.3v0M1179.8 280.7v0M1066.1 277.8v0M1200.9 241.6v0M1108.8 248.2v0M1069.5 258.0v0M1154.7 247.2v0M1175.9 230.5v0M1173.9 245.3v0M1141.0 291.6v0M1156.2 282.6v0M1192.5 281.7v0M1101.9 284.8v0M1169.7 240.1v0M1149.9 288.8v0M1123.3 238.8v0M1102.5 242.1v0M1066.0 208.5v0M1063.8 263.2v0M1128.3 238.0v0M1117.3 300.7v0M1177.2 271.0v0M1206.8 284.5v0M1138.1 286.2v0M1184.6 270.7v0M1188.5 271.6v0M1105.1 282.6v0M1069.1 216.9v0M1170.6 245.1v0M1075.9 181.8v0M1191.8 229.0v0M1186.6 281.6v0M1203.6 249.4v0M1091.9 232.5v0M1168.8 277.7v0M1161.7 237.7v0M1068.3 259.1v0M1203.9 245.2v0M1137.8 281.5v0M1143.5 236.2v0M1153.5 304.0v0M1068.6 254.2v0M1111.4 283.9v0M1182.7 231.2v0M1082.6 285.6v0M1163.4 240.5v0M1201.5 244.8v0M1064.4 202.1v0M1183.6 229.7v0M1172.4 235.1v0M1200.7 296.4v0M1201.8 289.9v0M1189.1 233.2v0M1186.1 230.1v0M1186.0 275.1v0M1165.3 214.1v0M1134.1 283.7v0M1064.6 217.6v0M1147.3 243.9v0M1203.2 242.6v0M1152.7 227.2v0M1206.3 287.3v0M1077.6 207.2v0M1163.9 280.2v0M1079.8 275.8v0M1164.7 237.5v0M1115.2 280.7v0M1119.5 327.6v0M1083.6 225.2v0M1167.7 278.4v0M1180.6 235.0v0M1164.7 278.3v0M1143.3 243.8v0M1141.3 290.3v0M1118.8 233.2v0M1137.8 284.0v0M1103.8 282.0v0M1071.3 198.1v0M1072.5 253.4v0M1162.9 241.7v0M1170.0 244.8v0M1151.1 282.8v0M1166.8 238.3v0M1087.1 281.1v0M1165.3 282.4v0M1155.5 232.7v0M1134.0 234.9v0M1123.4 285.7v0M1077.7 216.0v0M1112.1 240.1v0M1093.7 276.7v0M1095.6 240.6v0M1084.4 226.3v0M1140.4 286.6v0M1140.8 233.5v0M1118.5 246.9v0M1183.3 270.6v0M1087.8 289.1v0M1081.1 210.1v0M1169.1 237.3v0M1125.4 286.6v0M1182.9 276.1v0M1104.8 282.8v0M1170.2 242.6v0M1138.3 243.4v0M1193.1 229.0v0M1186.1 270.3v0M1061.6 216.6v0M1204.9 293.4v0M1134.6 245.1v0M1060.0 265.6v0M1187.4 229.5v0M1195.7 234.8v0M1158.0 243.1v0M1149.7 309.0v0M1142.5 307.9v0M1197.0 238.8v0M1145.7 285.6v0M1186.0 274.5v0M1206.4 284.5v0M1165.2 228.9v0M1106.2 289.4v0M1164.5 224.0v0M1125.2 226.2v0M1103.0 237.7v0M1224.9 283.8v0M1259.2 271.7v0M1252.2 293.4v0M1253.2 288.1v0M1245.5 258.0v0M1246.2 254.0v0M1220.1 281.4v0M1221.1 291.1v0M1215.9 234.9v0M1250.2 258.4v0M1259.2 271.4v0M1243.1 254.0v0M1235.3 253.2v0M1212.3 225.1v0M1233.2 251.4v0M1240.9 291.8v0M1217.3 232.4v0M1238.7 315.1v0M1221.9 253.3v0M1212.8 283.4v0M1218.5 288.5v0M1223.9 287.4v0M1220.7 251.9v0M1248.5 257.9v0M1234.6 256.3v0M1227.8 258.3v0M1222.1 254.5v0M1223.6 251.6v0M1245.0 259.1v0M1232.3 255.9v0M1210.3 244.6v0M1257.3 204.2v0M1219.1 244.7v0M1226.6 291.1v0M1218.3 251.6v0M1252.4 260.8v0M1227.9 255.8v0M1243.1 292.7v0M1226.5 277.8v0M1245.2 287.9v0M1235.7 241.2v0M1248.4 305.2v0M1231.9 254.1v0M1210.0 281.7v0M1229.2 289.5v0M1223.9 283.5v0M1229.8 235.6v0M1225.8 277.6v0M1246.3 257.7v0M1219.9 252.5v0M1237.4 295.8v0M1259.7 197.2v0M1252.6 296.3v0M1243.9 288.5v0M1213.7 216.2v0M1216.1 287.4v0M1230.9 287.9v0M1211.1 298.3v0M1235.5 254.3v0M1243.3 290.8v0M1256.6 228.1v0M1248.8 264.3v0M1217.8 245.8v0M1210.2 279.8v0M1211.3 277.7v0M1253.8 254.2v0M1221.6 299.9v0M1259.6 197.9v0M1261.3 248.0v0M1245.2 287.7v0M1253.7 255.2v0M1225.2 251.5v0M1292.5 267.2v0M1389.8 302.0v0M1373.4 295.7v0M1425.0 266.5v0M1320.6 256.0v0M1319.0 259.5v0M1298.8 304.1v0M1383.4 269.0v0M1390.6 302.3v0M1320.8 292.4v0M1385.1 301.9v0M1443.3 315.2v0M1341.1 300.3v0M1381.9 268.9v0M1457.1 304.7v0M1440.3 261.0v0M1316.3 302.5v0M1340.1 264.5v0M1299.2 264.5v0M1358.4 312.6v0M1370.1 297.5v0M1357.4 271.1v0M1287.5 304.5v0M1312.7 265.8v0M1264.0 300.7v0M1297.9 257.1v0M1262.6 314.3v0M1315.4 266.4v0M1319.4 261.6v0M1315.5 267.2v0M1387.1 301.9v0M1423.4 308.1v0M1364.7 269.4v0M1437.6 314.9v0M1291.6 309.5v0M1317.2 299.2v0M1311.3 301.7v0M1298.2 260.5v0M1286.3 307.3v0M1298.7 261.0v0M1455.5 303.3v0M1335.7 268.0v0M1371.6 298.0v0M1290.9 308.9v0M1388.0 304.8v0M1377.8 296.9v0M1323.8 291.9v0M1397.4 305.1v0M1435.5 278.1v0M1448.3 341.1v0M1457.3 304.2v0M1428.9 308.7v0M1303.7 269.5v0M1299.3 299.4v0M1330.9 263.1v0M1456.3 303.3v0M1287.8 265.0v0M1265.0 260.7v0M1279.9 299.6v0M1267.3 262.9v0M1375.6 296.4v0M1322.3 291.3v0M1422.8 261.0v0M1315.6 300.6v0M1435.8 271.9v0M1278.3 298.9v0M1449.1 284.1v0M1389.3 304.0v0M1408.6 303.6v0M1335.1 312.4v0M1393.2 236.6v0M1332.1 299.1v0M1458.5 313.1v0M1264.5 259.6v0M1348.2 255.1v0M1386.9 303.2v0M1421.2 254.7v0M1376.4 297.6v0M1331.2 297.3v0M1271.4 297.5v0M1280.3 299.8v0M1450.6 286.2v0M1387.4 303.7v0M1426.8 307.4v0M1394.1 243.9v0M1379.3 299.0v0M1448.8 287.3v0M1302.6 269.2v0M1342.9 264.8v0M1437.9 275.8v0M1392.3 238.4v0M1459.6 307.5v0M1320.7 256.1v0M1442.2 258.6v0M1404.0 246.2v0M1434.1 334.7v0M1368.5 268.5v0M1440.1 312.1v0M1392.4 299.6v0M1324.5 229.1v0" fill="none" stroke="#1f77b4" stroke-width="5.4" stroke-linecap="round"/><path d="M115.0 283.2L116.6 290.4L118.2 298.5L119.8 304.2L120.0 306.2L121.4 299.9L123.0 295.6L124.6 289.1L125.0 288.2L126.2 293.2L127.0 297.7L127.8 283.0L129.4 253.9L129.5 252.6L131.0 268.5L132.6 286.6L133.0 291.6L134.2 287.6L135.8 282.4L136.2 282.3L137.4 278.4L139.0 274.1L139.2 273.8L140.6 279.6L142.0 286.1L142.2 285.9L143.8 285.5L144.5 283.8L145.4 287.0L147.0 292.8L147.0 293.5L148.6 292.2L150.2 291.9L151.8 293.3L152.5 291.3L153.4 287.0L155.0 279.1L155.0 279.9L156.6 277.2L158.2 275.4L158.8 276.6L159.8 279.1L161.4 284.0L162.5 287.7L163.0 289.6L164.6 296.0L166.2 302.1L166.2 303.1L167.8 306.9L169.4 309.9L170.0 311.0L171.0 301.3L172.6 284.6L173.8 272.0L174.2 273.1L175.8 277.0L177.0 278.7L177.4 279.9L179.0 285.3L180.5 290.0L180.6 290.7L182.2 300.8L183.8 313.4L183.8 312.7L185.4 317.0L186.2 320.5L187.0 315.2L188.6 304.3L190.0 295.5L190.2 297.6L191.8 308.8L193.4 321.3L194.5 329.8L195.0 324.3L196.6 311.8L198.2 299.8L198.8 294.1L199.8 291.8L201.4 287.9L201.8 286.8L203.0 292.8L204.2 297.8L204.6 299.1L206.2 294.5L207.8 290.9L208.0 290.2L209.4 295.6L211.0 303.1L211.2 304.4L212.6 311.0L214.2 315.6L214.2 316.1L215.8 307.4L216.2 305.3L217.4 311.8L218.0 315.1L219.0 307.4L220.6 295.4L221.2 292.6L222.2 295.0L223.8 299.5L224.2 299.9L225.4 311.2L225.8 315.2L227.0 309.5L228.6 303.8L228.8 303.2L230.2 311.1L230.5 313.5L231.8 307.4L233.4 300.8L233.8 298.9L235.0 287.0L236.2 274.8L236.6 257.5L237.5 211.8L238.2 198.4L238.8 187.4L239.8 175.8L240.2 170.3L241.4 175.8L242.0 178.8L243.0 195.0L243.8 208.5L244.6 222.6L245.0 228.0L246.2 221.7L246.8 217.9L247.8 229.4L248.2 235.6L249.4 240.5L250.0 243.8L251.0 250.4L252.0 257.7L252.6 258.5L254.2 266.2L254.5 266.9L255.8 274.7L257.4 285.1L257.5 286.3L259.0 294.8L260.0 300.2L260.6 295.1L262.2 280.3L262.5 278.2L263.8 308.2L264.2 317.6L265.4 307.0L266.8 295.8L267.0 296.9L268.6 306.1L268.8 308.1L270.2 292.9L271.2 283.1L271.8 276.5L273.4 258.1L273.8 254.7L275.0 251.2L276.2 244.6L276.6 229.1L277.5 190.6L278.2 160.8L278.6 144.0L279.8 178.2L280.5 196.1L281.4 176.7L283.0 139.5L283.0 139.3L284.6 110.0L285.4 96.2L286.2 122.7L287.0 149.1L287.8 174.6L288.8 205.8L289.4 219.2L289.7 224.4L291.0 201.0L291.5 189.8L292.6 160.5L293.1 147.9L294.2 179.9L294.5 188.8L295.8 217.5L296.2 226.8L297.4 228.3L298.8 229.8L299.0 230.2L300.6 228.3L301.2 228.1L302.2 231.2L303.8 237.7L303.8 238.2L305.0 254.4L305.4 259.6L307.0 280.7L307.0 280.6L308.6 278.3L309.5 276.3L310.2 291.0L311.8 327.3L312.5 342.6L313.4 315.0L314.2 287.4L315.0 292.8L316.6 304.2L317.0 307.6L318.2 303.0L319.5 297.6L319.8 299.1L321.4 308.9L322.5 315.0L323.0 312.1L324.6 301.9L325.0 300.1L326.2 325.0L327.0 342.1L327.8 329.2L329.4 303.6L330.0 293.0L331.0 294.2L332.6 296.7L333.0 298.0L334.2 308.4L335.8 321.8L336.2 324.9L337.4 331.8L339.0 340.9L339.2 342.4L340.6 353.9L341.2 359.9L342.2 349.4L343.8 334.4L343.8 334.7L345.4 318.0L346.2 310.3L347.0 305.3L348.6 297.3L350.0 290.2L350.2 289.5L351.8 290.2L353.4 292.4L353.8 290.9L355.0 291.9L356.6 293.1L357.0 293.8L358.2 285.2L359.8 274.4L360.0 272.9L361.4 275.8L362.5 278.6L363.0 273.8L364.6 260.1L365.0 257.1L366.2 271.1L367.5 285.1L367.8 283.4L369.4 272.8L371.0 261.6L371.2 261.1L372.6 251.6L374.2 242.0L375.0 237.3L375.8 239.3L377.4 241.0L377.5 240.9L379.0 235.2L380.5 229.3L380.6 229.0L382.2 233.2L383.8 238.1L383.8 238.2L385.4 243.5L387.0 247.9L387.5 250.1L388.6 247.3L390.2 241.9L391.2 240.6L391.8 241.2L393.4 244.1L395.0 248.7L395.0 247.6L396.6 253.5L398.2 260.3L398.8 262.8L399.8 266.1L401.2 270.0L401.4 270.4L403.0 279.3L403.8 283.3L404.6 288.7L406.2 299.7L406.2 299.7L407.8 279.9L408.8 267.1L409.4 272.9L411.0 287.7L411.2 289.8L412.6 295.1L414.2 299.4L415.0 302.6L415.8 306.7L417.4 314.6L418.8 322.9L419.0 324.1L420.6 332.8L422.0 342.8L422.2 342.7L423.8 339.6L423.8 341.1L425.4 346.3L425.8 346.9L427.0 328.3L428.0 312.3L428.6 313.7L430.2 318.2L431.2 322.6L431.8 319.4L433.4 312.1L433.8 310.2L435.0 299.7L436.6 286.9L437.5 280.9L438.2 274.6L439.8 259.7L440.0 257.3L441.4 251.7L443.0 246.1L443.0 247.1L444.6 248.3L446.2 249.8L446.2 249.4L447.8 256.3L448.8 259.6L449.4 264.3L451.0 275.4L452.5 285.5L452.6 284.8L454.2 279.9L455.5 276.4L455.8 279.1L457.4 288.9L458.8 296.8L459.0 301.3L460.6 319.8L461.2 329.3L462.2 318.9L463.2 310.0L463.8 314.4L465.4 328.1L466.2 334.7L467.0 344.0L468.6 364.6L468.8 367.4L470.2 362.8L471.8 357.8L472.0 358.6L473.4 332.7L474.5 313.1L475.0 318.0L476.2 332.7L476.6 329.6L478.2 316.8L478.8 312.9L479.8 312.8L481.4 312.8L482.5 312.7L483.0 314.6L484.6 326.6L485.5 334.1L486.2 330.4L487.8 323.2L488.8 320.4L489.4 320.4L491.0 323.8L491.2 325.9L492.6 313.2L494.2 301.5L494.5 298.0L495.8 286.4L497.4 272.1L497.5 267.8L499.0 258.9L500.6 246.0L501.2 242.0L502.2 243.3L503.8 246.3L503.8 244.5L505.4 232.6L506.2 223.2L507.0 227.4L508.6 235.6L508.8 237.2L510.2 233.8L511.8 230.5L512.5 229.7L513.4 219.6L515.0 206.3L515.5 200.8L516.6 197.0L518.2 192.0L518.8 189.4L519.8 197.5L520.8 205.8L521.4 205.6L523.0 209.2L523.0 211.6L524.6 235.6L525.0 240.3L526.2 248.9L527.5 257.7L527.8 260.4L529.4 266.6L530.5 272.6L531.0 274.5L532.6 280.3L533.0 279.7L534.2 278.9L535.8 276.3L536.2 275.6L537.4 276.5L539.0 278.5L539.5 279.6L540.6 283.0L542.0 289.4L542.2 288.8L543.8 283.2L544.5 280.7L545.4 288.6L547.0 307.9L547.0 306.5L548.6 326.2L550.0 340.3L550.2 339.4L551.8 333.8L553.0 329.9L553.4 327.9L555.0 324.8L556.2 321.4L556.6 320.0L558.2 314.2L559.8 308.8L561.2 301.8L561.4 303.0L563.0 307.7L563.8 307.9L564.6 312.5L566.2 315.4L566.2 315.5L567.8 307.3L568.8 302.6L569.4 306.1L570.8 313.0L571.0 310.8L572.6 305.5L573.8 300.4L574.2 298.2L575.8 293.7L577.0 290.8L577.4 284.0L579.0 258.7L579.5 250.1L580.6 233.4L581.8 216.0L582.2 220.1L583.8 238.4L583.8 242.4L585.4 262.5L586.2 273.6L587.0 277.9L588.6 291.9L588.8 293.6L590.2 291.4L590.5 289.6L591.8 296.6L593.0 299.9L593.4 300.4L595.0 305.1L595.5 306.5L596.6 301.6L598.2 295.2L598.8 290.3L599.8 291.6L601.4 285.8L602.0 285.7L603.0 275.6L603.8 270.2L604.6 274.5L606.2 281.9L606.2 284.1L607.8 278.7L609.4 271.1L610.0 267.9L611.0 270.6L612.0 271.7L612.6 269.6L614.2 261.5L615.5 256.6L615.8 255.5L617.4 254.0L618.8 253.9L619.0 251.6L620.6 258.4L621.2 260.3L622.2 260.3L623.8 259.4L624.2 259.0L625.4 263.7L627.0 267.6L627.5 270.3L628.6 278.1L630.2 290.3L630.5 292.8L631.8 281.8L633.0 272.7L633.4 274.9L635.0 285.8L636.2 292.4L636.6 291.6L638.2 288.3L638.8 284.4L639.8 288.8L640.5 292.3L641.4 287.8L643.0 285.2L643.8 283.2L644.6 278.7L646.2 271.2L647.5 264.5L647.8 265.7L649.4 267.9L650.0 270.4L651.0 267.0L652.6 264.7L653.0 262.6L654.2 257.6L655.5 255.1L655.8 255.2L657.4 263.3L658.8 267.2L659.0 265.0L660.6 265.0L662.0 264.8L662.2 263.7L663.8 260.1L664.2 260.6L665.4 268.4L667.0 280.2L667.0 279.7L668.6 270.4L670.0 261.7L670.2 263.3L671.8 267.3L673.0 270.0L673.4 268.4L675.0 258.8L675.0 260.6L676.6 254.7L678.2 249.7L678.8 247.4L679.8 248.4L681.4 250.8L682.0 252.0L683.0 252.7L684.6 256.2L686.2 257.9L686.2 259.2L687.8 246.9L689.4 233.3L690.0 231.2L691.0 220.1L692.5 207.6L692.6 205.7L694.2 197.3L694.2 199.4L695.8 204.1L696.2 205.4L697.4 209.0L698.8 209.7L699.0 211.8L700.6 218.6L702.2 221.2L702.5 222.9L703.8 225.7L705.4 228.5L706.2 229.9L707.0 231.9L708.6 231.1L710.2 232.3L711.2 232.6L711.8 232.7L713.4 238.6L715.0 242.6L715.0 243.1L716.6 246.9L718.2 251.5L718.8 249.4L719.8 255.9L721.4 264.0L722.5 269.1L723.0 270.8L724.6 271.5L725.8 272.6L726.2 268.3L727.8 259.6L728.8 254.9L729.4 248.7L731.0 234.1L731.2 232.4L732.6 229.5L733.8 226.4L734.2 224.2L735.8 204.3L736.2 200.6L737.4 200.1L739.0 199.9L739.5 198.2L740.6 198.2L742.2 200.3L742.5 200.3L743.8 201.6L745.4 206.1L746.2 210.7L747.0 210.5L748.6 209.8L748.8 210.4L750.2 215.8L751.8 226.8L752.5 228.4L753.4 230.7L754.2 231.5L755.0 222.2L756.2 212.7L756.6 211.7L758.2 211.3L759.2 209.9L759.8 212.8L761.4 217.4L762.5 222.1L763.0 222.9L764.6 223.5L765.5 224.5L766.2 228.8L767.8 237.5L768.8 239.8L769.4 243.7L771.0 249.0L771.2 250.8L772.6 244.8L774.2 237.1L775.0 231.5L775.8 232.1L777.4 229.6L778.0 230.0L779.0 235.4L780.6 244.3L781.2 247.1L782.2 248.4L783.8 248.4L785.0 249.2L785.4 249.5L787.0 255.4L788.6 260.7L788.8 262.4L790.2 266.9L791.8 270.3L792.5 273.7L793.4 273.8L795.0 273.8L796.2 272.4L796.6 270.6L798.2 260.4L799.8 252.1L800.0 248.5L801.4 239.0L803.0 223.7L803.8 221.7L804.6 227.7L806.2 237.5L806.2 239.5L807.8 249.3L809.4 260.1L809.5 262.1L811.0 265.4L812.5 271.0L812.6 269.8L814.2 275.1L815.8 282.0L816.2 284.1L817.4 280.3L819.0 274.2L820.0 268.5L820.6 268.4L822.2 266.9L823.8 264.2L823.8 265.4L825.4 254.8L826.2 249.9L827.0 251.9L828.6 257.1L828.8 256.0L830.2 258.8L831.2 255.7L831.8 259.0L833.4 267.9L834.2 274.9L835.0 274.1L836.2 276.6L836.6 275.0L838.2 263.2L839.8 251.0L840.0 251.2L841.4 249.8L843.0 249.9L843.8 250.0L844.6 252.5L846.2 259.0L846.2 257.5L847.8 257.5L849.4 261.0L850.0 259.3L851.0 258.6L852.6 257.7L853.8 255.8L854.2 254.8L855.8 254.7L857.4 252.9L857.5 254.3L859.0 250.8L860.6 248.3L861.2 248.2L862.2 250.2L863.8 257.3L863.8 259.4L865.4 258.3L867.0 255.6L867.5 254.3L868.6 256.9L870.2 257.3L871.2 258.5L871.8 256.4L873.4 260.2L875.0 261.5L875.0 261.4L876.6 262.0L878.2 261.1L878.8 259.5L879.8 255.5L881.2 251.3L881.4 250.8L883.0 251.6L883.8 253.0L884.6 267.5L885.8 286.2L886.2 282.0L887.8 265.0L888.0 263.1L889.4 263.5L891.0 266.3L891.2 266.9L892.6 264.2L894.2 264.6L895.0 262.9L895.8 261.8L897.4 254.3L897.5 255.4L899.0 262.5L900.6 264.2L901.2 265.7L902.2 265.5L903.8 263.1L905.0 259.4L905.4 258.2L907.0 261.3L908.6 262.7L908.8 262.7L910.2 260.9L911.8 259.2L912.5 258.6L913.4 260.6L915.0 263.5L916.2 264.8L916.6 262.6L918.2 262.3L919.8 257.6L920.0 261.0L921.4 258.5L923.0 258.9L923.8 259.4L924.6 260.8L926.2 259.1L927.5 258.1L927.8 257.7L929.4 256.1L931.0 257.1L931.2 255.6L932.6 253.4L933.8 254.6L934.2 253.4L935.8 248.7L936.2 248.5L937.4 254.9L938.8 260.9L939.0 258.7L940.6 259.2L942.2 254.0L942.5 256.3L943.8 252.1L945.0 247.4L945.4 244.8L947.0 232.2L947.0 233.6L948.6 241.4L949.5 244.1L950.2 248.3L951.8 255.2L952.0 254.0L953.4 252.7L955.0 250.6L955.0 248.5L956.6 250.0L957.5 250.3L958.2 251.5L959.8 258.9L960.0 260.9L961.4 262.1L963.0 262.0L963.8 264.7L964.6 263.8L966.2 263.0L967.5 264.0L967.8 262.2L969.4 256.2L970.0 254.7L971.0 260.9L972.5 271.2L972.6 269.5L974.2 261.4L975.0 261.5L975.8 262.8L977.4 266.5L978.0 267.5L979.0 265.9L980.6 263.6L981.2 261.6L982.2 264.5L983.8 266.0L985.0 266.6L985.4 267.9L987.0 267.8L988.6 268.7L988.8 269.3L990.2 269.5L991.8 263.6L992.5 264.1L993.4 265.0L995.0 265.8L996.2 267.7L996.6 265.5L998.2 264.0L999.8 262.7L1000.0 261.1L1001.4 266.4L1002.5 266.3L1003.0 265.5L1004.6 258.2L1005.0 254.2L1006.2 259.0L1007.5 263.5L1007.8 265.1L1009.4 262.1L1011.0 258.5L1011.2 261.1L1012.6 263.1L1014.2 262.6L1014.5 262.3L1015.8 264.3L1017.4 257.8L1017.5 255.4L1019.0 260.5L1020.6 263.0L1021.2 260.1L1022.2 264.7L1023.8 265.7L1025.0 266.2L1025.4 265.3L1027.0 265.3L1028.6 263.0L1028.8 263.9L1030.2 264.0L1031.8 264.3L1032.5 265.5L1033.4 263.3L1035.0 258.4L1035.0 257.9L1036.6 266.4L1037.5 267.5L1038.2 264.6L1039.8 255.1L1040.0 255.0L1041.4 257.8L1042.5 264.6L1043.0 264.7L1044.6 265.2L1046.2 267.2L1046.2 265.2L1047.8 252.5L1048.8 245.4L1049.4 236.2L1050.5 218.6L1051.0 228.2L1052.5 248.8L1052.6 250.6L1054.2 240.1L1054.5 238.5L1055.8 250.7L1057.0 259.8L1057.4 263.0L1058.8 271.5L1059.0 268.0L1060.6 250.8L1060.8 249.2L1062.2 232.3L1063.0 219.0L1063.8 224.3L1065.4 234.2L1066.2 240.0L1067.0 237.2L1068.6 235.5L1069.5 232.4L1070.2 228.5L1071.8 219.4L1072.5 217.7L1073.4 218.1L1074.5 215.1L1075.0 226.8L1076.2 260.6L1076.6 258.9L1078.2 260.4L1079.5 263.6L1079.8 263.0L1081.4 264.3L1082.5 264.0L1083.0 261.7L1084.6 255.8L1085.8 250.9L1086.2 254.5L1087.8 260.2L1088.8 264.4L1089.4 262.5L1091.0 257.0L1091.2 254.5L1092.6 255.9L1094.2 264.7L1095.0 262.8L1095.8 264.1L1097.4 265.9L1098.8 266.6L1099.0 267.0L1100.6 271.2L1101.2 275.5L1102.2 267.2L1103.0 262.3L1103.8 266.9L1105.4 272.9L1105.5 272.0L1107.0 269.7L1108.6 267.2L1108.8 267.0L1110.2 264.0L1111.8 264.3L1112.5 264.0L1113.4 267.5L1115.0 271.6L1115.0 271.4L1116.6 270.4L1118.2 270.6L1118.8 270.8L1119.8 268.8L1121.4 267.1L1122.5 268.0L1123.0 264.6L1124.5 259.2L1124.6 261.5L1126.2 273.3L1126.2 273.9L1127.8 269.9L1129.4 262.9L1129.5 263.3L1131.0 257.0L1132.5 249.2L1132.6 250.8L1134.2 254.7L1135.0 257.7L1135.8 259.7L1137.4 263.4L1138.0 263.7L1139.0 265.7L1140.6 266.0L1141.2 266.8L1142.2 264.9L1143.8 265.6L1145.0 264.8L1145.4 264.7L1147.0 265.4L1148.6 266.0L1148.8 264.9L1150.2 268.1L1151.8 270.9L1152.5 273.0L1153.4 271.1L1155.0 270.6L1156.2 268.1L1156.6 266.8L1158.2 261.9L1158.8 258.6L1159.8 261.4L1161.2 263.7L1161.4 261.0L1163.0 258.6L1163.8 255.6L1164.6 257.7L1165.5 259.6L1166.2 253.5L1167.5 240.5L1167.8 243.5L1169.4 255.6L1170.0 260.1L1171.0 263.8L1172.6 273.9L1173.0 274.4L1174.2 270.8L1175.8 264.8L1176.2 262.3L1177.4 258.7L1179.0 247.8L1179.5 245.4L1180.6 248.1L1182.0 252.8L1182.2 251.0L1183.8 250.4L1184.5 248.4L1185.4 245.6L1187.0 242.2L1187.5 240.9L1188.6 244.5L1190.0 250.2L1190.2 249.4L1191.8 251.5L1193.4 254.0L1193.8 254.4L1195.0 254.6L1196.6 258.5L1197.5 261.0L1198.2 259.5L1199.8 260.2L1201.2 260.4L1201.4 262.1L1203.0 265.0L1204.0 269.9L1204.6 271.4L1206.2 273.2L1206.5 274.7L1207.8 275.7L1209.0 275.7L1209.4 274.1L1211.0 269.4L1212.0 268.0L1212.6 267.6L1214.2 268.5L1215.2 267.9L1215.8 269.7L1217.4 268.8L1218.5 268.2L1219.0 268.1L1220.6 277.0L1221.5 278.3L1222.2 271.5L1223.8 262.2L1224.5 256.1L1225.4 258.9L1227.0 265.1L1227.8 269.2L1228.6 270.4L1230.2 272.7L1231.0 273.5L1231.8 272.4L1233.4 273.0L1234.0 272.2L1235.0 273.0L1236.6 274.8L1237.8 276.7L1238.2 273.9L1239.8 273.6L1241.0 270.5L1241.4 272.2L1243.0 272.7L1244.0 272.5L1244.6 270.2L1245.8 264.2L1246.2 267.5L1247.8 279.0L1248.5 283.3L1249.4 282.5L1251.0 275.3L1251.5 274.5L1252.6 275.6L1254.0 276.3L1254.2 275.3L1255.8 271.3L1256.5 269.9L1257.4 254.1L1259.0 222.4L1259.0 221.8L1260.6 284.8L1261.0 297.4L1262.2 292.5L1263.8 283.3L1264.0 282.7L1265.4 277.0L1266.5 274.9L1267.0 277.4L1268.6 288.2L1269.0 290.5L1270.2 284.9L1271.5 280.3L1271.8 281.6L1273.4 294.4L1274.0 298.9L1275.0 292.9L1276.5 282.2L1276.6 280.8L1278.2 275.6L1279.8 267.6L1280.2 265.9L1281.4 268.9L1282.8 273.5L1283.0 274.2L1284.6 286.0L1286.0 295.0L1286.2 293.4L1287.8 288.1L1288.5 285.3L1289.4 287.4L1291.0 291.6L1291.0 294.2L1292.6 290.2L1293.2 287.7L1294.2 280.0L1295.8 267.2L1296.0 265.3L1297.4 263.4L1298.5 262.9L1299.0 267.5L1300.6 278.2L1301.0 280.6L1302.2 292.5L1303.5 305.0L1303.8 303.3L1305.4 291.7L1306.5 282.8L1307.0 280.7L1308.6 272.7L1309.0 269.6L1310.2 281.5L1311.5 292.1L1311.8 291.1L1313.4 287.7L1314.0 284.0L1315.0 287.9L1316.5 293.0L1316.6 292.2L1318.2 283.8L1319.5 277.0L1319.8 276.6L1321.4 270.5L1322.8 265.0L1323.0 264.3L1324.6 263.5L1326.0 263.7L1326.2 264.1L1327.8 268.0L1329.0 269.8L1329.4 272.2L1331.0 277.6L1332.0 281.5L1332.6 283.6L1334.2 284.5L1334.5 284.5L1335.8 292.7L1337.0 299.3L1337.4 296.7L1339.0 283.8L1340.2 275.1L1340.6 277.2L1342.0 287.5L1342.2 286.1L1343.8 275.4L1344.0 272.8L1345.4 287.0L1346.0 292.3L1347.0 288.5L1348.6 283.7L1349.0 282.8L1350.2 272.0L1351.5 261.2L1351.8 260.1L1353.4 262.0L1354.0 263.6L1355.0 271.2L1356.5 284.5L1356.6 285.6L1358.2 300.0L1359.0 307.5L1359.8 304.3L1361.4 297.1L1362.0 294.3L1363.0 290.0L1364.5 281.8L1364.6 282.7L1366.2 293.3L1366.5 294.9L1367.8 291.2L1369.4 286.9L1369.5 286.9L1371.0 276.3L1372.6 266.4L1372.8 265.4L1374.2 271.7L1375.2 276.4L1375.8 276.3L1377.4 277.8L1379.0 278.8L1379.0 278.8L1380.6 284.9L1381.5 288.1L1382.2 291.0L1383.8 295.9L1384.0 295.6L1385.4 285.6L1386.5 277.5L1387.0 280.3L1388.6 287.0L1389.0 289.2L1390.2 278.8L1391.8 265.0L1392.8 256.9L1393.4 264.0L1395.0 277.6L1396.0 288.7L1396.6 290.7L1398.2 298.9L1399.0 302.5L1399.8 297.7L1401.4 286.7L1402.8 278.0L1403.0 276.3L1404.6 266.8L1405.2 262.7L1406.2 269.8L1407.8 280.0L1407.8 279.8L1409.4 283.5L1411.0 284.7L1411.0 285.2L1412.6 292.2L1414.0 295.9L1414.2 295.2L1415.8 288.0L1416.0 287.0L1417.4 301.9L1418.5 312.4L1419.0 307.6L1420.6 290.5L1421.0 287.8L1422.2 279.3L1423.5 270.1L1423.8 271.7L1425.4 275.9L1426.5 280.9L1427.0 278.8L1428.6 279.1L1429.0 278.2L1430.2 287.3L1431.5 296.8L1431.8 301.4L1433.4 316.8L1434.0 323.4L1435.0 320.4L1436.5 314.8L1436.6 314.0L1438.2 290.5L1439.5 271.6L1439.8 272.2L1441.4 269.4L1442.0 267.8L1443.0 276.0L1444.5 290.7L1444.6 292.1L1446.2 317.0L1447.0 330.3L1447.8 334.0L1449.0 340.1L1449.4 332.4L1451.0 300.5L1451.5 290.1L1452.6 285.5L1454.2 277.3L1454.5 277.0L1455.8 284.8L1457.4 292.7L1457.8 295.2L1459.0 298.6L1460.2 302.5L1460.6 302.4L1462.2 302.2L1462.5 301.5" fill="none" stroke="#ff7f0e" stroke-width="2.6" stroke-linejoin="round"/>
</g>
<path class="k" d="M115.50 518.50v5.3M284.50 518.50v5.3M452.50 518.50v5.3M620.50 518.50v5.3M789.50 518.50v5.3M957.50 518.50v5.3M1125.50 518.50v5.3M1294.50 518.50v5.3M115.50 81.50h-5.3M115.50 174.50h-5.3M115.50 268.50h-5.3M115.50 361.50h-5.3M115.50 455.50h-5.3"/>
<rect class="k" x="115.50" y="38.50" width="1347.00" height="480.00"/>
<text class="t" text-anchor="end" x="105.40" y="89.60">2</text>
<text class="t" text-anchor="end" x="105.40" y="182.60">1</text>
<text class="t" text-anchor="end" x="105.40" y="276.60">0</text>
<text class="t" text-anchor="end" x="105.40" y="369.60">−1</text>
<text class="t" text-anchor="end" x="105.40" y="463.60">−2</text>
<rect x="1047.40" y="48.50" width="406.60" height="79.60" rx="3.7" fill="#fff" fill-opacity="0.8" stroke="#ccc" stroke-opacity="0.8" stroke-width="1.39"/>
<circle cx="1073.50" cy="63.50" r="3.0" fill="#1f77b4"/>
<path d="M1053.00 101.80h39" stroke="#ff7f0e" stroke-width="2.3" fill="none"/>
<text class="l" x="1105.6" y="68.80">Raw Data</text>
<text class="l" x="1105.6" y="95.80">Butterworth Filtered Data</text>
<text class="l" x="1105.6" y="117.50">(N=6, Tc=3.3333 min, Type: low)</text>
</g>
<g id="panel1">
<path class="g" d="M284.50 1054.50V575.50M452.50 1054.50V575.50M620.50 1054.50V575.50M789.50 1054.50V575.50M957.50 1054.50V575.50M1125.50 1054.50V575.50M1294.50 1054.50V575.50M115.50 578.50H1462.50M115.50 635.50H1462.50M115.50 692.50H1462.50M115.50 749.50H1462.50M115.50 805.50H1462.50M115.50 862.50H1462.50M115.50 919.50H1462.50M115.50 976.50H1462.50M115.50 1033.50H1462.50"/>
<rect x="149.00" y="575.50" width="515.00" height="479.00" fill="#d3d3d3" fill-opacity="0.5"/>
<path d="M149.5 575.50V1054.50M663.5 575.50V1054.50" stroke="#d3d3d3" stroke-opacity="0.5" stroke-width="1" fill="none"/>
<g clip-path="url(#c1)">
<path d="M117.3 966.9V1008.3M118.1 975.3V1010.9M119.1 975.3V1012.1M120.4 975.9V1015.7M121.4 974.7V1018.0M122.2 971.2V1018.8M123.4 942.2V1022.5M124.0 938.2V1024.0M125.4 969.4V1025.2M126.2 980.2V1026.4M126.9 984.6V1026.4M128.2 994.5V1026.3M129.0 1008.4V1028.4M130.0 1009.5V1028.8M131.0 1009.6V1027.5M131.9 1009.5V1027.8M133.5 1005.5V1027.6M134.5 1003.3V1028.0M134.9 1004.5V1026.6M136.0 1000.6V1027.3M137.5 987.8V1028.6M138.4 986.3V1027.4M139.2 991.3V1028.5M140.0 1003.2V1029.4M141.1 1005.4V1030.3M142.5 1011.2V1030.0M143.2 1010.8V1030.2M144.4 1011.8V1030.8M145.3 1010.8V1030.1M146.1 1007.9V1030.0M147.2 997.3V1029.6M148.0 994.7V1028.2M149.0 974.4V1029.4M150.4 956.1V1029.5M151.1 964.8V1029.2M152.0 977.4V1028.0M153.2 985.7V1028.3M154.4 999.2V1027.1M155.5 1005.6V1026.7M156.2 1006.2V1028.3M157.4 1007.1V1025.4M158.0 1006.7V1028.3M159.3 1007.0V1029.0M160.2 982.9V1024.0M161.3 984.2V1028.6M162.4 981.8V1028.2M163.4 994.2V1028.1M164.1 998.1V1028.3M164.9 998.6V1027.4M166.4 999.0V1028.7M167.3 998.2V1027.4M168.2 996.4V1028.5M169.1 979.9V1027.4M170.3 961.2V1026.7M171.4 948.5V1027.5M172.1 955.7V1025.2M173.0 999.6V1027.5M174.3 1002.3V1028.7M175.0 1004.1V1029.3M176.4 1003.9V1028.5M177.1 1003.2V1029.4M178.4 1004.2V1029.3M179.4 1004.3V1028.0M180.5 1003.9V1029.9M181.2 1003.4V1026.7M182.3 978.5V1029.2M183.3 961.4V1027.8M184.0 944.6V1027.4M185.0 929.1V1027.1M186.4 925.3V1026.9M187.5 943.8V1029.0M188.0 951.9V1028.0M189.0 992.8V1028.9M190.3 992.3V1027.5M191.4 993.3V1028.9M192.3 991.6V1027.4M193.5 988.4V1025.7M193.9 988.9V1025.5M195.0 970.4V1024.6M196.5 920.6V1026.0M197.2 940.4V1025.3M198.2 958.1V1026.8M199.4 964.0V1026.5M199.9 976.5V1027.9M201.1 990.3V1026.6M202.3 990.3V1026.8M203.1 992.1V1028.9M204.3 993.7V1027.6M205.2 993.1V1029.2M206.4 996.0V1029.3M207.1 997.7V1028.8M208.5 998.8V1028.5M209.2 998.6V1027.7M210.0 998.2V1027.2M211.0 998.5V1026.6M212.3 985.7V1026.1M213.3 976.6V1024.9M214.0 971.6V1025.0M215.2 969.4V1026.0M216.1 982.3V1025.4M217.2 982.0V1025.1M218.3 982.5V1026.4M219.4 981.5V1027.3M220.3 979.6V1025.2M221.1 978.1V1026.4M222.1 995.5V1027.7M223.2 1006.3V1028.4M224.1 1009.7V1029.4M225.1 1010.1V1029.5M226.2 1012.5V1028.3M227.3 1011.3V1030.0M228.4 1010.2V1026.5M229.3 1008.8V1028.4M230.4 1008.8V1028.7M231.0 1008.9V1027.3M232.4 984.6V1027.5M233.0 968.6V1024.2M233.9 955.3V1025.8M235.1 950.0V1025.4M236.0 946.8V1024.8M237.4 945.3V1025.7M238.3 948.7V1022.5M239.1 975.2V1022.1M239.9 975.9V1023.6M241.4 976.7V1022.3M242.3 978.3V1020.9M243.0 941.2V1020.2M244.0 913.1V1019.3M244.9 905.6V1019.8M246.4 910.6V1022.7M247.1 960.4V1023.5M248.2 960.7V1021.9M249.0 960.4V1023.5M250.3 959.4V1023.1M251.3 954.6V1022.3M252.0 957.9V1023.9M252.9 959.2V1023.8M254.1 960.2V1023.0M255.1 959.7V1023.6M256.1 962.2V1023.2M257.4 962.4V1023.7M258.4 962.6V1024.4M259.3 961.4V1021.7M260.0 945.1V1024.1M260.9 945.0V1023.6M262.3 984.7V1023.4M263.1 990.9V1024.1M264.4 992.5V1025.5M265.3 991.2V1023.6M266.0 991.0V1025.0M267.4 990.0V1025.5M268.1 974.7V1023.8M269.0 949.5V1023.2M270.4 929.5V1022.2M271.0 907.8V1022.3M272.2 916.2V1023.3M273.1 936.4V1023.4M274.1 971.3V1021.9M275.5 980.7V1022.3M276.2 982.4V1020.0M277.4 984.5V1019.8M278.2 989.0V1020.3M279.5 990.9V1018.4M279.9 990.5V1017.4M281.1 993.9V1019.9M282.2 997.2V1019.6M283.3 1000.0V1020.4M283.9 1004.8V1021.3M284.9 1005.1V1021.0M286.1 1005.2V1021.6M287.1 1005.8V1022.7M288.1 1009.7V1021.3M289.1 1010.7V1023.1M290.1 1011.1V1021.7M291.2 1012.2V1023.2M292.4 1007.0V1024.9M292.9 1007.0V1023.8M294.2 1009.4V1024.6M295.3 1009.5V1025.6M296.4 1010.0V1026.3M297.0 1008.4V1023.3M298.2 1007.7V1023.2M299.4 1004.9V1023.7M299.9 995.7V1023.4M301.4 975.8V1020.5M302.1 961.2V1021.7M303.2 951.0V1021.3M304.3 930.3V1020.8M305.4 914.5V1018.7M305.9 908.2V1018.4M307.3 901.1V1015.0M308.2 929.3V1018.1M309.3 989.4V1016.9M310.1 1004.1V1022.7M311.1 1017.6V1025.2M312.3 1018.1V1024.5M313.3 1019.6V1024.9M314.0 1019.6V1028.0M315.4 1018.5V1029.9M316.1 1017.4V1029.5M317.4 1017.9V1028.8M318.4 1019.4V1029.0M319.2 1022.6V1030.3M320.4 1023.6V1028.9M321.0 1023.1V1029.9M322.0 1022.0V1030.8M323.3 1021.7V1030.1M323.9 1019.6V1028.0M324.9 1017.5V1030.1M326.3 1012.5V1029.5M327.1 1010.3V1029.9M328.5 1007.5V1026.1M329.5 1003.2V1029.7M330.4 1003.4V1028.8M331.1 1005.0V1026.8M332.0 1003.3V1029.2M333.5 1001.5V1029.0M334.5 988.1V1028.0M335.4 990.6V1029.3M336.2 986.6V1028.4M337.1 986.0V1026.8M338.3 1002.0V1027.2M339.2 1003.1V1027.4M340.3 1004.8V1027.2M341.3 1004.3V1026.9M342.4 1004.8V1027.3M343.5 1006.1V1026.9M344.1 1008.6V1026.3M344.9 1006.8V1023.7M346.0 997.5V1026.4M347.2 996.2V1025.9M348.0 995.8V1026.4M349.3 992.2V1025.3M350.4 990.2V1023.5M351.0 991.0V1025.4M352.1 974.0V1024.3M353.5 968.5V1021.3M354.3 960.8V1020.3M355.3 953.8V1019.9M356.2 940.1V1018.9M357.5 917.0V1019.1M358.1 913.4V1018.7M359.2 908.9V1017.5M360.2 902.1V1014.4M361.1 895.6V1013.6M362.0 893.8V1012.0M363.2 931.3V1009.1M364.5 934.1V1010.5M365.3 932.1V1009.7M366.1 932.4V1008.8M367.2 885.2V1008.3M368.2 878.1V1007.2M369.2 866.4V1008.3M370.3 850.3V1007.6M371.0 877.9V1009.8M372.4 931.6V1009.1M373.4 942.4V1010.4M374.3 959.1V1011.8M375.1 967.0V1013.3M376.0 975.4V1016.1M376.9 978.4V1018.3M378.3 975.9V1022.0M379.4 975.4V1020.5M380.0 973.9V1021.4M381.3 972.6V1020.2M382.2 971.0V1018.9M383.3 951.0V1018.3M384.0 942.8V1019.4M385.0 934.0V1019.3M385.9 929.6V1018.1M387.0 923.7V1020.5M388.0 924.9V1022.6M389.2 928.8V1020.6M390.5 965.1V1021.7M391.0 965.7V1023.1M392.4 967.1V1022.3M393.2 968.3V1023.2M394.1 966.4V1022.6M395.2 963.4V1021.9M396.4 943.2V1019.3M397.1 941.6V1020.8M398.5 964.0V1020.7M399.2 965.4V1020.1M400.3 964.3V1019.9M401.2 963.6V1018.4M402.1 923.0V1017.7M402.9 921.0V1016.5M404.4 913.0V1015.4M404.9 909.9V1014.0M406.5 899.5V1013.0M406.9 899.2V1012.1M407.9 898.3V1013.3M409.0 897.3V1015.5M410.1 904.9V1013.7M411.2 953.6V1015.9M411.9 955.5V1016.9M413.1 956.2V1015.4M414.1 955.6V1016.2M415.4 954.6V1015.4M416.0 958.0V1016.1M417.1 953.1V1016.1M418.0 943.1V1014.6M419.1 901.9V1013.2M420.1 893.5V1013.8M421.2 886.8V1014.9M422.3 878.0V1015.7M423.2 879.3V1016.1M424.3 894.0V1016.4M425.3 947.6V1020.2M426.4 962.4V1022.0M427.1 972.0V1020.0M428.0 983.6V1022.4M429.1 982.6V1019.6M430.0 985.4V1024.2M431.0 995.3V1026.0M432.0 994.6V1026.6M433.0 998.2V1027.5M434.2 993.9V1028.4M435.2 993.8V1026.0M436.4 992.5V1026.8M437.3 970.2V1027.8M438.2 970.3V1028.1M438.9 975.4V1027.9M440.3 974.8V1026.7M441.3 997.2V1025.1M442.3 998.1V1027.5M443.4 998.7V1027.2M443.9 998.7V1026.5M445.4 1002.2V1026.8M446.2 1003.1V1026.0M447.0 1004.7V1028.0M447.9 1005.3V1027.9M449.1 1004.6V1028.5M449.9 1004.6V1025.9M451.1 989.7V1027.4M451.9 989.6V1027.4M453.1 999.4V1027.0M454.2 1004.1V1026.5M455.1 1000.3V1025.7M455.9 999.2V1025.0M457.3 995.9V1023.0M458.4 972.3V1021.0M459.0 962.0V1019.8M460.1 951.8V1017.8M461.2 942.7V1014.0M462.4 922.0V1015.0M463.4 903.3V1014.0M464.0 903.1V1012.0M465.4 905.9V1010.9M466.2 908.2V1009.3M467.0 912.7V1009.1M468.5 957.4V1009.1M469.4 957.5V1009.5M470.3 958.0V1007.5M471.0 958.0V1007.1M472.0 957.2V1009.7M473.5 929.6V1009.4M474.5 925.4V1010.6M475.5 918.0V1013.4M476.2 916.1V1013.0M477.1 912.3V1013.8M478.4 914.1V1016.4M479.2 920.3V1016.0M480.2 952.2V1019.2M481.0 952.0V1018.8M482.3 953.3V1019.1M483.3 951.8V1019.2M484.4 952.7V1018.9M485.1 954.1V1017.7M486.1 954.9V1018.8M487.2 955.0V1016.7M488.5 952.1V1014.8M489.3 883.2V1014.8M490.0 877.5V1015.0M491.0 868.7V1010.6M492.1 866.0V1013.6M493.1 866.9V1012.7M494.3 907.6V1013.9M495.2 909.4V1014.7M496.5 909.9V1016.0M497.0 909.0V1017.6M498.2 909.4V1018.2M499.2 866.1V1011.2M500.3 910.7V1005.6M501.3 910.7V994.6M502.0 912.0V988.2M503.1 909.9V988.1M504.1 855.3V987.9M505.4 844.8V987.1M506.2 896.3V986.0M507.5 893.6V996.0M508.3 896.3V996.7M509.4 892.6V995.0M510.2 837.0V988.3M511.5 821.7V987.9M512.3 817.6V988.0M513.3 887.2V987.7M514.2 888.3V989.5M515.1 888.2V1001.8M516.4 889.4V1007.4M517.5 891.1V1006.3M518.3 903.7V1007.2M519.1 923.8V1008.8M520.0 937.0V1009.9M521.2 952.4V1009.9M521.9 955.1V1011.6M523.0 966.1V1019.1M524.4 966.1V1023.9M525.3 964.7V1025.2M525.9 964.3V1024.8M527.1 961.7V1023.0M528.4 958.7V1018.7M529.5 911.0V1014.9M530.0 903.2V1013.9M531.4 872.7V1010.0M532.4 838.6V1009.1M533.0 775.8V1005.5M534.0 742.9V1004.3M535.3 743.8V1008.3M536.0 742.1V1011.4M537.3 795.4V1011.9M538.3 891.5V1010.1M538.9 896.0V1009.5M539.9 914.5V1010.6M540.9 930.7V1012.4M542.4 933.7V1013.5M543.0 931.6V1014.9M544.1 930.6V1012.2M545.3 895.5V1017.2M546.5 994.2V1021.0M547.3 994.8V1026.9M548.2 1023.3V1030.0M549.4 1025.0V1031.7M550.4 1025.4V1030.9M551.0 1024.3V1031.8M552.3 1023.8V1031.7M552.9 1024.0V1031.1M553.9 1023.4V1031.3M555.3 1021.4V1032.0M556.0 1019.2V1029.9M557.4 1020.2V1030.6M558.1 1018.9V1031.8M559.4 1019.4V1031.5M560.2 1018.7V1031.8M561.3 1022.2V1027.2M562.2 1020.5V1030.6M563.0 1021.6V1031.5M564.2 1021.8V1029.6M565.2 1022.8V1030.4M566.1 1022.8V1031.7M567.4 1022.9V1031.9M568.4 1023.6V1030.4M569.1 1022.9V1031.0M570.0 1024.3V1031.2M571.3 1023.6V1031.3M572.4 1024.6V1032.2M573.0 1023.8V1032.1M574.3 1023.1V1031.8M575.2 1022.8V1030.1M576.1 1022.6V1028.0M577.4 1021.0V1032.4M578.2 1018.9V1028.5M579.2 1014.5V1031.9M580.4 1008.5V1031.3M581.0 1009.7V1030.6M582.5 1020.2V1029.6M583.0 1019.2V1031.2M584.2 1020.8V1031.6M585.1 1025.4V1032.2M586.1 1023.5V1031.4M587.0 1027.2V1032.3M588.5 1029.1V1031.8M589.3 1025.7V1032.4M590.0 1026.2V1032.3M591.3 1026.6V1030.9M592.0 1025.7V1030.6M592.9 1026.4V1032.4M594.3 1024.2V1031.8M595.2 1024.5V1031.6M596.1 1023.1V1031.3M597.5 1022.9V1031.6M598.1 1023.2V1031.1M599.0 1023.8V1032.4M600.3 1022.8V1031.6M601.2 1024.9V1032.4M602.3 1024.2V1032.0M603.1 1024.7V1032.3M604.0 1026.2V1032.4M605.4 1027.8V1032.3M606.4 1027.2V1030.4M606.9 1026.8V1032.2M608.1 1026.7V1032.3M609.1 1027.0V1032.5M610.2 1027.1V1031.3M611.1 1028.8V1032.0M612.2 1026.9V1032.4M613.0 1026.5V1032.0M614.1 1026.7V1027.5M615.0 1026.7V1031.1M616.4 1026.4V1031.2M617.1 1028.7V1031.5M618.4 1027.7V1030.5M619.3 1027.1V1032.2M620.3 1026.2V1032.5M621.0 1027.6V1030.5M622.3 1030.3V1031.9M622.9 1026.9V1030.2M624.3 1027.1V1030.9M624.9 1028.2V1031.9M626.1 1030.1V1031.6M627.1 1026.7V1032.4M628.1 1027.3V1032.4M629.0 1027.7V1032.0M630.2 1026.8V1031.2M631.5 1026.9V1032.0M632.3 1027.3V1032.2M633.0 1027.2V1032.1M634.3 1027.6V1032.4M635.3 1027.3V1032.3M636.2 1027.0V1030.1M637.4 1027.8V1031.8M638.0 1027.6V1032.4M639.4 1026.4V1031.2M640.0 1026.2V1032.1M641.5 1025.1V1030.1M642.1 1027.2V1032.4M643.0 1025.0V1031.8M644.4 1025.6V1031.2M645.3 1025.4V1031.0M646.3 1025.3V1032.1M647.2 1025.8V1032.4M648.2 1026.1V1031.0M649.3 1026.7V1032.2M650.2 1026.4V1031.7M651.4 1028.0V1031.7M652.4 1026.5V1031.8M653.0 1027.0V1031.6M654.0 1028.4V1032.2M655.2 1028.2V1032.3M656.5 1028.4V1032.7M657.0 1029.0V1032.0M658.0 1028.7V1031.7M659.0 1029.2V1030.3M659.9 1028.4V1032.9M661.1 1029.4V1032.2M662.1 1029.0V1030.9M663.1 1029.6V1033.4M664.3 1029.3V1033.4M665.3 1030.5V1032.9M666.2 1030.3V1032.8M667.4 1029.7V1033.4M668.3 1029.1V1032.1M669.0 1030.9V1032.9M670.1 1028.4V1032.2M671.0 1028.6V1032.7M672.3 1029.3V1032.9M673.5 1029.1V1032.6M674.4 1028.6V1032.3M675.1 1027.9V1032.7M676.1 1027.9V1032.6M677.0 1026.3V1032.0M678.1 1026.4V1032.9M679.2 1026.7V1031.8M680.4 1024.5V1032.1M681.1 1024.7V1032.1M682.1 1023.8V1030.6M683.4 1022.3V1032.4M684.2 1023.0V1032.4M685.4 1020.1V1028.4M686.1 1019.1V1031.0M687.2 1017.1V1031.8M688.2 1017.9V1032.1M689.0 1020.5V1032.2M690.2 1020.9V1031.4M691.5 1022.8V1031.2M692.0 1022.7V1032.4M693.0 1023.9V1029.2M694.1 1023.8V1029.9M695.3 1023.2V1029.3M696.0 1023.3V1030.7M697.2 1024.5V1031.7M697.9 1024.0V1030.5M699.3 1024.2V1032.5M700.3 1024.4V1030.3M701.1 1024.6V1032.3M702.1 1024.8V1032.3M703.4 1024.5V1030.8M704.4 1023.3V1032.3M705.3 1022.0V1028.7M706.4 1020.6V1032.2M707.5 1020.9V1030.2M708.0 1018.6V1031.9M709.4 1017.3V1032.0M709.9 1015.1V1032.4M710.9 1016.2V1032.3M712.0 1019.6V1031.1M713.0 1024.6V1030.6M713.9 1030.0V1031.5M715.3 1027.2V1031.4M716.1 1028.6V1032.0M717.1 1029.5V1032.4M718.3 1027.6V1032.2M718.9 1030.8V1032.3M720.5 1027.8V1032.9M721.1 1029.0V1032.7M722.0 1029.7V1031.0M723.2 1030.8v0M724.1 1030.7V1031.9M725.3 1030.0V1032.8M726.0 1028.7V1032.8M727.2 1028.5V1032.1M728.2 1028.9V1032.4M729.1 1026.8V1031.4M730.4 1029.1V1032.2M731.1 1026.6V1033.0M732.1 1029.3V1031.9M733.1 1026.2V1033.0M734.5 1024.8V1031.7M735.3 1025.3V1031.3M736.0 1026.4V1031.4M737.5 1024.9V1032.4M738.3 1025.2V1033.0M739.1 1027.7V1032.6M740.4 1025.9V1032.9M741.0 1026.7V1033.0M742.5 1027.1V1032.5M743.3 1026.6V1032.3M744.1 1027.0V1032.8M745.3 1027.0V1032.0M746.3 1028.2V1032.8M747.5 1026.8V1032.6M748.3 1028.1V1032.9M749.3 1027.0V1032.9M750.1 1027.2V1031.9M751.4 1027.3V1032.6M752.1 1027.8V1032.7M753.1 1028.1V1032.1M754.0 1026.4V1032.2M755.3 1025.4V1031.5M756.2 1024.4V1031.3M757.0 1023.6V1032.9M758.4 1024.0V1032.0M759.0 1024.6V1033.0M760.0 1025.1V1032.8M761.3 1026.2V1032.9M762.2 1025.6V1029.9M763.1 1026.2V1031.4M764.4 1027.1V1031.2M764.9 1028.2V1032.9M766.1 1028.3V1032.6M767.3 1029.2V1031.9M768.5 1026.8V1032.0M769.5 1027.6V1032.4M770.5 1025.8V1032.8M771.1 1025.3V1030.1M772.2 1024.7V1031.9M772.9 1024.3V1032.5M774.2 1024.3V1032.8M775.3 1027.5V1032.5M776.1 1028.3V1032.4M777.0 1028.2V1032.6M778.1 1026.3V1032.2M779.2 1026.9V1032.9M780.3 1030.3V1032.7M781.0 1029.1V1031.9M782.3 1030.1V1031.9M783.3 1028.0V1030.7M784.1 1028.8V1031.9M785.1 1029.2V1032.1M786.2 1028.4V1032.7M787.0 1029.3V1032.5M788.4 1029.2V1030.6M789.1 1029.2V1032.4M790.2 1028.2V1032.6M791.4 1030.8v0M792.1 1029.7V1032.8M793.2 1028.7V1033.3M794.4 1030.8V1033.4M795.5 1029.3V1032.6M796.4 1031.4V1032.0M797.3 1030.8V1032.0M798.4 1029.4V1033.0M799.0 1027.6V1033.4M800.3 1027.2V1032.4M800.9 1027.8V1032.3M802.1 1027.4V1032.2M803.1 1026.7V1032.9M804.1 1029.2V1031.7M805.2 1025.8V1030.7M806.0 1025.8V1032.1M806.9 1026.6V1030.5M808.2 1029.7V1032.7M809.0 1029.1V1029.1M810.3 1028.8V1032.3M811.2 1029.6V1033.0M812.0 1030.5V1032.4M813.3 1028.9V1031.8M814.1 1030.2V1031.8M814.9 1028.9V1029.4M816.4 1028.4V1031.5M817.4 1030.6V1031.8M818.4 1028.3V1030.7M819.0 1027.8V1031.9M820.4 1027.5V1028.5M821.2 1028.7V1031.9M822.5 1020.7V1031.9M823.2 1018.4V1030.0M824.1 1016.8V1031.3M825.2 1014.8V1030.0M826.5 1017.1V1032.3M827.1 1015.7V1030.6M828.0 1015.7V1031.2M829.4 1015.8V1031.8M830.0 1014.6V1032.2M831.4 1016.7V1030.9M832.0 1018.2V1032.1M833.3 1017.7V1031.8M834.3 1018.6V1032.1M835.4 1018.0V1030.9M836.4 1016.8V1032.1M837.3 1015.7V1031.9M838.2 1015.8V1031.6M839.3 1015.5V1031.8M840.2 1012.7V1032.0M841.2 1011.2V1032.4M842.4 1010.1V1027.3M843.4 1009.5V1031.8M844.0 1008.1V1032.0M845.0 1008.3V1031.3M845.9 1008.3V1031.7M847.2 1004.6V1031.9M848.3 1007.4V1031.9M849.4 1012.3V1030.8M850.1 1011.0V1031.0M851.1 1012.7V1031.4M852.3 1011.8V1029.3M853.3 1012.6V1029.9M854.0 1009.4V1031.6M855.0 995.4V1031.9M856.3 987.7V1031.3M857.2 984.9V1031.1M857.9 985.5V1031.2M859.3 984.5V1031.6M860.2 992.8V1031.2M861.1 1002.5V1031.1M862.2 1007.7V1030.3M863.1 1009.0V1031.3M864.0 1009.8V1031.4M865.5 1013.0V1030.3M866.4 1011.8V1030.4M867.4 1012.4V1030.6M868.1 1010.9V1031.7M869.2 1010.3V1031.7M870.3 1015.2V1031.2M871.3 1016.2V1029.3M872.0 1017.6V1031.8M873.2 1018.4V1030.6M874.4 1020.2V1031.4M875.0 1021.5V1029.3M876.1 1022.5V1030.0M877.0 1020.8V1030.5M877.9 1021.4V1031.6M879.3 1016.7V1031.6M880.2 1013.5V1031.8M881.5 1012.2V1030.8M882.5 1014.1V1031.8M883.1 1017.4V1031.7M884.5 1024.9V1031.8M885.3 1023.4V1031.9M886.4 1025.2V1028.2M887.0 1026.8V1031.5M888.4 1029.0v0M889.2 1027.0V1031.8M890.5 1026.8V1030.9M891.4 1026.4V1030.3M892.2 1027.7V1031.0M893.4 1026.8V1028.8M894.4 1026.5V1031.4M895.3 1026.3V1028.5M896.3 1027.4V1031.6M897.4 1026.2V1030.0M898.4 1026.2V1030.5M899.4 1026.7V1031.2M900.2 1026.4V1031.8M901.5 1026.3V1031.7M902.5 1026.7V1031.7M903.4 1025.5V1030.0M904.5 1024.4V1031.0M905.1 1024.2V1031.5M906.2 1023.7V1031.5M907.3 1024.8V1031.2M908.3 1023.5V1030.7M909.4 1021.4V1031.2M910.2 1021.1V1031.7M911.4 1021.3V1031.3M912.3 1025.5V1026.9M913.4 1023.2V1031.3M914.3 1023.7V1031.4M915.2 1023.2V1031.8M916.5 1024.6V1031.6M917.0 1018.5V1030.9M918.2 1013.5V1031.5M919.0 1010.6V1028.7M920.4 1016.2V1030.8M921.5 1018.6V1029.7M922.1 1021.5V1031.8M923.5 1018.6V1031.5M924.4 1018.7V1030.3M925.0 1019.6V1031.9M926.0 1020.6V1031.6M927.1 1020.5V1030.1M928.3 1019.8V1031.2M929.1 1019.0V1030.7M930.0 1018.2V1030.5M931.4 1014.5V1031.4M932.5 1009.5V1030.0M933.3 1013.3V1030.2M934.1 1016.2V1031.4M935.1 1017.5V1029.9M936.0 1017.8V1031.1M937.3 1017.8V1031.9M938.0 1016.1V1031.7M939.4 1015.3V1031.0M940.1 1014.0V1031.1M940.9 1015.1V1031.5M941.9 1015.8V1030.4M943.4 1013.2V1031.9M944.5 1012.3V1031.7M945.1 1013.2V1031.7M946.1 1016.5V1031.0M947.0 1014.4V1031.0M948.0 1016.6V1031.5M949.0 1014.1V1031.2M950.1 1013.9V1030.9M951.2 1014.5V1029.4M952.0 1014.0V1031.8M953.4 1013.6V1030.3M954.4 1015.0V1031.5M954.9 1016.3V1029.6M956.4 1019.3V1031.9M957.1 1019.1V1031.9M958.5 1017.2V1029.4M959.4 1019.1V1030.8M960.2 1019.5V1031.9M961.2 1019.8V1030.0M961.9 1022.2V1029.6M963.5 1021.5V1031.5M963.9 1019.8V1031.5M965.1 1018.3V1029.5M966.4 1016.4V1031.7M967.5 1014.2V1031.2M968.3 1015.6V1031.6M969.3 1015.9V1031.3M970.4 1016.9V1031.6M971.2 1018.4V1031.1M972.3 1017.7V1031.6M973.0 1016.4V1028.9M974.2 1018.2V1031.3M974.9 1018.3V1031.9M976.2 1021.6V1030.5M976.9 1021.3V1031.5M978.0 1023.7V1031.4M979.3 1022.9V1030.9M980.1 1026.0V1031.3M981.1 1025.4V1030.4M982.3 1024.4V1030.9M983.1 1025.9V1031.1M984.4 1024.8V1031.9M984.9 1026.3V1031.9M986.0 1024.9V1031.7M987.3 1024.3V1031.0M988.0 1023.1V1031.3M989.0 1024.1V1027.3M990.3 1022.2V1029.9M991.2 1023.1V1031.9M992.2 1025.5V1031.2M993.5 1021.8V1031.6M993.9 1022.5V1029.2M995.4 1021.2V1031.7M996.1 1022.2V1031.4M997.2 1023.6V1031.1M998.1 1024.9V1030.7M998.9 1022.6V1031.4M1000.3 1021.9V1031.1M1001.4 1022.4V1031.6M1002.1 1020.9V1031.5M1003.4 1021.8V1030.8M1004.3 1020.2V1030.8M1005.3 1022.2V1031.9M1006.1 1022.2V1030.7M1007.1 1022.7V1031.6M1008.1 1023.9V1030.9M1008.9 1023.1V1031.9M1010.4 1024.7V1031.8M1011.5 1022.0V1031.6M1012.2 1021.7V1031.9M1013.2 1022.1V1029.4M1014.0 1022.0V1031.5M1015.2 1024.5V1027.1M1016.0 1020.6V1031.7M1017.1 1014.5V1029.6M1017.9 1013.7V1030.2M1019.2 1010.0V1030.4M1020.4 1012.5V1031.1M1021.4 1020.8V1031.4M1022.4 1022.0V1031.2M1023.2 1022.6V1031.0M1023.9 1022.4V1030.7M1025.3 1022.3V1028.5M1026.5 1023.3V1029.0M1027.1 1022.1V1030.0M1027.9 1023.8V1031.0M1029.0 1023.7V1031.4M1030.5 1021.7V1029.7M1031.0 1021.3V1031.2M1032.0 1022.5V1029.8M1033.2 1019.8V1030.7M1034.3 1020.8V1031.3M1035.2 1021.9V1030.7M1036.5 1022.8V1030.1M1037.0 1024.1V1031.2M1038.0 1022.9V1029.4M1039.4 1026.2V1031.5M1040.4 1023.8V1028.5M1041.4 1025.1V1031.5M1042.3 1023.7V1030.8M1043.2 1025.5V1031.0M1044.4 1024.5V1026.4M1044.9 1025.9V1031.4M1046.1 1025.2V1031.3M1047.1 1023.7V1031.1M1048.0 1024.9V1031.3M1049.2 1021.6V1030.3M1049.9 1022.6V1030.6M1051.1 1022.4V1031.2M1051.9 1022.3V1031.1M1053.1 1023.3V1029.2M1054.3 1022.4V1031.3M1055.1 1022.6V1030.7M1056.3 1023.6V1031.1M1056.9 1022.8V1030.3M1058.4 1020.5V1029.0M1059.1 1023.5V1031.3M1060.0 1020.7V1031.1M1061.2 1021.2V1027.4M1062.1 1021.2V1028.8M1063.0 1021.5V1031.4M1064.1 1019.9V1030.9M1065.1 1019.0V1031.2M1066.2 1018.0V1029.5M1067.3 1015.1V1027.5M1068.3 1010.0V1031.2M1069.1 1008.0V1031.5M1070.2 1004.7V1030.6M1071.3 1006.3V1030.0M1072.4 1010.0V1030.6M1073.4 1020.1V1030.0M1074.5 1020.8V1029.4M1075.0 1020.6V1028.8M1076.3 1021.2V1030.1M1077.4 1021.7V1028.9M1078.0 1024.2V1030.5M1079.0 1023.5V1030.8M1080.0 1024.0V1026.7M1081.3 1024.2V1031.3M1081.9 1024.3V1029.7M1083.0 1023.6V1031.1M1084.1 1022.7V1030.7M1084.9 1023.3V1029.8M1085.9 1021.6V1028.2M1087.3 1021.1V1031.0M1088.5 1017.9V1031.3M1088.9 1017.6V1031.0M1089.9 1020.1V1030.6M1091.3 1022.5V1030.6M1092.2 1023.6V1030.4M1093.3 1024.0V1030.6M1094.3 1023.5V1031.0M1095.1 1023.3V1030.0M1096.0 1024.0V1029.7M1097.5 1024.7V1031.3M1098.2 1023.9V1030.8M1099.3 1024.1V1031.5M1100.3 1025.5V1031.4M1101.4 1026.1V1030.1M1102.1 1023.6V1029.5M1103.3 1022.2V1029.8M1104.1 1022.4V1028.6M1105.5 1021.7V1028.9M1106.1 1024.5V1030.5M1107.0 1025.3V1025.9M1108.3 1022.2V1030.2M1108.9 1026.6V1028.9M1110.2 1022.4V1030.5M1111.4 1023.9V1030.7M1112.4 1022.3V1030.7M1113.0 1025.0V1031.0M1114.2 1021.3V1029.1M1115.2 1024.2V1030.9M1116.3 1021.4V1030.5M1117.0 1023.1V1029.6M1118.1 1022.7V1030.9M1119.4 1024.2V1030.9M1120.2 1023.6V1028.5M1121.3 1022.3V1030.1M1122.4 1023.3V1029.9M1122.9 1023.0V1028.4M1124.2 1024.6V1030.9M1125.5 1020.9V1029.6M1126.4 1020.5V1030.3M1127.4 1022.0V1030.6M1128.3 1018.4V1030.9M1129.5 1017.5V1029.0M1130.0 1016.0V1030.2M1131.0 1014.7V1027.7M1132.1 1008.4V1028.7M1133.0 1003.7V1029.9M1134.4 999.8V1028.1M1135.3 989.2V1029.6M1136.3 985.0V1029.9M1136.9 993.3V1028.2M1138.3 1021.4V1030.1M1139.3 1025.3V1028.0M1140.4 1024.6V1030.4M1141.0 1024.4V1030.0M1142.1 1025.7V1029.1M1143.4 1022.0V1029.9M1144.5 1020.7V1029.7M1145.0 1020.5V1028.7M1146.5 1017.7V1028.8M1147.1 1006.0V1028.2M1148.1 1000.8V1027.1M1149.0 1004.5V1029.1M1150.0 1019.0V1029.2M1151.2 1018.8V1028.1M1152.0 1019.3V1029.2M1153.3 1020.1V1028.1M1154.3 1019.6V1027.9M1155.5 1020.7V1028.7M1156.1 1022.9V1028.7M1157.4 1021.0V1028.1M1158.4 1021.2V1027.1M1159.0 1020.7V1026.0M1160.4 1019.9V1026.9M1161.2 1019.8V1028.4M1162.5 995.2V1026.3M1163.2 987.6V1028.4M1164.0 967.6V1027.8M1165.0 957.1V1027.1M1166.3 957.2V1026.4M1166.9 956.6V1026.1M1167.9 962.1V1027.9M1169.3 1006.9V1026.4M1170.4 1007.1V1027.6M1171.3 1007.4V1029.0M1172.1 1006.7V1025.4M1173.0 985.9V1028.7M1173.9 979.5V1028.8M1174.9 973.0V1027.1M1175.9 972.4V1028.6M1177.3 972.1V1027.7M1178.0 971.6V1024.6M1179.1 971.9V1026.4M1179.9 993.0V1027.6M1181.2 1004.4V1027.8M1182.0 1004.0V1029.2M1183.1 1004.1V1028.2M1184.3 1002.5V1029.6M1185.2 1001.2V1029.8M1186.4 1002.8V1029.4M1187.0 1008.3V1028.5M1188.2 1008.9V1029.6M1189.4 1014.5V1028.3M1190.0 1020.5V1029.9M1191.1 1022.2V1029.5M1192.1 1022.0V1030.0M1193.2 1022.6V1029.3M1194.3 1020.8V1029.2M1195.4 1020.2V1029.9M1196.1 1019.3V1029.7M1197.3 1020.3V1030.0M1198.3 1015.1V1028.2M1199.3 1015.6V1029.7M1200.5 1012.9V1026.5M1201.0 1013.6V1028.0M1201.9 1013.9V1030.0M1203.1 1014.0V1030.2M1203.9 1013.2V1030.4M1205.2 1015.0V1030.3M1206.1 1014.7V1029.4M1207.3 1012.1V1028.6M1208.2 1007.8V1029.0M1209.2 991.4V1029.4M1210.3 989.8V1029.1M1211.0 994.6V1029.5M1211.9 1010.5V1029.6M1213.4 1014.1V1030.5M1214.0 1013.6V1029.8M1215.2 1010.6V1030.3M1216.5 1007.7V1028.2M1217.1 1008.5V1028.0M1218.4 1005.5V1030.3M1219.1 989.6V1030.9M1220.0 986.8V1030.8M1221.3 992.5V1030.7M1222.3 1004.8V1029.2M1223.5 1011.0V1030.0M1224.3 1011.2V1029.5M1225.4 1011.3V1030.2M1226.2 1011.8V1028.9M1227.1 1014.6V1030.8M1228.4 1017.1V1030.7M1228.9 1017.1V1030.6M1230.1 1018.4V1030.6M1231.4 1021.9V1030.7M1232.1 1020.6V1030.9M1233.3 1019.4V1030.3M1234.3 1020.6V1030.1M1235.3 1018.9V1030.5M1236.2 1019.3V1030.2M1237.3 1017.5V1030.6M1238.4 1018.6V1030.0M1239.1 1020.3V1030.7M1240.4 1016.6V1028.5M1241.4 1015.4V1027.0M1242.1 1001.7V1026.2M1243.1 999.8V1025.3M1244.2 1002.4V1024.6M1245.4 1014.8V1027.1M1246.0 1017.4V1027.7M1247.4 1019.0V1027.6M1248.4 1017.5V1027.7M1249.4 1017.9V1026.4M1250.4 1021.6V1025.3M1251.5 1002.0V1023.7M1252.4 999.5V1023.2M1253.3 991.5V1024.8M1254.2 983.9V1025.1M1255.3 977.7V1029.6M1256.5 968.8V1027.6M1257.4 970.5V1026.8M1258.4 962.6V1021.6M1259.0 958.8V1021.9M1260.2 957.6V1019.3M1261.5 1004.3V1021.8M1262.2 1002.5V1022.2M1263.2 1009.7V1024.5M1264.3 1008.4V1028.9M1265.5 1004.2V1021.6M1266.2 999.7V1023.3M1267.1 996.6V1022.9M1268.3 999.1V1023.5M1269.3 1001.0V1023.6M1270.3 1000.5V1022.7M1271.0 999.2V1023.9M1272.0 998.6V1025.8M1273.1 971.4V1026.3M1274.3 961.4V1023.5M1275.1 949.9V1023.9M1276.3 947.3V1026.0M1277.4 946.4V1025.2M1278.4 946.4V1026.5M1279.0 947.2V1026.7M1280.2 977.5V1026.8M1281.2 996.7V1027.8M1282.4 999.7V1026.9M1282.9 1000.0V1026.0M1284.3 997.0V1026.4M1285.2 995.3V1024.1M1286.2 995.3V1025.2M1287.3 964.9V1024.2M1288.2 960.0V1023.7M1288.9 959.7V1023.7M1290.4 965.1V1021.5M1291.0 985.6V1024.6M1292.3 991.6V1025.2M1293.3 991.6V1025.2M1294.2 993.7V1023.4M1295.3 988.8V1025.1M1296.1 989.3V1025.8M1297.0 988.2V1025.8M1298.0 994.2V1026.5M1299.0 992.7V1026.6M1300.1 993.0V1026.8M1301.1 994.2V1027.8M1302.2 994.1V1026.9M1303.3 992.2V1026.8M1303.9 992.0V1024.6M1305.4 988.1V1025.7M1306.1 994.0V1025.0M1307.3 993.5V1024.0M1308.0 992.0V1026.9M1309.1 989.9V1023.4M1310.3 958.8V1021.8M1311.3 958.6V1021.7M1312.3 962.2V1022.4M1313.3 981.9V1019.6M1314.2 981.6V1019.7M1315.4 982.8V1019.6M1316.2 981.4V1017.3M1317.4 983.4V1016.1M1318.1 989.3V1017.3M1319.1 996.6V1019.9M1320.1 997.5V1022.5M1321.4 1001.3V1027.1M1322.0 1006.1V1026.5M1323.0 1005.7V1024.1M1324.1 1006.3V1024.2M1325.3 1004.8V1022.4M1326.3 1005.2V1021.9M1327.5 987.4V1021.3M1328.4 986.2V1024.2M1328.9 985.5V1023.7M1330.2 984.4V1024.2M1331.2 984.4V1021.3M1332.0 981.0V1021.2M1333.0 958.0V1023.5M1334.1 932.5V1022.6M1334.9 933.0V1024.3M1336.3 985.9V1024.6M1336.9 985.2V1023.7M1338.1 985.8V1017.4M1339.5 935.6V1013.9M1340.2 931.1V1013.2M1341.4 924.0V1010.6M1342.1 927.0V1010.5M1343.2 929.3V1024.2M1344.5 955.9V1025.3M1344.9 956.9V1025.9M1346.0 965.4V1024.8M1347.1 965.3V1026.1M1347.9 965.3V1026.0M1349.2 955.3V1011.8M1350.3 920.9V1015.1M1351.2 919.6V1013.4M1352.1 919.8V1014.5M1353.4 970.8V1016.0M1354.3 979.1V1018.5M1355.5 986.9V1028.2M1356.2 988.3V1030.2M1357.2 987.2V1030.4M1358.3 985.1V1016.9M1359.1 976.9V1018.8M1360.1 953.4V1012.0M1361.2 933.2V1010.3M1362.0 924.6V1007.8M1363.3 923.2V1011.2M1364.4 954.4V1016.1M1365.0 987.1V1026.1M1366.3 991.7V1025.9M1367.5 987.6V1026.0M1368.1 988.9V1026.5M1369.4 988.4V1026.5M1370.4 986.9V1020.0M1371.1 981.2V1017.6M1372.0 977.6V1022.5M1372.9 977.2V1022.5M1374.0 956.0V1022.0M1375.1 945.3V1022.8M1376.1 945.2V1021.7M1377.3 944.3V1020.1M1378.4 947.6V1022.6M1379.4 992.3V1026.4M1380.5 999.4V1024.1M1381.3 999.5V1029.0M1382.5 1001.9V1027.4M1382.9 1001.4V1026.3M1383.9 997.3V1020.4M1385.2 972.4V1014.0M1386.4 969.4V1017.6M1386.9 970.8V1019.3M1388.2 994.2V1020.4M1389.5 997.0V1017.5M1390.4 996.3V1023.1M1391.0 995.0V1021.4M1392.5 991.0V1020.3M1393.1 988.7V1019.7M1394.0 987.6V1020.0M1395.4 987.1V1026.8M1396.2 963.0V1027.1M1397.1 959.9V1026.7M1398.4 953.3V1026.2M1399.2 950.0V1025.8M1400.1 942.7V1025.5M1401.0 942.0V1024.3M1402.2 950.3V1023.2M1403.5 978.8V1018.7M1403.9 978.8V1019.6M1405.1 988.3V1019.8M1406.1 990.3V1021.1M1407.0 995.8V1021.0M1408.0 998.4V1022.0M1409.3 1001.0V1021.8M1410.4 998.2V1019.1M1411.1 956.0V1020.0M1412.3 948.9V1016.6M1413.0 941.3V1014.9M1414.0 926.1V1013.7M1415.4 905.8V1013.8M1416.3 902.7V1018.0M1417.1 910.2V1021.8M1418.0 958.4V1022.8M1419.2 962.1V1019.6M1420.1 960.3V1011.4M1421.4 960.5V1011.5M1422.5 913.2V1010.0M1423.0 912.6V1011.7M1424.0 967.3V1015.2M1425.0 977.3V1016.7M1426.2 978.9V1015.4M1427.4 981.0V1020.8M1428.3 977.5V1014.9M1429.4 976.8V1017.7M1430.5 975.3V1014.1M1431.2 972.4V1015.0M1432.4 968.8V1013.5M1433.1 964.1V1013.7M1433.9 964.1V1014.5M1435.3 935.5V1014.4M1436.0 933.6V1016.5M1437.0 935.8V1018.3M1438.4 939.4V1016.4M1439.5 985.6V1018.7M1440.2 993.6V1021.1M1441.2 994.6V1024.8M1442.1 996.8V1024.4M1443.0 999.7V1026.0M1444.4 1002.0V1027.4M1445.3 983.2V1028.8M1445.9 996.6V1030.0M1447.2 954.1V1016.3M1448.3 935.6V1008.2M1449.2 922.9V1007.0M1450.2 917.6V1007.1M1451.1 933.4V1003.7M1452.2 981.8V1011.8M1452.9 982.7V1016.5M1454.3 990.4V1024.6M1455.1 996.6V1022.8M1455.9 1000.4V1025.7M1457.2 1002.9V1026.8M1458.4 998.3V1026.9M1459.0 979.9V1025.7M505.7 744.1v0M505.7 745.7v0M505.7 747.9v0M505.7 749.9v0M505.7 751.9v0M505.7 754.1v0M505.7 755.9v0M505.7 757.8v0M505.7 760.0v0M505.7 762.2v0M505.7 764.1v0M505.7 766.0v0M505.7 768.2v0M505.7 769.8v0M505.7 772.2v0M505.7 773.6v0M505.7 775.8v0M505.7 777.6v0M505.7 779.7v0M505.7 781.5v0M505.7 784.2v0M505.7 786.3v0M505.7 788.4v0M505.7 789.5v0M505.7 792.1v0M505.7 793.9v0M505.7 796.3v0M505.7 797.8v0M505.7 800.2v0M505.7 801.5v0M505.7 803.9v0M505.4 806.5v0M505.4 808.2v0M505.4 810.5v0M505.4 811.9v0M505.4 813.9v0M505.4 816.1v0M505.4 817.6v0M505.4 820.0v0M505.4 821.6v0M505.4 823.7v0M505.4 826.2v0M505.2 828.4v0M505.2 830.4v0M505.2 832.0v0M505.4 834.5v0M505.4 836.5v0M505.4 838.5v0M505.4 839.6v0M505.4 841.7v0M505.4 843.0V858.2M513.2 745.0v0M513.2 747.3v0M513.2 749.2v0M513.2 750.9v0M513.2 753.1v0M513.2 755.5v0M513.2 757.0v0M513.2 759.1v0M513.2 760.9v0M513.2 763.0v0M513.2 764.6v0M513.2 767.5v0M513.2 768.9v0M513.2 771.2v0M513.2 772.7v0M513.2 774.5v0M513.2 776.8v0M513.2 778.6v0M513.2 780.6v0M513.2 782.5v0M513.2 785.2v0M513.2 787.1v0M513.2 788.8v0M513.2 790.7v0M513.2 793.0v0M513.2 795.0v0M513.0 797.4v0M513.0 799.2v0M513.0 801.2v0M513.0 803.0v0M513.0 804.8v0M513.0 806.6v0M513.0 808.6v0M513.2 811.0v0M513.0 812.5v0M514.5 814.9v0M514.5 815.5V873.7M517.5 813.9v0M517.5 816.4v0M517.5 817.8v0M517.5 819.9v0M517.5 822.2v0M517.2 823.5v0M517.2 825.8v0M517.2 827.9v0M517.2 829.7v0M517.2 831.6v0M517.2 833.8v0M517.2 836.0v0M517.2 837.8v0M517.2 840.3v0M517.2 842.0v0M517.2 844.3v0M517.2 845.7v0M517.2 847.6v0M517.2 850.0v0M517.2 851.6v0M517.2 853.9v0M517.2 856.0v0M517.2 857.8v0M517.2 860.1v0M517.2 861.8v0M517.2 863.6v0M517.2 866.3v0M517.2 868.0v0M517.2 870.5v0M517.2 872.0v0M517.2 874.4v0M517.5 876.3v0M517.5 878.3v0M517.5 880.2v0M517.5 882.5v0M517.5 884.1v0M517.5 885.0V885.0M370.4 815.6v0M370.2 817.4v0M370.2 819.9v0M370.2 821.1v0M370.2 823.7v0M370.2 825.1v0M370.2 827.3v0M370.2 829.3v0M370.2 831.9v0M370.2 833.4v0M370.2 835.6v0M370.2 837.3v0M370.2 839.1v0M370.2 841.8v0M370.4 843.7v0M370.4 845.5V897.1M544.0 844.1v0M544.0 845.5v0M544.2 848.4v0M544.0 849.9v0M544.0 852.1v0M544.0 854.1v0M544.0 856.1v0M544.0 858.5v0M544.0 860.4v0M544.0 862.0v0M544.0 864.1v0M544.0 866.0v0M544.0 867.6v0M544.0 869.7v0M544.0 872.2v0M544.0 874.3v0M544.0 876.2v0M544.0 877.9v0M544.0 880.0v0M546.0 880.2v0M544.0 882.0v0M546.0 881.6v0M544.0 883.9v0M546.0 884.2v0M545.0 886.2v0M545.0 888.0v0M545.0 889.5v0M545.0 891.9v0M545.0 893.0V952.5M499.4 857.5v0M499.4 860.1v0M499.4 862.0V941.1M492.9 860.4v0M492.7 862.2v0M422.4 867.9v0M422.9 869.9v0M423.2 872.0v0M422.9 873.3v0M422.9 875.9v0M422.9 876.5V962.0M196.4 877.6v0M196.2 880.4v0M196.4 882.2v0M196.4 884.3v0M196.4 885.7v0M196.4 888.2v0M196.4 890.5v0M196.4 892.4v0M196.4 893.8v0M196.7 895.9v0M196.7 898.0v0M196.7 900.1v0M196.7 901.5v0M196.7 903.9v0M196.4 905.7v0M196.4 907.6v0M196.4 909.6v0M196.4 911.5v0M196.4 913.7v0M196.4 916.1v0M196.4 917.0V956.4M362.4 877.7v0M362.7 879.4v0M362.7 881.7v0M362.9 883.1v0M362.7 885.6v0M362.4 887.2v0M362.4 889.6v0M362.4 890.5V915.1M271.7 882.3v0M271.7 883.9v0M271.7 886.1v0M271.9 888.2v0M271.9 889.7v0M271.7 892.0v0M271.7 893.9v0M271.7 896.4v0M271.7 898.3v0M271.7 899.8v0M271.9 902.4v0M271.9 904.2v0M271.9 906.0V943.9M306.7 887.9v0M306.7 889.8v0M306.7 891.9v0M306.7 893.8v0M306.9 895.9v0M306.9 898.0V938.6M244.9 890.9v0M245.2 892.4v0M244.9 894.7v0M245.2 896.1v0M244.9 898.1v0M245.2 900.3v0M243.4 902.3v0M243.4 903.0V974.1M484.9 897.9v0M484.9 899.8v0M484.9 901.1v0M484.7 903.3v0M484.7 905.2v0M484.7 907.0v0M484.4 909.0v0M484.4 911.9v0M484.4 913.5v0M484.2 915.7v0M484.2 917.1v0M484.2 919.4v0M484.2 921.6v0M484.2 923.5v0M484.2 925.2v0M484.2 927.3v0M484.2 929.7v0M484.2 931.6v0M484.2 933.3v0M484.2 935.6v0M484.2 937.1v0M484.2 939.1v0M484.2 941.9v0M484.2 943.4v0M484.2 945.6v0M484.4 947.3v0M484.4 949.0V973.8M1423.0 894.3v0M1423.5 896.1v0M1423.2 898.3v0M1423.2 900.9v0M1423.2 902.8v0M1423.2 904.5v0M1423.2 906.4v0M1423.0 908.1v0M1421.5 910.6v0M1421.5 911.0V973.8M463.4 897.9v0M463.9 899.5v0M1417.2 897.4v0M1416.0 899.1v0M1352.5 904.2v0M1352.5 906.7v0M1352.7 908.9v0M1352.5 910.2v0M1352.7 912.3v0M1352.7 914.5V962.9M1450.2 904.8v0M1450.5 906.1v0M1450.2 908.7v0M1450.2 910.9v0M1450.2 912.9v0M1450.2 914.0V922.5M250.9 905.3v0M250.7 907.4v0M250.7 909.5v0M250.7 911.1v0M250.7 913.2v0M250.7 915.9v0M250.7 917.6v0M250.7 919.6v0M250.7 921.9v0M250.7 923.6v0M250.7 925.5v0M250.7 927.7v0M250.7 929.1v0M250.7 931.8v0M250.7 933.6v0M250.9 935.0v0M250.9 937.8v0M250.9 939.9v0M250.9 941.7v0M250.9 943.4v0M250.9 945.7v0M250.9 947.9v0M250.9 949.0v0M250.9 951.2v0M250.9 952.5V970.8M478.4 907.7v0M479.4 909.5v0M1334.5 917.6v0M1334.5 919.6v0M1334.5 922.5v0M1334.7 924.1v0M1334.7 926.5v0M1334.7 927.5v0M1335.0 929.8v0M1335.0 931.0V985.0M387.4 916.3v0M387.4 918.4v0M185.9 917.3v0M186.2 918.5v0M186.2 921.0v0M184.4 922.5v0M184.4 923.5V978.7M1362.5 916.8v0M1362.7 919.4v0M1361.5 921.0v0M1342.5 917.2v0M1342.0 919.0v0M1343.5 921.3v0M256.4 952.2v0M256.4 953.9v0M256.2 955.8v0M256.2 957.0V968.5M172.4 926.0v0M172.2 928.0v0M172.2 930.0v0M171.9 932.6v0M172.2 934.3v0M171.9 936.1v0M171.9 938.7v0M171.9 940.6v0M171.7 942.3v0M171.9 944.4v0M173.4 946.6v0M173.4 947.0V968.6M124.5 925.6v0M124.2 928.4v0M124.2 929.8v0M124.0 931.6v0M124.2 934.0v0M122.5 936.0v0M122.5 936.5V987.5M1436.7 929.5v0M1435.0 931.2v0M1400.7 934.8v0M1401.0 936.9v0M1401.0 938.5v0M1401.0 940.5V998.1M150.2 935.3v0M150.4 937.7v0M150.4 939.4v0M150.2 941.1v0M150.4 943.2v0M150.4 945.2v0M150.7 947.9v0M150.7 949.5v0M150.7 951.0v0M150.7 953.0V991.9M396.4 937.2v0M395.9 939.4v0M1375.2 939.4v0M1375.5 941.0v0M1375.5 942.5V1000.4M261.4 940.9v0M237.4 941.5v0M238.9 943.1v0M117.0 948.2v0M117.2 949.9v0M117.5 952.3v0M117.7 954.4v0M117.7 955.9v0M117.7 958.5v0M117.7 959.7v0M117.7 961.7v0M119.0 964.2v0M119.0 964.5V993.8M1289.2 948.6v0M1289.0 950.6v0M1289.0 953.0v0M1288.7 955.3v0M1290.5 957.2v0M1290.5 957.5V983.4M1311.2 949.0v0M1311.0 951.4v0M1311.0 952.9v0M1309.5 955.5v0M1309.5 955.5V993.6M1386.7 949.7v0M1386.5 951.3v0M1386.5 954.0v0M1386.5 955.0v0M1386.5 957.4v0M1386.5 959.8v0M1386.2 961.7v0M1386.2 963.5v0M1386.0 965.1v0M1386.0 966.5V978.5M1167.0 952.0v0M1166.5 953.1v0M1262.0 955.3v0M1317.5 957.1v0M1317.5 959.0v0M1317.5 961.0v0M1317.5 962.9v0M1317.5 965.5v0M1317.5 967.5v0M1317.5 969.4v0M1317.5 970.5v0M1317.5 973.4v0M1317.5 975.3v0M1317.5 976.6v0M1318.5 979.4v0M1318.5 979.5V993.2M1305.0 968.4v0M1305.0 969.8v0M1305.2 972.1v0M1305.2 974.0v0M1305.2 976.3v0M1305.2 978.3v0M1305.2 980.3v0M1305.2 981.5v0M1305.2 984.3v0M1305.2 986.0V996.3M1461.2 970.0v0M1461.2 972.3v0M1462.0 973.8v0M1462.0 974.5V984.2M437.7 964.7v0M217.4 963.5v0M216.9 965.2v0M1328.0 970.8v0M1327.7 972.6v0M1327.5 974.0v0M1327.5 976.2v0M1327.2 978.6v0M1327.0 980.2v0M1327.0 982.5v0M1327.0 983.5V1007.5M1459.0 971.1v0M1459.0 973.0v0M1459.0 974.5V990.6M221.4 970.8v0M221.4 972.8v0M221.4 974.4v0M160.9 973.6v0M160.7 976.1v0M160.4 977.8v0M160.4 980.0V1011.8M138.2 974.9v0M137.9 976.8v0M137.7 978.6v0M137.9 980.7v0M137.9 982.3v0M137.9 984.0V1000.0M1136.2 974.2v0M1136.2 976.9v0M1136.2 979.0v0M1136.2 981.0v0M1134.5 982.3v0M1134.5 983.0V1008.5M162.7 978.8v0M1221.0 979.8v0M1220.5 981.2v0M1220.5 983.6v0M1220.5 985.0V1012.9M1211.0 979.5v0M1210.5 981.6v0M1210.2 983.7v0M1210.2 986.0V1009.8M1268.2 982.1v0M1268.7 984.3v0M1268.7 985.7v0M1268.7 988.1v0M1268.7 989.6v0M1268.7 991.9v0M1268.7 992.5V1007.8M453.9 983.3v0M453.7 985.3v0M453.9 987.3v0M453.9 988.0V1011.5M1296.7 983.5v0M1243.0 994.1v0M1243.2 996.3v0M1243.2 998.0V1016.5M1148.7 996.9v0M292.4 999.2v0M292.4 1001.8v0M292.4 1003.3v0M292.4 1005.5V1021.1M581.2 1003.3v0M581.2 1005.5v0M581.2 1007.0V1022.6M869.5 1004.1v0M869.7 1005.7v0M869.7 1008.0V1018.5M1018.7 1005.9v0M317.9 1005.6v0M317.9 1008.0v0M317.7 1009.0v0M317.7 1011.4v0M317.7 1013.1v0M317.7 1015.0V1017.4M919.5 1005.1v0M919.2 1007.9v0M933.5 1005.9v0M825.0 1009.1v0M825.0 1011.1v0M830.5 1007.8v0M830.5 1009.7v0M830.2 1011.4v0M968.5 1009.1v0M688.2 1012.9v0M974.5 1012.4v0M560.7 1014.8v0M1033.7 1016.2v0M1004.2 1016.7v0M1106.2 1016.0v0M773.7 1020.1v0M1436.2 1025.6v0M1334.5 1029.7v0M1453.5 1029.4v0M1368.5 1030.3v0M1296.2 1029.8v0M120.7 966.2v0M120.7 968.1v0M127.3 965.5v0M128.3 972.7v0M128.9 977.1v0M130.1 980.4v0M129.9 966.6v0M131.0 985.0v0M131.1 987.8v0M131.8 1002.9v0M132.3 1002.9v0M135.2 996.1v0M142.3 995.0v0M143.7 996.9v0M144.9 1003.6v0M156.5 990.5v0M157.5 1003.8v0M165.6 989.0v0M166.3 986.4v0M175.9 985.2v0M176.0 985.2v0M177.1 998.7v0M177.9 997.4v0M191.8 989.5v0M192.4 979.1v0M193.1 983.8v0M203.4 983.5v0M204.7 986.7v0M206.0 986.2v0M207.0 986.6v0M207.9 991.1v0M209.5 992.9v0M210.6 993.4v0M218.8 979.0v0M224.5 988.0v0M224.7 991.7v0M226.1 998.3v0M229.9 1002.8v0M241.5 968.4v0M241.5 959.5v0M253.7 952.6v0M254.6 955.8v0M256.1 949.7v0M255.8 949.0v0M257.3 947.3v0M264.4 973.4v0M264.7 971.2v0M265.8 987.3v0M266.9 982.8v0M266.3 982.3v0M267.7 970.9v0M267.7 970.2v0M276.6 966.9v0M277.4 968.2v0M277.4 974.3v0M278.7 977.4v0M279.4 976.5v0M281.6 984.1v0M282.8 985.7v0M285.4 994.2v0M286.5 999.3v0M290.0 1003.1v0M296.5 1004.8v0M297.7 1004.2v0M311.4 984.5v0M311.7 986.1v0M312.0 972.6v0M312.9 1001.4v0M312.8 1000.3v0M314.3 1014.1v0M324.6 1010.4v0M326.8 1002.7v0M328.1 1000.9v0M329.5 997.6v0M331.3 997.2v0M332.8 995.2v0M340.7 1000.4v0M343.1 1001.6v0M344.9 1000.0v0M345.7 993.3v0M347.6 989.5v0M348.9 984.8v0M365.7 906.9v0M365.8 913.4v0M365.8 913.8v0M375.2 911.4v0M374.9 908.9v0M375.2 940.5v0M375.2 919.1v0M375.3 932.6v0M377.0 952.1v0M376.8 942.4v0M377.6 944.9v0M377.4 965.1v0M378.7 972.4v0M378.2 970.0v0M379.3 962.8v0M380.1 956.1v0M381.2 961.1v0M392.7 955.2v0M392.6 948.1v0M394.1 954.8v0M393.8 954.7v0M400.5 956.5v0M400.8 959.8v0M413.4 936.6v0M414.0 943.4v0M414.4 952.4v0M414.6 952.3v0M415.5 950.9v0M416.4 948.8v0M417.8 932.4v0M417.4 922.3v0M427.7 918.9v0M427.7 940.0v0M427.8 942.8v0M428.6 946.3v0M429.0 943.8v0M429.6 964.7v0M429.5 970.2v0M430.7 977.3v0M431.1 970.2v0M431.4 978.9v0M431.8 968.1v0M432.6 969.8v0M432.8 969.8v0M434.1 982.2v0M434.9 989.9v0M444.0 986.9v0M444.7 993.7v0M445.5 990.7v0M446.5 992.9v0M449.0 999.8v0M455.8 990.2v0M456.8 986.4v0M470.3 944.6v0M472.0 950.2v0M482.8 928.9v0M482.9 942.3v0M482.3 943.1v0M486.6 940.5v0M486.5 942.6v0M488.1 945.4v0M487.4 941.2v0M497.0 905.8v0M496.2 898.9v0M496.8 874.2v0M509.0 876.4v0M508.8 852.4v0M509.1 882.9v0M508.4 862.5v0M509.2 888.2v0M515.4 836.8v0M515.6 871.4v0M515.7 882.2v0M516.2 859.7v0M516.1 837.5v0M515.5 829.7v0M520.0 839.1v0M519.3 866.6v0M519.5 874.9v0M519.4 858.2v0M519.6 832.8v0M520.8 889.6v0M520.7 877.0v0M520.5 899.6v0M521.0 850.9v0M520.7 893.1v0M520.8 850.9v0M521.7 896.7v0M521.5 914.8v0M522.0 917.8v0M521.3 907.5v0M522.4 923.1v0M522.8 932.0v0M523.5 934.0v0M524.1 934.3v0M524.9 951.2v0M524.9 958.2v0M524.8 934.9v0M524.9 957.8v0M525.6 957.6v0M525.6 957.1v0M526.0 930.3v0M526.9 943.0v0M526.5 934.3v0M527.1 953.4v0M540.4 880.1v0M540.2 881.5v0M540.3 866.9v0M542.1 903.7v0M542.1 881.8v0M541.6 890.4v0M542.5 920.4v0M543.1 910.0v0M543.0 896.6v0M549.0 939.0v0M549.0 936.3v0M548.6 947.7v0M548.3 966.5v0M549.7 990.5v0M562.3 1017.6v0M566.8 1021.9v0M574.3 1022.3v0M588.4 1022.7v0M591.1 1025.3v0M598.8 1021.2v0M601.0 1022.2v0M639.8 1025.6v0M645.4 1023.6v0M647.5 1024.1v0M677.7 1025.7v0M681.5 1022.6v0M698.6 1023.3v0M703.0 1023.9v0M716.7 1026.6v0M731.1 1026.0v0M746.6 1026.3v0M752.5 1026.1v0M755.1 1025.0v0M779.2 1025.9v0M786.5 1027.8v0M793.3 1028.2v0M794.5 1028.1v0M805.2 1025.2v0M807.8 1025.5v0M811.8 1028.0v0M813.3 1027.8v0M821.1 1026.6v0M833.0 1014.6v0M833.5 1016.5v0M836.6 1014.6v0M839.3 1011.1v0M841.7 1008.6v0M850.6 1006.6v0M865.1 1006.4v0M866.1 1007.4v0M872.5 1013.6v0M876.0 1018.4v0M886.8 1018.6v0M893.6 1025.2v0M895.8 1025.8v0M907.9 1021.0v0M924.9 1017.0v0M938.1 1014.8v0M941.1 1012.3v0M953.3 1010.4v0M971.1 1012.8v0M978.5 1021.0v0M979.8 1021.6v0M998.4 1020.9v0M1001.8 1020.0v0M1006.8 1019.9v0M1007.3 1021.0v0M1025.7 1021.0v0M1028.3 1021.0v0M1037.0 1020.1v0M1038.8 1021.6v0M1039.3 1021.9v0M1047.3 1021.5v0M1057.6 1019.4v0M1062.8 1019.9v0M1065.0 1017.7v0M1081.6 1022.8v0M1083.6 1022.8v0M1087.1 1020.5v0M1096.3 1022.2v0M1097.8 1022.5v0M1102.3 1021.7v0M1105.1 1020.1v0M1108.5 1020.1v0M1109.4 1020.9v0M1118.8 1020.5v0M1122.7 1021.5v0M1125.3 1020.0v0M1130.0 1013.7v0M1140.8 1016.8v0M1143.0 1017.8v0M1144.8 1016.6v0M1145.7 1015.1v0M1152.6 1015.5v0M1154.1 1014.2v0M1157.7 1017.1v0M1159.9 1015.1v0M1171.4 1001.0v0M1182.9 992.0v0M1183.0 988.8v0M1183.9 991.2v0M1184.7 996.0v0M1185.4 997.2v0M1186.3 996.8v0M1187.7 995.8v0M1188.5 996.0v0M1189.8 998.3v0M1190.6 1001.2v0M1191.9 1011.1v0M1200.0 1008.0v0M1200.6 1006.5v0M1201.5 1007.1v0M1204.2 1007.8v0M1204.7 1002.7v0M1205.6 1007.2v0M1206.7 1001.8v0M1214.4 998.7v0M1215.4 1003.6v0M1217.1 1000.6v0M1225.1 1000.5v0M1225.3 1006.2v0M1228.0 1005.3v0M1228.4 1009.5v0M1230.5 1012.3v0M1233.7 1013.8v0M1236.6 1012.1v0M1238.1 1011.4v0M1238.6 1013.5v0M1240.0 1009.8v0M1247.5 1011.3v0M1249.1 1013.7v0M1249.6 1012.4v0M1264.2 994.5v0M1265.6 996.2v0M1266.6 992.0v0M1267.5 987.1v0M1270.3 991.5v0M1271.7 991.1v0M1282.9 969.4v0M1282.5 956.2v0M1282.7 954.9v0M1283.5 984.5v0M1284.4 984.6v0M1293.8 977.3v0M1294.7 974.7v0M1294.3 979.5v0M1295.2 978.5v0M1296.8 977.3v0M1297.5 976.3v0M1298.5 984.4v0M1299.0 984.1v0M1299.7 978.0v0M1300.3 980.7v0M1301.8 985.3v0M1302.4 987.3v0M1303.0 979.4v0M1303.7 976.3v0M1307.7 976.1v0M1316.1 976.5v0M1315.4 968.9v0M1319.7 979.4v0M1319.3 980.3v0M1321.2 984.8v0M1321.9 982.7v0M1322.3 986.7v0M1323.3 988.7v0M1326.0 999.4v0M1329.8 969.3v0M1331.0 970.0v0M1348.0 935.0v0M1347.9 942.1v0M1355.9 964.2v0M1356.1 965.9v0M1356.6 975.2v0M1356.8 957.2v0M1357.6 958.6v0M1358.0 965.6v0M1359.1 960.2v0M1358.7 967.9v0M1367.9 967.1v0M1368.0 972.0v0M1369.1 974.8v0M1368.9 977.3v0M1370.2 970.5v0M1370.3 976.6v0M1371.3 973.6v0M1381.3 977.1v0M1381.8 984.2v0M1383.2 986.1v0M1382.4 972.5v0M1389.8 984.2v0M1391.0 987.5v0M1391.9 982.4v0M1393.0 981.1v0M1393.6 981.6v0M1394.3 979.8v0M1405.9 971.8v0M1407.4 984.7v0M1408.8 983.4v0M1409.9 984.0v0M1420.6 939.3v0M1420.7 950.5v0M1426.4 962.0v0M1426.4 959.1v0M1427.5 964.8v0M1428.0 967.8v0M1429.1 956.1v0M1428.6 957.4v0M1429.4 967.5v0M1430.6 957.7v0M1431.7 956.6v0M1431.3 961.6v0M1432.4 957.2v0M1432.8 952.8v0M1441.7 975.4v0M1441.8 972.2v0M1442.9 984.7v0M1445.0 980.6v0M1444.9 972.5v0M1445.5 956.8v0M1445.3 964.6v0M1445.7 979.8v0M1454.3 974.1v0M1454.9 980.2v0M1455.7 978.5v0M1456.5 980.4v0M1457.5 986.0v0M1461.3 961.2v0M172.5 837.0v0M172.5 842.0v0M172.5 849.5v0M172.5 854.5v0M172.5 867.0v0M172.5 879.5v0M172.5 897.0v0M172.5 907.0v0M172.5 914.5v0M185.5 760.8v0M185.5 764.5v0M185.5 772.0v0M185.5 780.8v0M185.5 788.2v0M185.5 794.5v0M185.5 810.8v0M185.5 826.5v0M185.5 834.5v0M185.5 841.5v0M185.5 852.0v0M185.5 863.2v0M185.5 870.8v0M185.5 878.2v0M185.5 884.5v0M185.5 892.0v0M185.5 900.8v0M185.5 910.8v0M271.2 815.8v0M271.2 822.0v0M271.2 836.5v0M271.2 842.0v0M271.2 848.2v0M271.2 854.5v0M271.2 864.5v0M271.2 872.0v0M271.2 879.5v0M371.2 805.0v0M389.2 884.5v0M390.0 891.5v0M390.0 903.2v0M387.5 918.2v0M397.5 907.0v0M421.8 851.2v0M407.5 786.2v0M407.5 798.2v0M407.5 808.2v0M407.5 815.0v0M407.5 833.2v0M407.5 838.2v0M407.5 844.5v0M407.5 850.8v0M407.5 857.0v0M407.5 863.2v0M407.5 870.8v0M407.5 884.5v0M407.5 681.2v0M407.5 697.5v0M407.5 718.2v0M407.5 755.5v0M440.0 924.5v0M440.0 932.0v0M440.0 939.5v0M440.0 948.2v0M440.0 955.8v0M440.0 962.0v0M463.2 849.5v0M463.2 855.8v0M463.2 863.2v0M463.2 869.5v0M463.2 879.5v0M463.2 887.0v0M463.2 892.0v0M512.5 597.5v0M512.5 606.2v0M512.5 624.5v0M512.5 632.5v0M512.5 644.5v0M512.5 671.2v0M512.5 677.5v0M512.5 686.2v0M512.5 697.0v0M512.5 705.8v0M512.5 727.0v0M512.5 733.8v0M512.5 740.0v0M535.5 703.8v0M535.5 710.0v0M535.5 722.0v0M535.5 742.5v0M535.5 746.2v0M545.5 833.8v0M545.5 840.0v0M545.5 845.0v0M545.5 856.2v0M545.5 863.0v0M499.2 857.5v0M1178.8 938.0v0M1178.8 941.8v0M1176.2 948.0v0M1176.2 953.0v0M1178.8 961.0v0M1177.5 968.0v0M1279.5 902.5v0M1279.5 911.5v0M1279.5 914.5v0M1279.5 925.8v0M1279.5 934.5v0M1279.5 939.5v0M1289.5 914.0v0M1289.5 920.8v0M1289.5 928.2v0M1289.5 945.8v0M1305.5 924.5v0M1305.5 928.2v0M1305.5 940.8v0M1305.5 948.2v0M1305.5 955.8v0M1311.5 948.2v0M1318.2 954.5v0M1403.5 912.0v0M1400.2 923.2v0M1400.2 928.2v0M1334.5 918.2v0M1334.5 925.8v0M1334.5 933.2v0M1334.5 940.8v0M1334.5 948.2v0M1342.2 894.5v0M1342.2 898.2v0M1342.2 906.5v0M1342.2 914.0v0M1352.2 892.5v0M1352.2 899.5v0M1362.8 854.0v0M1362.8 857.5v0M1362.8 863.2v0M1362.8 865.0v0M1362.8 882.0v0M1362.8 898.8v0M1362.8 904.5v0M1362.8 908.2v0M1362.8 914.5v0M1377.8 915.8v0M1377.8 922.0v0M1377.8 927.0v0M1377.8 940.8v0M1385.5 870.2v0M1385.5 874.5v0M1385.5 879.5v0M1385.5 892.0v0M1385.5 898.8v0M1385.5 904.5v0M1385.5 917.0v0M1385.5 923.2v0M1385.5 929.5v0M1385.5 934.5v0M1385.5 940.8v0M1385.5 947.0v0M1392.2 925.8v0M1392.2 934.5v0M1392.2 940.8v0M1392.2 948.2v0M1392.2 954.5v0M1418.5 813.2v0M1418.5 815.0v0M1418.5 845.2v0M1418.5 855.8v0M1418.5 859.5v0M1418.5 869.5v0M1418.5 873.2v0M1418.5 879.5v0M1418.5 884.5v0M1418.5 889.5v0M1423.5 879.0v0M1423.5 884.5v0M1423.5 890.8v0M1414.0 912.0v0M1414.0 919.5v0M1414.0 935.8v0M1437.8 870.8v0M1437.8 874.5v0M1437.8 882.0v0M1437.8 899.5v0M1437.8 919.5v0M1437.8 927.0v0M1450.5 773.8v0M1450.5 777.5v0M1450.5 786.2v0M1450.5 830.8v0M1450.5 833.2v0M1450.5 840.0v0M1450.5 847.5v0M1450.5 854.5v0M1450.5 857.5v0M1450.5 870.8v0M1450.5 875.8v0M1450.5 879.5v0M1450.5 888.2v0M1450.5 894.5v0M1450.5 742.4v0M493.3 700.5v0M493.8 706.0v0M493.7 714.8v0M493.3 719.0v0M493.8 726.5v0M493.7 730.3v0M493.7 740.2v0M493.6 744.8v0M493.4 753.1v0M493.7 757.0v0M493.4 763.3v0M494.1 769.5v0M493.8 774.6v0M493.7 783.9v0M493.5 790.1v0M494.1 797.7v0M493.7 802.9v0M493.5 809.7v0M493.5 812.5v0M493.6 822.8v0M494.1 825.1v0M493.7 835.1v0M494.1 841.7v0M494.2 844.1v0M494.2 850.1v0M493.4 859.1v0M386.5 909.0v0M524.9 963.1v0M131.7 1007.0v0M485.7 944.6v0M403.9 914.0v0M278.0 982.2v0M170.1 954.3v0M404.4 909.0v0M331.9 998.1v0M530.4 899.8v0M411.6 952.6v0M343.0 1002.4v0M289.3 995.7v0M451.9 983.7v0M491.5 855.4v0M511.6 823.5v0M415.5 952.2v0M221.5 985.5v0M443.9 996.4v0M395.0 959.4v0M307.5 891.9v0M511.8 819.9v0M387.0 918.1v0M438.1 968.6v0M288.6 1006.5v0M418.2 945.3v0M336.4 984.7v0M248.4 956.0v0M166.3 997.2v0M301.5 969.5v0M341.5 1000.8v0M529.1 919.2v0M443.2 989.1v0M324.9 1013.7v0M250.5 958.2v0M413.5 952.2v0M284.8 1000.0v0M269.2 966.2v0M469.5 950.4v0M345.2 996.1v0M171.6 940.9v0M201.3 985.0v0M302.2 960.6v0M276.6 971.8v0M457.4 988.9v0M401.3 956.7v0M254.9 949.4v0M146.4 999.0v0M291.4 999.3v0M345.3 999.3v0M423.1 876.1v0M124.3 929.1v0M206.6 1030.3v0M337.1 983.1v0M220.6 955.3v0M218.2 974.4v0M462.2 920.9v0M302.7 948.8v0M463.5 890.4v0M277.8 980.7v0M284.8 998.2v0M399.3 960.1v0M172.3 950.5v0M195.5 963.7v0M260.2 938.5v0M276.5 981.2v0M462.7 916.8v0M155.6 1003.7v0M133.6 997.0v0M236.5 933.6v0M149.2 981.2v0M476.6 912.3v0M233.9 960.5v0M340.3 1002.2v0M311.0 1010.2v0M461.4 944.4v0M508.2 889.2v0M163.1 984.2v0M333.8 997.8v0M121.1 968.2v0M174.4 994.2v0M241.1 973.4v0M394.3 962.2v0M154.6 998.9v0M200.6 969.9v0M518.6 910.3v0M205.5 980.5v0M220.7 960.0v0M173.9 996.2v0M171.9 946.4v0M180.5 995.4v0M451.2 984.3v0M296.4 1006.6v0M312.9 1006.6v0M139.7 994.4v0M328.5 1005.8v0M190.8 986.5v0M495.0 906.2v0M266.6 985.4v0M225.0 1003.8v0M389.3 920.9v0M533.6 772.8v0M211.2 994.7v0M310.1 998.0v0M322.9 1016.1v0M186.5 923.7v0M328.8 1000.4v0M177.2 999.9v0M464.3 895.7v0M175.6 1001.6v0M349.4 983.9v0M149.5 966.9v0M248.5 955.3v0M152.7 968.6v0M184.2 946.6v0M384.0 939.5v0M521.9 950.8v0M163.7 986.7v0M159.5 1004.6v0M216.0 936.6v0M311.3 1012.4v0M203.1 985.5v0M503.4 908.2v0M149.2 985.1v0M320.9 1016.3v0M472.2 955.2v0M549.4 1018.7v0M190.2 988.4v0M192.1 982.0v0M394.7 954.9v0M468.7 955.1v0M122.9 966.8v0M514.5 885.8v0M431.3 990.1v0M228.6 998.7v0M514.9 885.4v0M154.7 998.3v0M470.6 955.4v0M336.2 983.1v0M452.5 996.1v0M528.5 957.1v0M169.0 975.8v0M263.8 982.8v0M218.5 974.4v0M498.7 897.2v0M504.8 852.8v0M187.6 936.3v0M234.0 945.6v0M431.1 988.8v0M339.9 1001.9v0M137.8 986.2v0M336.1 966.3v0M326.5 1007.6v0M361.1 895.8v0M151.1 957.5v0M249.5 957.5v0M183.6 953.9v0M458.5 967.8v0M375.5 964.8v0M419.5 897.4v0M349.3 987.3v0M403.4 918.4v0M478.1 910.3v0M402.1 961.4v0M299.0 999.5v0M386.9 924.1v0M180.3 1002.3v0M137.6 990.3v0M423.1 874.3v0M167.4 992.5v0M523.1 961.3v0M421.9 877.0v0M429.7 972.8v0M318.3 1013.8v0M222.1 975.1v0M234.4 941.7v0M364.4 919.0v0M495.9 907.6v0M230.8 1002.9v0M498.9 903.3v0M340.9 1001.6v0M431.2 986.8v0M167.6 989.5v0M217.1 977.6v0M427.7 962.7v0M437.1 963.6v0M272.8 920.6v0M327.5 1008.4v0M188.2 938.5v0M499.5 900.8v0M264.2 988.6v0M248.0 953.8v0M490.0 872.7v0M394.0 949.3v0M256.2 958.0v0M265.1 984.1v0M271.4 908.7v0M147.4 1004.0v0M304.2 935.8v0M381.2 967.3v0M403.7 913.2v0M372.6 932.6v0M348.0 991.8v0M305.4 916.0v0M511.0 829.8v0M293.4 995.1v0M481.6 950.4v0M215.6 960.7v0M199.8 958.0v0M487.4 938.6v0M322.1 1016.8v0M539.9 904.8v0M493.5 849.3v0M358.3 910.6v0M451.3 981.9v0M185.1 934.5v0M344.1 1000.2v0M165.6 997.2v0M358.8 910.9v0M301.1 974.4v0M260.3 941.1v0M532.1 854.7v0M414.0 953.2v0M214.8 959.9v0M181.0 989.4v0M224.3 988.4v0M252.0 931.7v0M497.0 894.5v0M530.0 901.1v0M282.0 991.8v0M511.1 818.5v0M407.6 887.4v0M252.9 944.5v0M410.8 939.2v0M269.3 972.2v0M479.1 912.7v0M407.0 884.2v0M531.2 883.2v0M163.2 988.1v0M220.5 974.8v0M515.8 884.3v0M133.3 994.9v0M269.8 939.0v0M154.0 995.4v0M180.7 1001.3v0M239.0 969.0v0M466.9 906.3v0M457.1 982.8v0M137.6 991.2v0M296.2 1005.8v0M405.5 900.0v0M181.0 996.2v0M360.8 894.6v0M508.0 891.7v0M211.1 994.0v0M440.7 971.8v0M286.8 1003.7v0M460.1 954.4v0M346.4 1001.4v0M142.4 1008.1v0M392.4 954.7v0M221.8 985.7v0M299.1 1002.6v0M373.1 936.2v0M142.4 1004.5v0M451.1 988.5v0M284.7 994.7v0M339.5 986.9v0M411.5 952.4v0M505.1 843.5v0M476.1 907.0v0M304.6 929.1v0M324.3 1003.1v0M154.7 996.0v0M495.0 904.2v0M153.4 979.7v0M232.1 991.8v0M124.4 931.1v0M338.8 1000.4v0M403.7 913.2v0M501.2 907.8v0M447.4 1001.8v0M533.2 791.6v0M404.6 907.1v0M478.2 907.5v0M442.4 994.4v0M542.3 929.8v0M542.7 924.6v0M473.4 954.4v0M160.5 977.2v0M378.9 972.5v0M530.7 896.0v0M148.9 985.1v0M545.1 891.8v0M251.0 952.9v0M118.2 967.0v0M228.8 1006.5v0M445.7 1000.9v0M142.8 1008.3v0M414.7 951.6v0M151.4 963.5v0M238.7 936.7v0M239.9 972.5v0M137.1 996.6v0M152.5 977.6v0M209.4 994.7v0M170.0 958.7v0M173.1 995.0v0M302.2 956.4v0M530.5 896.5v0M336.3 971.3v0M153.0 977.8v0M374.6 947.0v0M137.3 995.1v0M135.1 1000.9v0M421.1 888.2v0M204.3 990.4v0M206.6 995.3v0M186.5 920.7v0M214.0 972.4v0M432.9 970.0v0M402.9 903.3v0M329.9 999.8v0M288.2 1007.9v0M162.1 976.5v0M186.3 920.2v0M339.5 999.6v0M519.1 921.3v0M240.4 969.4v0M180.4 1030.3v0M147.9 986.6v0M247.6 956.8v0M381.7 969.8v0M217.8 979.0v0M489.0 950.1v0M489.6 881.1v0M136.7 994.7v0M511.7 823.7v0M373.7 947.0v0M175.1 1001.9v0M151.6 972.2v0M204.7 979.9v0M240.6 970.7v0M303.2 952.1v0M453.2 995.3v0M370.4 828.5v0M1336.7 977.6v0M1352.1 912.5v0M1261.9 994.4v0M1426.5 970.2v0M1267.8 976.9v0M1437.5 932.0v0M1426.5 967.6v0M1422.6 897.7v0M1450.7 919.7v0M1368.3 979.3v0M1254.6 973.1v0M1430.0 972.9v0M1431.0 971.6v0M1263.1 999.9v0M1433.8 962.8v0M1292.2 984.4v0M1380.9 991.3v0M1307.7 986.8v0M1420.1 954.6v0M1244.8 1008.0v0M1317.0 972.8v0M1380.0 985.5v0M1287.7 960.8v0M1448.3 933.6v0M1289.6 950.2v0M1365.1 977.2v0M1361.2 931.4v0M1378.7 972.6v0M1341.7 911.9v0M1416.7 898.9v0M1437.3 931.5v0M1325.3 999.1v0M1361.1 932.1v0M1322.8 997.7v0M1281.6 992.0v0M1313.4 979.8v0M1333.2 963.2v0M1365.6 980.5v0M1400.7 937.4v0M1273.6 961.8v0M1382.4 993.4v0M1252.5 985.2v0M1336.2 977.9v0M1251.6 1000.6v0M1457.5 982.7v0M1259.5 950.7v0M1435.2 933.3v0M1353.0 968.0v0M1354.9 976.9v0M1417.7 909.4v0M1449.6 917.7v0M1255.5 974.7v0M1266.1 994.7v0M1371.1 959.1v0M1362.6 922.1v0M1283.1 962.6v0M1406.6 981.5v0M1381.3 991.4v0M1269.3 983.3v0M1261.1 959.5v0M1418.0 951.4v0M1392.7 986.9v0M1360.3 960.7v0M1271.2 987.8v0M1288.2 957.5v0M1351.2 918.0v0M1455.6 990.8v0M1317.0 972.0v0M1313.8 976.7v0M1427.0 971.3v0M1402.0 946.5v0M1392.9 988.2v0M1450.8 920.8v0M1456.6 986.7v0M1336.5 970.0v0M1284.5 992.6v0M1366.3 981.8v0M1350.8 912.5v0M1265.0 999.6v0M1387.5 983.1v0M1395.6 976.6v0M1292.1 981.5v0M1273.9 963.4v0M1298.7 971.1v0M1372.1 972.7v0M1413.1 935.3v0M1255.0 976.4v0M1441.2 986.9v0M1359.6 974.0v0M1287.5 959.2v0M1439.3 979.0v0M1395.2 984.7v0M1445.8 981.1v0M1371.2 974.4v0M1241.5 1006.0v0M1261.5 995.3v0M1329.7 982.6v0M1366.8 974.9v0M1390.4 991.0v0M1272.3 990.7v0M1313.0 975.9v0M1246.5 1008.1v0M1333.2 956.4v0M1268.5 990.5v0M1410.1 985.0v0M1432.6 963.5v0M1305.7 984.2v0M1453.8 973.7v0M1446.4 981.9v0M1433.6 946.4v0M1407.4 983.8v0M1282.1 991.0v0M1408.3 988.9v0M1331.2 976.3v0M1438.4 919.3v0M1311.5 960.0v0M1340.8 919.1v0M1330.0 969.9v0M1280.7 988.8v0M1307.7 984.1v0M1286.0 986.9v0M1332.2 959.0v0M1346.4 927.5v0M1417.2 908.2v0M1369.3 969.2v0M1430.0 971.8v0M1359.4 977.3v0M1302.9 989.9v0M1451.4 919.7v0M1399.7 936.9v0M1281.0 972.6v0M1438.8 964.2v0M1283.6 992.2v0M1347.7 929.2v0M1398.7 950.3v0M1253.3 989.5v0M1435.3 934.5v0M1278.7 937.5v0M1417.4 903.9v0M1380.0 985.4v0M1441.1 985.5v0M1260.3 953.9v0M1401.4 940.0v0M1415.8 895.3v0M1346.4 951.7v0M1417.4 903.1v0M1396.9 951.1v0M1265.5 1000.1v0M1299.9 989.6v0M1296.1 984.8v0M1357.4 974.1v0M1429.6 961.9v0M1322.2 998.0v0M1322.7 994.2v0M1361.6 917.1v0M1366.1 982.5v0M1343.9 920.6v0M1272.4 992.9v0M1378.1 944.2v0M1402.5 964.5v0M1423.9 949.5v0M1334.7 919.2v0M1411.7 953.5v0M1258.7 956.3v0M1363.2 919.0v0M1435.8 933.6v0M1259.1 953.3v0M1437.8 931.0v0M1429.0 969.6v0M1371.1 974.4v0M1406.1 983.1v0M1270.3 990.2v0M1337.4 969.1v0M1305.3 978.0v0M1446.0 967.8v0M1249.8 984.6v0M1290.0 940.0v0M1341.8 918.5v0M1396.9 951.9v0M1338.8 958.9v0M1356.6 973.7v0M1355.7 973.9v0M1306.5 988.4v0M1281.9 985.2v0M1388.4 987.4v0M1395.6 975.1v0M1371.9 979.1v0M1433.0 963.2v0M1260.1 944.8v0M1384.5 992.1v0M1329.1 969.2v0M1347.1 947.2v0M1348.1 940.7v0M1250.6 1012.6v0M1421.3 953.3v0M1450.9 923.6v0M1256.3 966.9v0M1279.9 945.6v0M1320.6 991.4v0M1340.3 933.2v0M1370.2 981.0v0M1327.2 997.6v0M1350.5 915.7v0M1447.5 952.3v0M1430.5 971.3v0M1408.4 974.5v0M1418.4 953.9v0M1327.5 971.6v0M1339.9 952.5v0M1396.1 976.6v0M1305.5 974.1v0M1394.3 975.4v0M1289.6 962.5v0M1412.9 939.0v0M1356.5 976.3v0M1248.8 1009.3v0M1350.9 917.1v0M1344.3 905.9v0M1358.8 974.3v0M1224.0 1007.2v0M1237.2 1013.8v0M1178.5 970.4v0M1216.5 1006.5v0M1207.3 1001.7v0M1229.0 1015.8v0M1190.1 1017.7v0M1175.2 963.5v0M1236.2 1015.3v0M1179.3 966.2v0M1202.7 1006.7v0M1159.1 1017.4v0M1157.6 1018.1v0M1153.6 1013.1v0M1186.6 1001.3v0M1134.3 998.6v0M1142.9 1017.3v0M1170.7 994.4v0M1148.4 999.5v0M1188.2 1007.0v0M1163.9 986.0v0M1224.8 1006.8v0M1209.2 990.1v0M1162.9 996.0v0M1175.4 970.1v0M1173.7 979.4v0M1221.7 988.7v0M1210.5 981.4v0M1202.2 1008.9v0M1219.8 982.1v0M1168.0 969.9v0M1181.7 996.7v0M1148.7 992.4v0" fill="none" stroke="#1f77b4" stroke-width="5.4" stroke-linecap="round"/><path d="M115.0 968.6L116.6 986.6L117.0 992.5L118.2 993.2L119.8 998.9L120.0 997.7L121.4 986.4L123.0 969.7L123.0 970.6L124.6 993.1L125.0 999.8L126.2 988.8L127.0 981.4L127.8 997.3L129.4 1026.6L129.5 1029.2L131.0 1022.6L132.5 1014.5L132.6 1013.8L134.2 1009.9L135.5 1003.3L135.8 1002.3L137.4 1000.5L138.0 999.1L139.0 1003.0L140.6 1009.2L141.2 1013.6L142.2 1015.8L143.8 1022.1L143.8 1022.2L145.4 1013.7L146.2 1006.8L147.0 1001.9L148.6 994.5L149.5 985.8L150.2 991.6L151.8 1003.6L152.0 1006.3L153.4 1004.4L154.5 1003.8L155.0 1009.5L156.2 1016.6L156.6 1016.7L158.2 1017.4L159.8 1017.2L160.0 1017.2L161.4 1006.2L163.0 995.5L163.0 995.7L164.6 1005.6L166.2 1016.3L166.2 1017.6L167.8 1005.0L168.8 996.2L169.4 990.4L171.0 976.2L172.0 965.7L172.6 979.0L174.2 1015.4L174.5 1022.0L175.8 1016.0L177.4 1007.2L177.5 1009.6L179.0 1010.3L180.5 1011.3L180.6 1013.2L182.2 1018.6L182.5 1019.5L183.8 965.1L184.5 936.3L185.4 958.3L187.0 1000.8L187.0 1001.2L188.6 1011.5L189.5 1019.1L190.2 1016.0L191.8 1004.7L192.5 1001.8L193.4 991.9L195.0 972.0L196.2 956.2L196.6 961.8L198.2 999.6L198.8 1009.9L199.8 997.5L201.2 979.9L201.4 979.5L203.0 994.1L203.8 1001.0L204.6 1001.8L206.2 996.4L206.2 996.8L207.8 1001.4L208.8 1005.0L209.4 1004.6L211.0 1003.6L211.2 1002.2L212.6 994.9L214.2 990.6L215.0 987.2L215.8 988.3L217.4 987.9L218.0 987.8L219.0 984.0L220.6 975.0L221.2 972.4L222.2 985.3L223.0 997.2L223.8 1008.7L225.0 1022.6L225.4 1021.6L227.0 1015.5L228.0 1012.2L228.6 1013.1L230.2 1017.3L230.5 1016.3L231.8 1004.8L233.4 989.3L233.8 987.7L235.0 985.1L236.6 982.4L237.0 982.0L238.2 995.8L239.2 1010.3L239.8 1009.0L241.2 1002.0L241.4 999.9L243.0 966.9L244.2 940.7L244.6 953.9L246.2 1007.2L246.2 1009.6L247.8 992.1L248.8 982.3L249.4 976.5L251.0 970.7L252.0 964.3L252.6 966.3L254.2 974.6L254.5 977.0L255.8 971.0L257.0 964.8L257.4 970.2L259.0 989.6L260.0 1003.6L260.6 999.6L262.2 982.7L262.5 978.3L263.8 998.3L265.0 1015.8L265.4 1013.8L267.0 1006.3L268.0 999.3L268.6 989.1L270.2 958.2L271.2 937.0L271.8 944.6L273.4 967.0L273.8 968.9L275.0 981.1L276.6 999.0L277.0 1002.1L278.2 999.5L279.8 997.4L280.0 994.3L281.4 999.6L283.0 1002.4L283.0 1002.1L284.6 1006.3L286.2 1011.6L286.2 1010.6L287.8 1007.7L288.8 1007.3L289.4 1012.2L291.0 1018.6L292.0 1021.1L292.6 1021.2L294.2 1011.6L295.0 1007.3L295.8 1010.1L297.4 1015.0L297.5 1015.8L299.0 991.3L300.0 974.2L300.6 968.5L302.2 953.1L303.0 946.9L303.8 952.5L305.0 962.2L305.4 955.5L307.0 934.1L307.0 933.8L308.6 995.2L308.8 1001.0L310.2 1019.8L310.5 1023.5L311.8 1024.0L313.4 1022.4L313.8 1020.9L315.0 1020.8L316.6 1018.4L317.5 1018.2L318.2 1018.2L319.8 1021.4L321.2 1023.9L321.4 1024.4L323.0 1022.6L324.6 1020.2L325.0 1019.3L326.2 1017.6L327.8 1014.0L328.8 1012.2L329.4 1012.7L331.0 1017.4L332.0 1018.7L332.6 1017.8L334.2 1015.7L335.8 1014.5L336.2 1012.8L337.4 1010.9L339.0 1009.1L340.0 1009.1L340.6 1009.6L342.2 1010.0L343.8 1009.3L343.8 1009.6L345.4 1005.9L347.0 1002.8L347.5 1001.3L348.6 1000.3L350.2 996.6L351.2 996.0L351.8 997.1L353.4 995.2L353.8 996.2L355.0 970.3L356.2 946.7L356.6 956.8L358.0 993.7L358.2 990.9L359.8 969.5L360.5 956.4L361.4 935.0L362.5 909.0L363.0 923.5L364.6 968.3L365.0 980.3L366.2 952.5L367.5 921.7L367.8 918.3L369.4 899.0L370.0 892.0L371.0 912.1L372.5 942.6L372.6 943.4L374.2 964.8L375.0 975.3L375.8 984.4L377.4 1006.2L378.0 1011.6L379.0 1001.5L380.0 991.6L380.6 991.9L382.2 988.2L383.0 986.4L383.8 979.4L385.4 963.9L386.2 954.4L387.0 968.2L388.0 987.9L388.6 983.7L390.0 974.0L390.2 974.0L391.8 986.2L393.0 994.8L393.4 989.3L395.0 977.0L396.2 964.6L396.6 967.4L398.2 983.9L398.8 987.1L399.8 984.8L401.4 982.9L402.0 982.5L403.0 984.2L404.5 985.7L404.6 982.1L406.2 935.9L407.0 912.6L407.8 930.4L409.4 967.2L409.5 969.1L411.0 961.0L411.2 958.8L412.6 968.2L413.8 976.8L414.2 976.3L415.8 975.9L416.2 973.8L417.4 978.1L418.8 982.0L419.0 977.0L420.6 953.7L420.8 950.9L422.2 955.7L423.8 965.0L423.8 965.7L425.4 978.7L426.2 988.4L427.0 990.6L428.6 996.9L429.5 1002.5L430.2 1003.2L431.8 1005.7L432.5 1006.5L433.4 1009.4L435.0 1010.1L436.2 1012.5L436.6 1012.7L438.2 1013.5L438.8 1014.1L439.8 1001.5L440.8 988.4L441.4 994.8L443.0 1011.7L443.0 1011.2L444.6 1010.5L446.2 1010.9L446.2 1009.9L447.8 1011.8L449.4 1013.7L450.0 1015.9L451.0 1015.4L452.6 1016.8L453.0 1017.6L454.2 1012.3L455.8 1004.2L456.2 1001.7L457.4 1008.8L458.0 1013.5L459.0 996.9L460.6 970.9L461.2 963.3L462.2 952.1L463.2 943.6L463.8 944.5L465.4 956.8L465.8 959.3L467.0 972.3L468.0 981.5L468.6 978.5L470.2 972.0L471.2 969.4L471.8 968.4L473.4 966.5L474.5 967.5L475.0 971.6L476.6 988.7L477.0 991.6L478.2 973.6L479.5 953.1L479.8 957.6L481.4 982.4L481.8 987.5L483.0 980.5L484.6 971.8L485.0 968.3L486.2 980.1L487.0 988.6L487.8 970.2L488.8 948.9L489.4 939.4L491.0 912.8L491.2 909.0L492.6 884.6L493.8 861.7L494.2 881.2L495.8 944.4L496.2 962.7L497.4 954.8L499.0 940.8L499.2 940.7L500.6 953.9L501.8 966.6L502.2 945.0L503.8 870.5L503.8 867.6L505.0 824.6L505.4 842.8L507.0 923.2L508.0 973.3L508.6 949.6L510.0 892.0L510.2 886.7L511.8 848.5L512.5 830.9L513.4 886.6L515.0 981.4L515.0 981.1L516.6 911.4L517.5 871.5L518.2 902.5L519.8 973.9L520.0 981.4L521.4 970.2L522.5 963.3L523.0 976.1L524.5 1013.5L524.6 1013.4L526.2 1008.4L527.5 1005.7L527.8 998.7L529.4 970.4L531.0 941.9L531.2 938.2L532.6 907.1L533.8 882.2L534.2 873.4L535.8 845.2L535.8 847.5L537.4 920.9L538.2 960.2L539.0 947.3L540.5 924.0L540.6 926.5L542.2 963.9L543.0 982.6L543.8 961.4L545.4 923.4L545.8 913.7L547.0 984.7L547.5 1011.2L548.0 1031.1L548.6 1029.6L550.0 1025.8L550.2 1025.7L551.8 1025.6L553.4 1025.4L555.0 1025.3L556.6 1025.1L557.5 1025.0L558.2 1024.8L559.8 1024.4L561.4 1024.0L562.5 1023.8L563.0 1024.1L564.6 1025.3L566.2 1026.5L566.2 1026.5L567.8 1026.6L569.4 1026.7L571.0 1026.8L572.6 1026.9L574.2 1027.0L575.0 1027.0L575.8 1027.0L577.4 1027.0L578.8 1027.0L579.0 1026.4L580.6 1022.9L581.0 1022.0L582.2 1025.7L583.0 1028.2L583.8 1028.5L585.4 1028.9L587.0 1029.4L587.5 1029.5L588.6 1029.1L590.2 1028.6L591.8 1028.1L593.4 1027.5L595.0 1027.0L595.0 1027.0L596.6 1026.9L598.2 1026.7L599.8 1026.6L601.2 1026.5L601.4 1026.6L603.0 1027.4L604.6 1028.2L606.2 1029.0L606.2 1029.0L607.8 1029.0L609.4 1029.0L611.0 1029.0L612.6 1029.0L614.2 1029.0L615.8 1029.0L617.4 1029.0L619.0 1029.0L620.6 1029.0L622.2 1029.0L623.8 1029.0L625.0 1029.0L625.4 1029.0L627.0 1028.9L628.6 1028.9L630.2 1028.8L631.8 1028.7L633.4 1028.7L635.0 1028.6L636.6 1028.5L637.5 1028.5L638.2 1028.4L639.8 1028.0L641.4 1027.7L643.0 1027.4L644.6 1027.1L645.0 1027.0L646.2 1027.2L647.8 1027.5L649.4 1027.7L651.0 1028.0L652.5 1028.2L652.6 1028.3L654.2 1028.6L655.8 1028.9L657.4 1029.2L659.0 1029.5L660.6 1029.9L662.2 1030.2L663.8 1030.5L665.0 1030.8L665.4 1030.7L667.0 1030.6L668.6 1030.5L670.2 1030.4L671.8 1030.2L673.4 1030.1L675.0 1030.0L675.0 1030.0L676.6 1029.2L678.2 1028.5L679.8 1027.7L681.2 1027.0L681.4 1026.9L683.0 1026.4L684.6 1025.8L686.2 1025.2L687.8 1024.6L688.0 1024.5L689.4 1025.3L691.0 1026.2L692.5 1027.0L692.6 1027.0L694.2 1027.1L695.8 1027.2L697.4 1027.2L699.0 1027.3L700.6 1027.4L702.2 1027.5L702.5 1027.5L703.8 1027.3L705.4 1027.0L707.0 1026.8L708.6 1026.5L708.8 1026.5L710.2 1024.8L711.5 1023.2L711.8 1024.1L713.4 1028.5L713.8 1029.5L715.0 1029.6L716.6 1029.8L718.2 1030.0L719.8 1030.2L721.4 1030.3L723.0 1030.5L724.6 1030.7L725.0 1030.8L726.2 1030.5L727.8 1030.1L729.4 1029.7L731.0 1029.3L732.6 1028.9L734.2 1028.5L735.0 1028.2L735.8 1028.1L737.4 1027.9L739.0 1027.7L740.0 1027.5L740.6 1027.7L742.2 1028.1L743.8 1028.5L745.4 1028.9L747.0 1029.4L747.5 1029.5L748.6 1029.5L750.2 1029.5L751.8 1029.5L753.4 1029.5L755.0 1029.5L755.0 1029.5L756.6 1028.6L758.2 1027.8L758.8 1027.5L759.8 1027.8L761.4 1028.1L763.0 1028.5L764.6 1028.9L765.0 1029.0L766.2 1029.1L767.8 1029.2L769.4 1029.4L771.0 1029.5L771.2 1029.5L772.6 1028.4L774.2 1027.0L774.2 1027.0L775.8 1028.2L777.4 1029.4L777.5 1029.5L779.0 1029.7L780.6 1030.0L782.2 1030.3L783.8 1030.5L785.0 1030.8L785.4 1030.8L787.0 1030.8L788.6 1030.8L790.2 1030.8L791.8 1030.8L793.4 1030.8L795.0 1030.8L796.6 1030.8L797.5 1030.8L798.2 1030.6L799.8 1030.2L801.4 1029.8L803.0 1029.5L804.6 1029.1L805.0 1029.0L806.2 1029.3L807.8 1029.8L809.4 1030.2L811.0 1030.7L811.2 1030.8L812.6 1030.6L814.2 1030.5L815.8 1030.4L817.4 1030.3L819.0 1030.2L820.6 1030.0L821.2 1030.0L822.2 1028.5L823.8 1026.1L824.5 1025.0L825.4 1025.4L827.0 1026.2L827.5 1026.5L828.6 1025.3L830.2 1023.6L830.5 1023.2L831.8 1024.7L833.4 1026.6L833.8 1027.0L835.0 1026.5L836.6 1025.7L838.2 1025.0L839.8 1024.3L840.0 1024.2L841.4 1024.0L843.0 1023.8L844.6 1023.6L845.0 1023.5L846.2 1019.7L847.5 1015.5L847.8 1016.5L849.4 1022.1L850.0 1024.2L851.0 1023.6L852.6 1022.5L853.8 1021.8L854.2 1019.2L855.8 1010.2L857.0 1003.5L857.4 1006.2L859.0 1017.1L859.5 1020.5L860.6 1017.8L862.0 1014.2L862.2 1014.8L863.8 1019.6L864.5 1021.8L865.4 1022.2L867.0 1023.0L867.0 1023.0L868.6 1020.3L870.0 1018.0L870.2 1018.7L871.8 1024.3L872.5 1026.8L873.4 1027.0L875.0 1027.6L876.2 1028.0L876.6 1027.5L878.2 1025.1L879.8 1022.8L880.0 1022.5L881.4 1025.3L882.5 1027.5L883.0 1027.7L884.6 1028.2L886.2 1028.8L887.5 1029.2L887.8 1029.2L889.4 1029.2L891.0 1029.2L892.6 1029.2L894.2 1029.2L895.0 1029.2L895.8 1029.2L897.4 1029.2L899.0 1029.2L900.6 1029.2L902.2 1029.2L902.5 1029.2L903.8 1028.9L905.4 1028.4L907.0 1028.0L908.6 1027.5L908.8 1027.5L910.2 1026.1L911.2 1025.0L911.8 1025.4L913.4 1026.7L915.0 1028.0L915.0 1028.0L916.6 1026.8L918.2 1025.6L919.8 1024.4L920.0 1024.2L921.4 1025.8L923.0 1027.5L923.0 1027.5L924.6 1027.3L926.2 1027.1L927.8 1026.9L928.8 1026.8L929.4 1025.8L931.0 1023.3L932.5 1021.0L932.6 1021.2L934.2 1024.1L935.0 1025.5L935.8 1025.4L937.4 1025.3L939.0 1025.1L940.0 1025.0L940.6 1024.4L942.2 1022.6L943.0 1021.8L943.8 1022.5L945.4 1024.1L946.2 1025.0L947.0 1024.7L948.6 1024.1L950.0 1023.5L950.2 1023.5L951.8 1023.5L953.4 1023.5L955.0 1023.5L956.2 1023.5L956.6 1023.6L958.2 1024.3L959.8 1024.9L961.2 1025.5L961.4 1025.6L963.0 1026.2L964.6 1026.8L966.2 1027.5L966.2 1027.5L967.8 1024.5L969.2 1021.8L969.4 1022.1L971.0 1025.7L972.0 1028.0L972.6 1027.6L974.2 1026.4L975.5 1025.5L975.8 1025.7L977.4 1026.8L979.0 1027.8L980.0 1028.5L980.6 1028.5L982.2 1028.4L983.8 1028.2L985.4 1028.1L987.0 1028.0L987.5 1028.0L988.6 1027.6L990.2 1027.1L991.8 1026.6L993.4 1026.0L995.0 1025.5L995.0 1025.5L996.6 1026.1L998.2 1026.8L999.8 1027.4L1000.0 1027.5L1001.4 1026.9L1003.0 1026.3L1004.6 1025.7L1005.0 1025.5L1006.2 1026.2L1007.8 1027.2L1009.4 1028.1L1010.0 1028.5L1011.0 1028.2L1012.6 1027.8L1014.2 1027.3L1015.8 1026.9L1016.2 1026.8L1017.4 1023.4L1019.0 1018.7L1019.2 1018.0L1020.6 1023.1L1021.8 1027.5L1022.2 1027.6L1023.8 1028.0L1025.4 1028.3L1026.2 1028.5L1027.0 1028.0L1028.6 1026.9L1030.2 1025.7L1031.2 1025.0L1031.8 1025.5L1033.4 1027.0L1035.0 1028.5L1035.0 1028.5L1036.6 1028.5L1038.2 1028.5L1039.8 1028.5L1041.4 1028.5L1042.5 1028.5L1043.0 1028.3L1044.6 1027.8L1046.2 1027.3L1047.8 1026.7L1049.4 1026.2L1050.0 1026.0L1051.0 1026.1L1052.6 1026.4L1054.2 1026.6L1055.0 1026.8L1055.8 1026.5L1057.4 1025.9L1059.0 1025.4L1060.0 1025.0L1060.6 1024.8L1062.2 1024.3L1063.8 1023.9L1065.0 1023.5L1065.4 1023.2L1067.0 1021.8L1068.6 1020.4L1070.0 1019.2L1070.2 1019.6L1071.8 1022.2L1073.4 1024.9L1073.8 1025.5L1075.0 1026.1L1076.6 1026.9L1078.2 1027.7L1078.8 1028.0L1079.8 1027.9L1081.4 1027.8L1083.0 1027.7L1084.6 1027.5L1085.0 1027.5L1086.2 1026.2L1087.8 1024.5L1088.8 1023.5L1089.4 1024.2L1091.0 1025.9L1092.5 1027.5L1092.6 1027.5L1094.2 1027.6L1095.8 1027.7L1097.4 1027.8L1099.0 1027.9L1100.0 1028.0L1100.6 1027.8L1102.2 1027.1L1103.8 1026.5L1105.4 1025.8L1106.2 1025.5L1107.0 1025.6L1108.6 1026.0L1110.2 1026.3L1111.8 1026.6L1112.5 1026.8L1113.4 1026.7L1115.0 1026.5L1116.6 1026.3L1118.2 1026.2L1119.8 1026.0L1120.0 1026.0L1121.4 1025.8L1123.0 1025.5L1124.6 1025.3L1126.2 1025.0L1126.2 1025.0L1127.8 1022.8L1129.4 1020.6L1131.0 1018.4L1131.2 1018.0L1132.6 1016.7L1133.8 1015.5L1134.2 1013.0L1135.8 1004.2L1135.8 1004.7L1137.4 1019.8L1138.0 1025.5L1139.0 1026.1L1140.6 1027.1L1141.2 1027.5L1142.2 1026.4L1143.8 1024.6L1145.4 1022.7L1146.2 1021.8L1147.0 1020.4L1148.6 1017.6L1149.5 1016.0L1150.2 1018.0L1151.8 1022.4L1152.0 1023.0L1153.4 1023.1L1155.0 1023.3L1156.6 1023.4L1157.5 1023.5L1158.2 1023.8L1159.8 1024.4L1161.2 1025.0L1161.4 1024.0L1163.0 1013.1L1163.8 1008.0L1164.6 1003.8L1166.2 995.8L1166.2 995.5L1167.8 1003.2L1168.8 1008.0L1169.4 1011.7L1170.5 1018.0L1171.0 1015.8L1172.6 1008.6L1173.0 1006.8L1174.2 1004.4L1175.5 1001.8L1175.8 1002.5L1177.4 1006.5L1177.5 1006.8L1179.0 1003.0L1179.5 1001.8L1180.6 1007.7L1182.2 1016.4L1182.5 1018.0L1183.8 1015.4L1185.0 1013.0L1185.4 1012.5L1187.0 1010.5L1188.0 1009.2L1188.6 1011.9L1190.2 1019.1L1190.5 1020.5L1191.8 1021.4L1193.4 1022.4L1195.0 1023.5L1195.0 1023.5L1196.6 1021.3L1198.2 1019.2L1199.8 1017.0L1200.0 1016.8L1201.4 1018.0L1203.0 1019.5L1203.0 1019.5L1204.6 1019.5L1206.0 1019.5L1206.2 1019.0L1207.8 1015.0L1208.5 1013.2L1209.4 1011.5L1211.0 1008.3L1211.0 1008.2L1212.6 1019.8L1213.2 1024.5L1214.2 1022.8L1215.8 1019.9L1216.0 1019.5L1217.4 1017.4L1218.5 1015.8L1219.0 1014.9L1220.6 1012.3L1221.5 1010.8L1222.2 1012.1L1223.8 1015.3L1224.0 1015.8L1225.4 1016.3L1227.0 1017.0L1227.0 1017.0L1228.6 1019.5L1230.2 1021.9L1230.2 1022.0L1231.8 1021.5L1233.4 1021.0L1234.0 1020.8L1235.0 1021.7L1236.6 1023.3L1237.8 1024.5L1238.2 1024.3L1239.8 1023.5L1240.2 1023.2L1241.4 1019.0L1242.8 1015.9L1243.0 1016.3L1244.6 1018.9L1245.8 1021.0L1246.2 1021.6L1247.8 1020.8L1249.4 1022.0L1249.5 1022.0L1251.0 1014.0L1252.6 1009.2L1252.8 1007.6L1254.2 1009.8L1255.2 1011.6L1255.8 1008.0L1257.4 996.1L1257.8 993.6L1259.0 985.6L1259.5 983.8L1260.6 991.8L1262.0 1001.7L1262.2 1003.6L1263.8 1017.3L1264.0 1018.6L1265.4 1011.1L1266.5 1004.6L1267.0 1006.2L1268.6 1009.4L1269.0 1008.6L1270.2 1004.5L1271.8 1003.8L1272.0 1001.5L1273.4 990.4L1274.5 981.4L1275.0 989.8L1276.5 1009.1L1276.6 1007.7L1278.2 985.0L1279.0 975.7L1279.8 985.8L1281.4 1008.0L1282.0 1017.1L1283.0 1010.2L1284.5 999.5L1284.6 1000.0L1286.2 1000.3L1287.0 1004.5L1287.8 995.6L1289.4 982.2L1289.5 980.1L1291.0 999.6L1291.5 1005.6L1292.6 1006.1L1294.0 1009.8L1294.2 1009.2L1295.8 1001.1L1297.0 995.3L1297.4 998.3L1299.0 1005.3L1299.5 1008.3L1300.6 1009.3L1302.0 1012.0L1302.2 1009.8L1303.8 997.0L1304.5 992.1L1305.4 995.2L1307.0 1006.7L1307.8 1011.3L1308.6 1004.7L1310.2 991.4L1310.2 990.9L1311.8 996.1L1312.8 997.7L1313.4 999.5L1315.0 1001.5L1315.2 1002.0L1316.6 996.2L1317.8 990.5L1318.2 993.7L1319.8 1003.3L1321.0 1011.6L1321.4 1011.1L1323.0 1013.0L1323.5 1015.3L1324.6 1011.9L1326.2 1009.2L1326.5 1009.1L1327.8 1006.1L1329.0 1006.3L1329.4 1005.1L1331.0 1000.1L1331.5 999.0L1332.6 988.4L1334.0 975.5L1334.2 977.0L1335.8 1001.8L1336.5 1011.6L1337.4 1002.2L1339.0 982.1L1339.0 981.0L1340.6 971.4L1342.0 961.2L1342.2 965.3L1343.8 984.2L1344.5 991.5L1345.4 990.7L1347.0 987.8L1347.0 987.3L1348.6 980.1L1349.5 977.5L1350.2 972.6L1351.8 962.1L1352.0 960.2L1353.4 983.6L1354.5 1001.4L1355.0 1004.2L1356.6 1010.6L1357.0 1012.0L1358.2 1002.1L1359.5 989.8L1359.8 988.1L1361.4 970.8L1362.0 964.8L1363.0 982.4L1364.5 1009.3L1364.6 1009.6L1366.2 1007.6L1367.0 1005.5L1367.8 1003.2L1369.4 996.7L1369.5 997.3L1371.0 990.1L1372.6 981.7L1372.8 982.9L1374.2 992.2L1375.2 1000.8L1375.8 993.9L1377.2 978.1L1377.4 982.0L1379.0 1001.1L1379.8 1010.4L1380.6 1014.7L1382.2 1018.9L1382.8 1021.8L1383.8 1001.4L1385.2 969.2L1385.4 971.2L1387.0 986.6L1387.8 993.4L1388.6 997.4L1390.2 1006.7L1390.2 1005.7L1391.8 999.8L1393.4 993.2L1394.0 989.7L1395.0 998.0L1396.5 1008.3L1396.6 1008.3L1398.2 1001.1L1399.0 998.2L1399.8 995.9L1401.4 997.8L1401.5 997.9L1403.0 981.8L1404.0 972.3L1404.6 976.9L1406.2 990.4L1407.0 995.7L1407.8 999.0L1409.4 1005.3L1410.2 1007.9L1411.0 1001.4L1412.6 988.2L1412.8 986.8L1414.2 977.5L1415.2 973.3L1415.8 968.4L1417.4 960.7L1417.8 958.7L1419.0 985.8L1419.5 995.3L1420.6 977.4L1422.0 956.1L1422.2 959.0L1423.8 980.9L1424.5 991.2L1425.4 993.9L1427.0 995.8L1427.8 996.8L1428.6 996.1L1430.2 992.6L1430.2 995.3L1431.8 986.2L1432.8 981.8L1433.4 979.6L1434.5 975.4L1435.0 982.5L1436.5 997.8L1436.6 997.3L1438.2 976.3L1438.2 976.3L1439.8 985.7L1440.2 989.2L1441.4 999.9L1442.8 1011.4L1443.0 1012.5L1444.6 1019.0L1445.2 1022.3L1446.2 1015.8L1447.8 1008.9L1447.8 1005.6L1449.4 950.1L1450.2 921.0L1451.0 951.6L1452.6 1015.1L1452.8 1022.5L1454.2 1010.5L1455.2 1003.0L1455.8 1007.5L1457.0 1017.4L1457.4 1011.9L1459.0 993.2L1459.5 986.3L1460.6 984.5L1462.2 981.0L1462.5 981.0" fill="none" stroke="#ff7f0e" stroke-width="2.6" stroke-linejoin="round"/>
</g>
<path class="k" d="M115.50 1054.50v5.3M284.50 1054.50v5.3M452.50 1054.50v5.3M620.50 1054.50v5.3M789.50 1054.50v5.3M957.50 1054.50v5.3M1125.50 1054.50v5.3M1294.50 1054.50v5.3M115.50 578.50h-5.3M115.50 635.50h-5.3M115.50 692.50h-5.3M115.50 749.50h-5.3M115.50 805.50h-5.3M115.50 862.50h-5.3M115.50 919.50h-5.3M115.50 976.50h-5.3M115.50 1033.50h-5.3"/>
<rect class="k" x="115.50" y="575.50" width="1347.00" height="479.00"/>
<text class="t" text-anchor="end" x="105.40" y="586.60">0.08</text>
<text class="t" text-anchor="end" x="105.40" y="643.60">0.07</text>
<text class="t" text-anchor="end" x="105.40" y="700.60">0.06</text>
<text class="t" text-anchor="end" x="105.40" y="757.60">0.05</text>
<text class="t" text-anchor="end" x="105.40" y="813.60">0.04</text>
<text class="t" text-anchor="end" x="105.40" y="870.60">0.03</text>
<text class="t" text-anchor="end" x="105.40" y="927.60">0.02</text>
<text class="t" text-anchor="end" x="105.40" y="984.60">0.01</text>
<text class="t" text-anchor="end" x="105.40" y="1041.60">0.00</text>
<rect x="1047.40" y="585.10" width="406.60" height="80.20" rx="3.7" fill="#fff" fill-opacity="0.8" stroke="#ccc" stroke-opacity="0.8" stroke-width="1.39"/>
<circle cx="1073.50" cy="599.70" r="3.0" fill="#1f77b4"/>
<path d="M1053.00 638.80h39" stroke="#ff7f0e" stroke-width="2.3" fill="none"/>
<text class="l" x="1105.6" y="606.40">Raw Data</text>
<text class="l" x="1105.6" y="633.40">Butterworth Filtered Data</text>
<text class="l" x="1105.6" y="655.10">(N=6, Tc=3.3333 min, Type: low)</text>
</g>
<text class="T" text-anchor="middle" x="784.50" y="30.0">15.0 MHz N0000053</text>
<text class="T" x="115.80" y="30.0">(a)</text>
<text class="T" x="115.80" y="566.8">(b)</text>
<text class="t" text-anchor="middle" transform="translate(62.0,278.70) rotate(-90)">Doppler Shift [Hz]</text>
<text class="t" text-anchor="middle" transform="translate(40.6,815.90) rotate(-90)">Peak Voltage [V]</text>
<text class="t" text-anchor="end" transform="translate(113.00,1078.7) rotate(-30)">06-25 00</text>
<text class="t" text-anchor="end" transform="translate(282.00,1078.7) rotate(-30)">06-25 03</text>
<text class="t" text-anchor="end" transform="translate(450.00,1078.7) rotate(-30)">06-25 06</text>
<text class="t" text-anchor="end" transform="translate(618.00,1078.7) rotate(-30)">06-25 09</text>
<text class="t" text-anchor="end" transform="translate(787.00,1078.7) rotate(-30)">06-25 12</text>
<text class="t" text-anchor="end" transform="translate(955.00,1078.7) rotate(-30)">06-25 15</text>
<text class="t" text-anchor="end" transform="translate(1123.00,1078.7) rotate(-30)">06-25 18</text>
<text class="t" text-anchor="end" transform="translate(1292.00,1078.7) rotate(-30)">06-25 21</text>
<text class="t" text-anchor="middle" x="789.00" y="1157.8">UTC</text>
</svg></body></html>
